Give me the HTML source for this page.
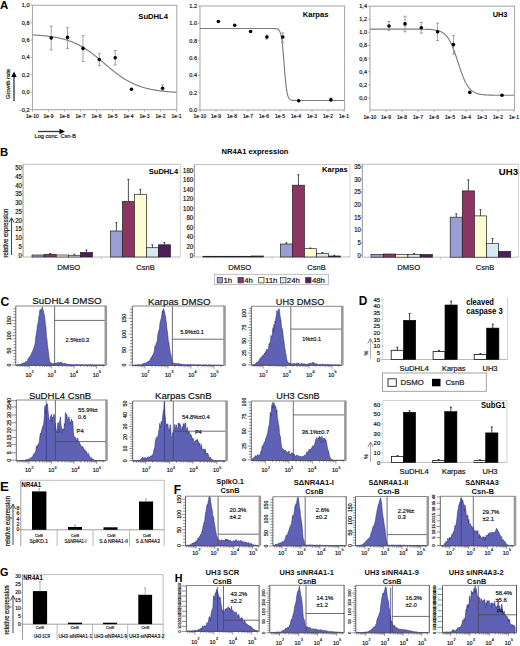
<!DOCTYPE html>
<html><head><meta charset="utf-8"><style>
html,body{margin:0;padding:0;background:#fff;}
svg{display:block;}
text{font-family:"Liberation Sans", sans-serif;}
</style></head><body>
<svg width="520" height="646" viewBox="0 0 520 646">
<rect width="520" height="646" fill="#fff"/>
<text x="0.00" y="9.31" font-size="11.45" font-weight="bold">A</text>
<rect x="32.50" y="5.30" width="144.30" height="104.40" fill="none" stroke="#ababab" stroke-width="1.1"/>
<line x1="30.50" y1="5.30" x2="32.50" y2="5.30" stroke="#ababab" stroke-width="0.9" />
<text x="29.50" y="7.26" font-size="5.6" text-anchor="end" fill="#111" stroke="#111" stroke-width="0.18">1,0</text>
<line x1="30.50" y1="22.70" x2="32.50" y2="22.70" stroke="#ababab" stroke-width="0.9" />
<text x="29.50" y="24.66" font-size="5.6" text-anchor="end" fill="#111" stroke="#111" stroke-width="0.18">0,8</text>
<line x1="30.50" y1="40.10" x2="32.50" y2="40.10" stroke="#ababab" stroke-width="0.9" />
<text x="29.50" y="42.06" font-size="5.6" text-anchor="end" fill="#111" stroke="#111" stroke-width="0.18">0,6</text>
<line x1="30.50" y1="57.50" x2="32.50" y2="57.50" stroke="#ababab" stroke-width="0.9" />
<text x="29.50" y="59.46" font-size="5.6" text-anchor="end" fill="#111" stroke="#111" stroke-width="0.18">0,4</text>
<line x1="30.50" y1="74.90" x2="32.50" y2="74.90" stroke="#ababab" stroke-width="0.9" />
<text x="29.50" y="76.86" font-size="5.6" text-anchor="end" fill="#111" stroke="#111" stroke-width="0.18">0,2</text>
<line x1="30.50" y1="92.30" x2="32.50" y2="92.30" stroke="#ababab" stroke-width="0.9" />
<text x="29.50" y="94.26" font-size="5.6" text-anchor="end" fill="#111" stroke="#111" stroke-width="0.18">0,0</text>
<line x1="30.50" y1="109.70" x2="32.50" y2="109.70" stroke="#ababab" stroke-width="0.9" />
<text x="29.50" y="111.66" font-size="5.6" text-anchor="end" fill="#111" stroke="#111" stroke-width="0.18">-0,2</text>
<line x1="32.50" y1="109.70" x2="32.50" y2="111.70" stroke="#ababab" stroke-width="0.9" />
<text x="32.50" y="118.05" font-size="5.0" text-anchor="middle" fill="#111" stroke="#111" stroke-width="0.18">1e-10</text>
<line x1="48.50" y1="109.70" x2="48.50" y2="111.70" stroke="#ababab" stroke-width="0.9" />
<text x="48.50" y="118.05" font-size="5.0" text-anchor="middle" fill="#111" stroke="#111" stroke-width="0.18">1e-9</text>
<line x1="64.50" y1="109.70" x2="64.50" y2="111.70" stroke="#ababab" stroke-width="0.9" />
<text x="64.50" y="118.05" font-size="5.0" text-anchor="middle" fill="#111" stroke="#111" stroke-width="0.18">1e-8</text>
<line x1="80.50" y1="109.70" x2="80.50" y2="111.70" stroke="#ababab" stroke-width="0.9" />
<text x="80.50" y="118.05" font-size="5.0" text-anchor="middle" fill="#111" stroke="#111" stroke-width="0.18">1e-7</text>
<line x1="96.50" y1="109.70" x2="96.50" y2="111.70" stroke="#ababab" stroke-width="0.9" />
<text x="96.50" y="118.05" font-size="5.0" text-anchor="middle" fill="#111" stroke="#111" stroke-width="0.18">1e-6</text>
<line x1="112.50" y1="109.70" x2="112.50" y2="111.70" stroke="#ababab" stroke-width="0.9" />
<text x="112.50" y="118.05" font-size="5.0" text-anchor="middle" fill="#111" stroke="#111" stroke-width="0.18">1e-5</text>
<line x1="128.50" y1="109.70" x2="128.50" y2="111.70" stroke="#ababab" stroke-width="0.9" />
<text x="128.50" y="118.05" font-size="5.0" text-anchor="middle" fill="#111" stroke="#111" stroke-width="0.18">1e-4</text>
<line x1="144.50" y1="109.70" x2="144.50" y2="111.70" stroke="#ababab" stroke-width="0.9" />
<text x="144.50" y="118.05" font-size="5.0" text-anchor="middle" fill="#111" stroke="#111" stroke-width="0.18">1e-3</text>
<line x1="160.50" y1="109.70" x2="160.50" y2="111.70" stroke="#ababab" stroke-width="0.9" />
<text x="160.50" y="118.05" font-size="5.0" text-anchor="middle" fill="#111" stroke="#111" stroke-width="0.18">1e-2</text>
<line x1="176.50" y1="109.70" x2="176.50" y2="111.70" stroke="#ababab" stroke-width="0.9" />
<text x="176.50" y="118.05" font-size="5.0" text-anchor="middle" fill="#111" stroke="#111" stroke-width="0.18">1e-1</text>
<text x="138.30" y="19.20" font-size="7.5" font-weight="bold" textLength="29.70" lengthAdjust="spacingAndGlyphs">SuDHL4</text>
<path d="M32.50,34.93 L33.00,34.96 L33.50,34.99 L34.00,35.01 L34.50,35.04 L35.00,35.07 L35.50,35.10 L36.00,35.14 L36.50,35.17 L37.00,35.20 L37.50,35.23 L38.00,35.27 L38.50,35.31 L39.00,35.34 L39.50,35.38 L40.00,35.42 L40.50,35.46 L41.00,35.50 L41.50,35.54 L42.00,35.59 L42.50,35.63 L43.00,35.68 L43.50,35.72 L44.00,35.77 L44.50,35.82 L45.00,35.87 L45.50,35.93 L46.00,35.98 L46.50,36.04 L47.00,36.09 L47.50,36.15 L48.00,36.21 L48.50,36.28 L49.00,36.34 L49.50,36.40 L50.00,36.47 L50.50,36.54 L51.00,36.61 L51.50,36.68 L52.00,36.76 L52.50,36.83 L53.00,36.91 L53.50,36.99 L54.00,37.07 L54.50,37.16 L55.00,37.25 L55.50,37.34 L56.00,37.43 L56.50,37.52 L57.00,37.62 L57.50,37.72 L58.00,37.82 L58.50,37.92 L59.00,38.03 L59.50,38.14 L60.00,38.25 L60.50,38.36 L61.00,38.48 L61.50,38.60 L62.00,38.72 L62.50,38.85 L63.00,38.98 L63.50,39.11 L64.00,39.25 L64.50,39.39 L65.00,39.53 L65.50,39.68 L66.00,39.83 L66.50,39.98 L67.00,40.13 L67.50,40.29 L68.00,40.46 L68.50,40.63 L69.00,40.80 L69.50,40.97 L70.00,41.15 L70.50,41.33 L71.00,41.52 L71.50,41.71 L72.00,41.90 L72.50,42.10 L73.00,42.31 L73.50,42.51 L74.00,42.73 L74.50,42.94 L75.00,43.16 L75.50,43.39 L76.00,43.62 L76.50,43.85 L77.00,44.09 L77.50,44.33 L78.00,44.58 L78.50,44.83 L79.00,45.09 L79.50,45.35 L80.00,45.62 L80.50,45.89 L81.00,46.16 L81.50,46.44 L82.00,46.73 L82.50,47.02 L83.00,47.31 L83.50,47.61 L84.00,47.91 L84.50,48.22 L85.00,48.54 L85.50,48.85 L86.00,49.18 L86.50,49.50 L87.00,49.83 L87.50,50.17 L88.00,50.51 L88.50,50.86 L89.00,51.20 L89.50,51.56 L90.00,51.92 L90.50,52.28 L91.00,52.64 L91.50,53.01 L92.00,53.38 L92.50,53.76 L93.00,54.14 L93.50,54.53 L94.00,54.91 L94.50,55.30 L95.00,55.70 L95.50,56.09 L96.00,56.49 L96.50,56.90 L97.00,57.30 L97.50,57.71 L98.00,58.12 L98.50,58.53 L99.00,58.95 L99.50,59.36 L100.00,59.78 L100.50,60.20 L101.00,60.62 L101.50,61.04 L102.00,61.47 L102.50,61.89 L103.00,62.31 L103.50,62.74 L104.00,63.16 L104.50,63.59 L105.00,64.02 L105.50,64.44 L106.00,64.87 L106.50,65.29 L107.00,65.71 L107.50,66.14 L108.00,66.56 L108.50,66.98 L109.00,67.40 L109.50,67.82 L110.00,68.23 L110.50,68.65 L111.00,69.06 L111.50,69.47 L112.00,69.88 L112.50,70.28 L113.00,70.69 L113.50,71.09 L114.00,71.48 L114.50,71.88 L115.00,72.27 L115.50,72.65 L116.00,73.04 L116.50,73.42 L117.00,73.80 L117.50,74.17 L118.00,74.54 L118.50,74.90 L119.00,75.26 L119.50,75.62 L120.00,75.98 L120.50,76.32 L121.00,76.67 L121.50,77.01 L122.00,77.35 L122.50,77.68 L123.00,78.00 L123.50,78.33 L124.00,78.64 L124.50,78.96 L125.00,79.27 L125.50,79.57 L126.00,79.87 L126.50,80.16 L127.00,80.45 L127.50,80.74 L128.00,81.02 L128.50,81.29 L129.00,81.56 L129.50,81.83 L130.00,82.09 L130.50,82.35 L131.00,82.60 L131.50,82.85 L132.00,83.09 L132.50,83.33 L133.00,83.56 L133.50,83.79 L134.00,84.02 L134.50,84.24 L135.00,84.45 L135.50,84.67 L136.00,84.87 L136.50,85.08 L137.00,85.28 L137.50,85.47 L138.00,85.66 L138.50,85.85 L139.00,86.03 L139.50,86.21 L140.00,86.38 L140.50,86.55 L141.00,86.72 L141.50,86.89 L142.00,87.05 L142.50,87.20 L143.00,87.35 L143.50,87.50 L144.00,87.65 L144.50,87.79 L145.00,87.93 L145.50,88.07 L146.00,88.20 L146.50,88.33 L147.00,88.46 L147.50,88.58 L148.00,88.70 L148.50,88.82 L149.00,88.93 L149.50,89.04 L150.00,89.15 L150.50,89.26 L151.00,89.36 L151.50,89.46 L152.00,89.56 L152.50,89.66 L153.00,89.75 L153.50,89.84 L154.00,89.93 L154.50,90.02 L155.00,90.11 L155.50,90.19 L156.00,90.27 L156.50,90.35 L157.00,90.42 L157.50,90.50 L158.00,90.57 L158.50,90.64 L159.00,90.71 L159.50,90.78 L160.00,90.84 L160.50,90.90 L161.00,90.97 L161.50,91.03 L162.00,91.09 L162.50,91.14 L163.00,91.20 L163.50,91.25 L164.00,91.31 L164.50,91.36 L165.00,91.41 L165.50,91.46 L166.00,91.50 L166.50,91.55 L167.00,91.59 L167.50,91.64 L168.00,91.68 L168.50,91.72 L169.00,91.76 L169.50,91.80 L170.00,91.84 L170.50,91.87 L171.00,91.91 L171.50,91.95 L172.00,91.98 L172.50,92.01 L173.00,92.04 L173.50,92.08 L174.00,92.11 L174.50,92.14 L175.00,92.17 L175.50,92.19 L176.00,92.22 L176.50,92.25" fill="none" stroke="#7d7d7d" stroke-width="1.15" />
<line x1="51.20" y1="26.00" x2="51.20" y2="50.00" stroke="#8a8a8a" stroke-width="0.8" />
<line x1="49.70" y1="26.00" x2="52.70" y2="26.00" stroke="#8a8a8a" stroke-width="0.8" />
<line x1="49.70" y1="50.00" x2="52.70" y2="50.00" stroke="#8a8a8a" stroke-width="0.8" />
<circle cx="51.20" cy="38.00" r="1.8" fill="#000"/>
<line x1="67.50" y1="27.70" x2="67.50" y2="48.40" stroke="#8a8a8a" stroke-width="0.8" />
<line x1="66.00" y1="27.70" x2="69.00" y2="27.70" stroke="#8a8a8a" stroke-width="0.8" />
<line x1="66.00" y1="48.40" x2="69.00" y2="48.40" stroke="#8a8a8a" stroke-width="0.8" />
<circle cx="67.50" cy="37.40" r="1.8" fill="#000"/>
<line x1="83.00" y1="35.60" x2="83.00" y2="61.60" stroke="#8a8a8a" stroke-width="0.8" />
<line x1="81.50" y1="35.60" x2="84.50" y2="35.60" stroke="#8a8a8a" stroke-width="0.8" />
<line x1="81.50" y1="61.60" x2="84.50" y2="61.60" stroke="#8a8a8a" stroke-width="0.8" />
<circle cx="83.00" cy="48.40" r="1.8" fill="#000"/>
<line x1="99.30" y1="53.60" x2="99.30" y2="65.70" stroke="#8a8a8a" stroke-width="0.8" />
<line x1="97.80" y1="53.60" x2="100.80" y2="53.60" stroke="#8a8a8a" stroke-width="0.8" />
<line x1="97.80" y1="65.70" x2="100.80" y2="65.70" stroke="#8a8a8a" stroke-width="0.8" />
<circle cx="99.30" cy="59.50" r="1.8" fill="#000"/>
<line x1="115.20" y1="50.50" x2="115.20" y2="65.00" stroke="#8a8a8a" stroke-width="0.8" />
<line x1="113.70" y1="50.50" x2="116.70" y2="50.50" stroke="#8a8a8a" stroke-width="0.8" />
<line x1="113.70" y1="65.00" x2="116.70" y2="65.00" stroke="#8a8a8a" stroke-width="0.8" />
<circle cx="115.20" cy="57.80" r="1.8" fill="#000"/>
<circle cx="131.50" cy="89.30" r="1.8" fill="#000"/>
<line x1="162.60" y1="84.80" x2="162.60" y2="90.60" stroke="#8a8a8a" stroke-width="0.8" />
<line x1="161.10" y1="84.80" x2="164.10" y2="84.80" stroke="#8a8a8a" stroke-width="0.8" />
<line x1="161.10" y1="90.60" x2="164.10" y2="90.60" stroke="#8a8a8a" stroke-width="0.8" />
<circle cx="162.60" cy="88.20" r="1.8" fill="#000"/>
<rect x="200.00" y="6.00" width="144.60" height="104.00" fill="none" stroke="#ababab" stroke-width="1.1"/>
<line x1="198.00" y1="6.00" x2="200.00" y2="6.00" stroke="#ababab" stroke-width="0.9" />
<text x="197.00" y="7.96" font-size="5.6" text-anchor="end" fill="#111" stroke="#111" stroke-width="0.18">1.2</text>
<line x1="198.00" y1="23.30" x2="200.00" y2="23.30" stroke="#ababab" stroke-width="0.9" />
<text x="197.00" y="25.26" font-size="5.6" text-anchor="end" fill="#111" stroke="#111" stroke-width="0.18">1.0</text>
<line x1="198.00" y1="40.70" x2="200.00" y2="40.70" stroke="#ababab" stroke-width="0.9" />
<text x="197.00" y="42.66" font-size="5.6" text-anchor="end" fill="#111" stroke="#111" stroke-width="0.18">0.8</text>
<line x1="198.00" y1="58.00" x2="200.00" y2="58.00" stroke="#ababab" stroke-width="0.9" />
<text x="197.00" y="59.96" font-size="5.6" text-anchor="end" fill="#111" stroke="#111" stroke-width="0.18">0.6</text>
<line x1="198.00" y1="75.30" x2="200.00" y2="75.30" stroke="#ababab" stroke-width="0.9" />
<text x="197.00" y="77.26" font-size="5.6" text-anchor="end" fill="#111" stroke="#111" stroke-width="0.18">0.4</text>
<line x1="198.00" y1="92.70" x2="200.00" y2="92.70" stroke="#ababab" stroke-width="0.9" />
<text x="197.00" y="94.66" font-size="5.6" text-anchor="end" fill="#111" stroke="#111" stroke-width="0.18">0.2</text>
<line x1="198.00" y1="110.00" x2="200.00" y2="110.00" stroke="#ababab" stroke-width="0.9" />
<text x="197.00" y="111.96" font-size="5.6" text-anchor="end" fill="#111" stroke="#111" stroke-width="0.18">0.0</text>
<line x1="200.00" y1="110.00" x2="200.00" y2="112.00" stroke="#ababab" stroke-width="0.9" />
<text x="200.00" y="117.75" font-size="5.0" text-anchor="middle" fill="#111" stroke="#111" stroke-width="0.18">1e-10</text>
<line x1="216.00" y1="110.00" x2="216.00" y2="112.00" stroke="#ababab" stroke-width="0.9" />
<text x="216.00" y="117.75" font-size="5.0" text-anchor="middle" fill="#111" stroke="#111" stroke-width="0.18">1e-9</text>
<line x1="232.00" y1="110.00" x2="232.00" y2="112.00" stroke="#ababab" stroke-width="0.9" />
<text x="232.00" y="117.75" font-size="5.0" text-anchor="middle" fill="#111" stroke="#111" stroke-width="0.18">1e-8</text>
<line x1="248.00" y1="110.00" x2="248.00" y2="112.00" stroke="#ababab" stroke-width="0.9" />
<text x="248.00" y="117.75" font-size="5.0" text-anchor="middle" fill="#111" stroke="#111" stroke-width="0.18">1e-7</text>
<line x1="264.00" y1="110.00" x2="264.00" y2="112.00" stroke="#ababab" stroke-width="0.9" />
<text x="264.00" y="117.75" font-size="5.0" text-anchor="middle" fill="#111" stroke="#111" stroke-width="0.18">1e-6</text>
<line x1="280.00" y1="110.00" x2="280.00" y2="112.00" stroke="#ababab" stroke-width="0.9" />
<text x="280.00" y="117.75" font-size="5.0" text-anchor="middle" fill="#111" stroke="#111" stroke-width="0.18">1e-5</text>
<line x1="296.00" y1="110.00" x2="296.00" y2="112.00" stroke="#ababab" stroke-width="0.9" />
<text x="296.00" y="117.75" font-size="5.0" text-anchor="middle" fill="#111" stroke="#111" stroke-width="0.18">1e-4</text>
<line x1="312.00" y1="110.00" x2="312.00" y2="112.00" stroke="#ababab" stroke-width="0.9" />
<text x="312.00" y="117.75" font-size="5.0" text-anchor="middle" fill="#111" stroke="#111" stroke-width="0.18">1e-3</text>
<line x1="328.00" y1="110.00" x2="328.00" y2="112.00" stroke="#ababab" stroke-width="0.9" />
<text x="328.00" y="117.75" font-size="5.0" text-anchor="middle" fill="#111" stroke="#111" stroke-width="0.18">1e-2</text>
<line x1="344.00" y1="110.00" x2="344.00" y2="112.00" stroke="#ababab" stroke-width="0.9" />
<text x="344.00" y="117.75" font-size="5.0" text-anchor="middle" fill="#111" stroke="#111" stroke-width="0.18">1e-1</text>
<text x="302.70" y="17.30" font-size="7.5" font-weight="bold" textLength="25.80" lengthAdjust="spacingAndGlyphs">Karpas</text>
<path d="M200.00,28.50 L200.50,28.50 L201.00,28.50 L201.50,28.50 L202.00,28.50 L202.50,28.50 L203.00,28.50 L203.50,28.50 L204.00,28.50 L204.50,28.50 L205.00,28.50 L205.50,28.50 L206.00,28.50 L206.50,28.50 L207.00,28.50 L207.50,28.50 L208.00,28.50 L208.50,28.50 L209.00,28.50 L209.50,28.50 L210.00,28.50 L210.50,28.50 L211.00,28.50 L211.50,28.50 L212.00,28.50 L212.50,28.50 L213.00,28.50 L213.50,28.50 L214.00,28.50 L214.50,28.50 L215.00,28.50 L215.50,28.50 L216.00,28.50 L216.50,28.50 L217.00,28.50 L217.50,28.50 L218.00,28.50 L218.50,28.50 L219.00,28.50 L219.50,28.50 L220.00,28.50 L220.50,28.50 L221.00,28.50 L221.50,28.50 L222.00,28.50 L222.50,28.50 L223.00,28.50 L223.50,28.50 L224.00,28.50 L224.50,28.50 L225.00,28.50 L225.50,28.50 L226.00,28.50 L226.50,28.50 L227.00,28.50 L227.50,28.50 L228.00,28.50 L228.50,28.50 L229.00,28.50 L229.50,28.50 L230.00,28.50 L230.50,28.50 L231.00,28.50 L231.50,28.50 L232.00,28.50 L232.50,28.50 L233.00,28.50 L233.50,28.50 L234.00,28.50 L234.50,28.50 L235.00,28.50 L235.50,28.50 L236.00,28.50 L236.50,28.50 L237.00,28.50 L237.50,28.50 L238.00,28.50 L238.50,28.50 L239.00,28.50 L239.50,28.50 L240.00,28.50 L240.50,28.50 L241.00,28.50 L241.50,28.50 L242.00,28.50 L242.50,28.50 L243.00,28.50 L243.50,28.50 L244.00,28.50 L244.50,28.50 L245.00,28.50 L245.50,28.50 L246.00,28.50 L246.50,28.50 L247.00,28.50 L247.50,28.50 L248.00,28.50 L248.50,28.50 L249.00,28.50 L249.50,28.50 L250.00,28.50 L250.50,28.50 L251.00,28.50 L251.50,28.50 L252.00,28.50 L252.50,28.50 L253.00,28.50 L253.50,28.50 L254.00,28.50 L254.50,28.50 L255.00,28.50 L255.50,28.50 L256.00,28.50 L256.50,28.50 L257.00,28.50 L257.50,28.50 L258.00,28.50 L258.50,28.50 L259.00,28.50 L259.50,28.50 L260.00,28.50 L260.50,28.50 L261.00,28.50 L261.50,28.50 L262.00,28.50 L262.50,28.50 L263.00,28.50 L263.50,28.50 L264.00,28.50 L264.50,28.50 L265.00,28.50 L265.50,28.50 L266.00,28.50 L266.50,28.50 L267.00,28.50 L267.50,28.50 L268.00,28.50 L268.50,28.50 L269.00,28.50 L269.50,28.50 L270.00,28.50 L270.50,28.51 L271.00,28.51 L271.50,28.51 L272.00,28.51 L272.50,28.52 L273.00,28.53 L273.50,28.54 L274.00,28.55 L274.50,28.57 L275.00,28.60 L275.50,28.64 L276.00,28.70 L276.50,28.79 L277.00,28.92 L277.50,29.09 L278.00,29.35 L278.50,29.71 L279.00,30.22 L279.50,30.93 L280.00,31.94 L280.50,33.32 L281.00,35.22 L281.50,37.75 L282.00,41.06 L282.50,45.23 L283.00,50.28 L283.50,56.10 L284.00,62.41 L284.50,68.86 L285.00,75.04 L285.50,80.60 L286.00,85.34 L286.50,89.19 L287.00,92.21 L287.50,94.50 L288.00,96.19 L288.50,97.43 L289.00,98.32 L289.50,98.95 L290.00,99.40 L290.50,99.72 L291.00,99.94 L291.50,100.10 L292.00,100.21 L292.50,100.29 L293.00,100.34 L293.50,100.38 L294.00,100.40 L294.50,100.42 L295.00,100.43 L295.50,100.44 L296.00,100.45 L296.50,100.45 L297.00,100.46 L297.50,100.46 L298.00,100.46 L298.50,100.46 L299.00,100.46 L299.50,100.46 L300.00,100.46 L300.50,100.46 L301.00,100.46 L301.50,100.46 L302.00,100.46 L302.50,100.46 L303.00,100.46 L303.50,100.46 L304.00,100.46 L304.50,100.46 L305.00,100.46 L305.50,100.46 L306.00,100.46 L306.50,100.46 L307.00,100.46 L307.50,100.46 L308.00,100.46 L308.50,100.46 L309.00,100.46 L309.50,100.46 L310.00,100.46 L310.50,100.46 L311.00,100.46 L311.50,100.46 L312.00,100.46 L312.50,100.46 L313.00,100.46 L313.50,100.46 L314.00,100.46 L314.50,100.46 L315.00,100.46 L315.50,100.46 L316.00,100.46 L316.50,100.46 L317.00,100.46 L317.50,100.46 L318.00,100.46 L318.50,100.46 L319.00,100.46 L319.50,100.46 L320.00,100.46 L320.50,100.46 L321.00,100.46 L321.50,100.46 L322.00,100.46 L322.50,100.46 L323.00,100.46 L323.50,100.46 L324.00,100.46 L324.50,100.46 L325.00,100.46 L325.50,100.46 L326.00,100.46 L326.50,100.46 L327.00,100.46 L327.50,100.46 L328.00,100.46 L328.50,100.46 L329.00,100.46 L329.50,100.46 L330.00,100.46 L330.50,100.46 L331.00,100.46 L331.50,100.46 L332.00,100.46 L332.50,100.46 L333.00,100.46 L333.50,100.46 L334.00,100.46 L334.50,100.46 L335.00,100.46 L335.50,100.46 L336.00,100.46 L336.50,100.46 L337.00,100.46 L337.50,100.46 L338.00,100.46 L338.50,100.46 L339.00,100.46 L339.50,100.46 L340.00,100.46 L340.50,100.46 L341.00,100.46 L341.50,100.46 L342.00,100.46 L342.50,100.46 L343.00,100.46 L343.50,100.46 L344.00,100.46" fill="none" stroke="#7d7d7d" stroke-width="1.15" />
<circle cx="218.40" cy="21.50" r="1.8" fill="#000"/>
<circle cx="234.70" cy="25.30" r="1.8" fill="#000"/>
<circle cx="250.60" cy="31.50" r="1.8" fill="#000"/>
<line x1="266.90" y1="35.00" x2="266.90" y2="39.00" stroke="#8a8a8a" stroke-width="0.8" />
<line x1="265.40" y1="35.00" x2="268.40" y2="35.00" stroke="#8a8a8a" stroke-width="0.8" />
<line x1="265.40" y1="39.00" x2="268.40" y2="39.00" stroke="#8a8a8a" stroke-width="0.8" />
<circle cx="266.90" cy="37.00" r="1.8" fill="#000"/>
<line x1="282.80" y1="32.90" x2="282.80" y2="42.20" stroke="#8a8a8a" stroke-width="0.8" />
<line x1="281.30" y1="32.90" x2="284.30" y2="32.90" stroke="#8a8a8a" stroke-width="0.8" />
<line x1="281.30" y1="42.20" x2="284.30" y2="42.20" stroke="#8a8a8a" stroke-width="0.8" />
<circle cx="282.80" cy="37.00" r="1.8" fill="#000"/>
<circle cx="298.70" cy="100.70" r="1.8" fill="#000"/>
<line x1="330.90" y1="98.00" x2="330.90" y2="101.50" stroke="#8a8a8a" stroke-width="0.8" />
<line x1="329.40" y1="98.00" x2="332.40" y2="98.00" stroke="#8a8a8a" stroke-width="0.8" />
<line x1="329.40" y1="101.50" x2="332.40" y2="101.50" stroke="#8a8a8a" stroke-width="0.8" />
<circle cx="330.90" cy="99.70" r="1.8" fill="#000"/>
<rect x="370.00" y="6.20" width="144.50" height="103.80" fill="none" stroke="#ababab" stroke-width="1.1"/>
<line x1="368.00" y1="6.20" x2="370.00" y2="6.20" stroke="#ababab" stroke-width="0.9" />
<text x="367.00" y="8.16" font-size="5.6" text-anchor="end" fill="#111" stroke="#111" stroke-width="0.18">1,4</text>
<line x1="368.00" y1="19.30" x2="370.00" y2="19.30" stroke="#ababab" stroke-width="0.9" />
<text x="367.00" y="21.26" font-size="5.6" text-anchor="end" fill="#111" stroke="#111" stroke-width="0.18">1,2</text>
<line x1="368.00" y1="32.40" x2="370.00" y2="32.40" stroke="#ababab" stroke-width="0.9" />
<text x="367.00" y="34.36" font-size="5.6" text-anchor="end" fill="#111" stroke="#111" stroke-width="0.18">1,0</text>
<line x1="368.00" y1="45.50" x2="370.00" y2="45.50" stroke="#ababab" stroke-width="0.9" />
<text x="367.00" y="47.46" font-size="5.6" text-anchor="end" fill="#111" stroke="#111" stroke-width="0.18">0,8</text>
<line x1="368.00" y1="58.60" x2="370.00" y2="58.60" stroke="#ababab" stroke-width="0.9" />
<text x="367.00" y="60.56" font-size="5.6" text-anchor="end" fill="#111" stroke="#111" stroke-width="0.18">0,6</text>
<line x1="368.00" y1="71.70" x2="370.00" y2="71.70" stroke="#ababab" stroke-width="0.9" />
<text x="367.00" y="73.66" font-size="5.6" text-anchor="end" fill="#111" stroke="#111" stroke-width="0.18">0,4</text>
<line x1="368.00" y1="84.80" x2="370.00" y2="84.80" stroke="#ababab" stroke-width="0.9" />
<text x="367.00" y="86.76" font-size="5.6" text-anchor="end" fill="#111" stroke="#111" stroke-width="0.18">0,2</text>
<line x1="368.00" y1="97.90" x2="370.00" y2="97.90" stroke="#ababab" stroke-width="0.9" />
<text x="367.00" y="99.86" font-size="5.6" text-anchor="end" fill="#111" stroke="#111" stroke-width="0.18">0,0</text>
<line x1="370.00" y1="110.00" x2="370.00" y2="112.00" stroke="#ababab" stroke-width="0.9" />
<text x="370.00" y="118.75" font-size="5.0" text-anchor="middle" fill="#111" stroke="#111" stroke-width="0.18">1e-10</text>
<line x1="386.00" y1="110.00" x2="386.00" y2="112.00" stroke="#ababab" stroke-width="0.9" />
<text x="386.00" y="118.75" font-size="5.0" text-anchor="middle" fill="#111" stroke="#111" stroke-width="0.18">1e-9</text>
<line x1="402.00" y1="110.00" x2="402.00" y2="112.00" stroke="#ababab" stroke-width="0.9" />
<text x="402.00" y="118.75" font-size="5.0" text-anchor="middle" fill="#111" stroke="#111" stroke-width="0.18">1e-8</text>
<line x1="418.00" y1="110.00" x2="418.00" y2="112.00" stroke="#ababab" stroke-width="0.9" />
<text x="418.00" y="118.75" font-size="5.0" text-anchor="middle" fill="#111" stroke="#111" stroke-width="0.18">1e-7</text>
<line x1="434.00" y1="110.00" x2="434.00" y2="112.00" stroke="#ababab" stroke-width="0.9" />
<text x="434.00" y="118.75" font-size="5.0" text-anchor="middle" fill="#111" stroke="#111" stroke-width="0.18">1e-6</text>
<line x1="450.00" y1="110.00" x2="450.00" y2="112.00" stroke="#ababab" stroke-width="0.9" />
<text x="450.00" y="118.75" font-size="5.0" text-anchor="middle" fill="#111" stroke="#111" stroke-width="0.18">1e-5</text>
<line x1="466.00" y1="110.00" x2="466.00" y2="112.00" stroke="#ababab" stroke-width="0.9" />
<text x="466.00" y="118.75" font-size="5.0" text-anchor="middle" fill="#111" stroke="#111" stroke-width="0.18">1e-4</text>
<line x1="482.00" y1="110.00" x2="482.00" y2="112.00" stroke="#ababab" stroke-width="0.9" />
<text x="482.00" y="118.75" font-size="5.0" text-anchor="middle" fill="#111" stroke="#111" stroke-width="0.18">1e-3</text>
<line x1="498.00" y1="110.00" x2="498.00" y2="112.00" stroke="#ababab" stroke-width="0.9" />
<text x="498.00" y="118.75" font-size="5.0" text-anchor="middle" fill="#111" stroke="#111" stroke-width="0.18">1e-2</text>
<line x1="514.00" y1="110.00" x2="514.00" y2="112.00" stroke="#ababab" stroke-width="0.9" />
<text x="514.00" y="118.75" font-size="5.0" text-anchor="middle" fill="#111" stroke="#111" stroke-width="0.18">1e-1</text>
<text x="492.70" y="16.90" font-size="7.4" font-weight="bold" textLength="14.80" lengthAdjust="spacingAndGlyphs">UH3</text>
<path d="M370.00,29.13 L370.50,29.13 L371.00,29.13 L371.50,29.13 L372.00,29.13 L372.50,29.13 L373.00,29.13 L373.50,29.13 L374.00,29.13 L374.50,29.13 L375.00,29.13 L375.50,29.13 L376.00,29.13 L376.50,29.13 L377.00,29.13 L377.50,29.13 L378.00,29.13 L378.50,29.13 L379.00,29.13 L379.50,29.13 L380.00,29.13 L380.50,29.13 L381.00,29.13 L381.50,29.13 L382.00,29.13 L382.50,29.13 L383.00,29.13 L383.50,29.13 L384.00,29.13 L384.50,29.13 L385.00,29.13 L385.50,29.13 L386.00,29.13 L386.50,29.13 L387.00,29.13 L387.50,29.13 L388.00,29.13 L388.50,29.13 L389.00,29.13 L389.50,29.13 L390.00,29.13 L390.50,29.13 L391.00,29.13 L391.50,29.13 L392.00,29.13 L392.50,29.13 L393.00,29.13 L393.50,29.13 L394.00,29.13 L394.50,29.13 L395.00,29.13 L395.50,29.13 L396.00,29.13 L396.50,29.13 L397.00,29.13 L397.50,29.13 L398.00,29.13 L398.50,29.13 L399.00,29.13 L399.50,29.13 L400.00,29.13 L400.50,29.13 L401.00,29.13 L401.50,29.13 L402.00,29.13 L402.50,29.13 L403.00,29.13 L403.50,29.13 L404.00,29.13 L404.50,29.13 L405.00,29.13 L405.50,29.13 L406.00,29.13 L406.50,29.13 L407.00,29.13 L407.50,29.13 L408.00,29.13 L408.50,29.13 L409.00,29.13 L409.50,29.13 L410.00,29.13 L410.50,29.13 L411.00,29.14 L411.50,29.14 L412.00,29.14 L412.50,29.14 L413.00,29.14 L413.50,29.14 L414.00,29.14 L414.50,29.14 L415.00,29.15 L415.50,29.15 L416.00,29.15 L416.50,29.15 L417.00,29.16 L417.50,29.16 L418.00,29.16 L418.50,29.17 L419.00,29.17 L419.50,29.17 L420.00,29.18 L420.50,29.18 L421.00,29.19 L421.50,29.20 L422.00,29.20 L422.50,29.21 L423.00,29.22 L423.50,29.23 L424.00,29.24 L424.50,29.25 L425.00,29.26 L425.50,29.28 L426.00,29.29 L426.50,29.31 L427.00,29.32 L427.50,29.34 L428.00,29.37 L428.50,29.39 L429.00,29.42 L429.50,29.44 L430.00,29.47 L430.50,29.51 L431.00,29.55 L431.50,29.59 L432.00,29.63 L432.50,29.68 L433.00,29.73 L433.50,29.79 L434.00,29.86 L434.50,29.93 L435.00,30.01 L435.50,30.09 L436.00,30.19 L436.50,30.29 L437.00,30.40 L437.50,30.52 L438.00,30.66 L438.50,30.80 L439.00,30.96 L439.50,31.14 L440.00,31.33 L440.50,31.54 L441.00,31.77 L441.50,32.01 L442.00,32.28 L442.50,32.58 L443.00,32.89 L443.50,33.24 L444.00,33.62 L444.50,34.03 L445.00,34.47 L445.50,34.95 L446.00,35.46 L446.50,36.02 L447.00,36.62 L447.50,37.26 L448.00,37.95 L448.50,38.69 L449.00,39.48 L449.50,40.33 L450.00,41.23 L450.50,42.18 L451.00,43.19 L451.50,44.25 L452.00,45.37 L452.50,46.54 L453.00,47.77 L453.50,49.05 L454.00,50.37 L454.50,51.74 L455.00,53.16 L455.50,54.61 L456.00,56.09 L456.50,57.59 L457.00,59.12 L457.50,60.66 L458.00,62.20 L458.50,63.75 L459.00,65.29 L459.50,66.81 L460.00,68.32 L460.50,69.80 L461.00,71.25 L461.50,72.66 L462.00,74.03 L462.50,75.36 L463.00,76.64 L463.50,77.86 L464.00,79.04 L464.50,80.15 L465.00,81.22 L465.50,82.23 L466.00,83.18 L466.50,84.08 L467.00,84.92 L467.50,85.71 L468.00,86.45 L468.50,87.14 L469.00,87.79 L469.50,88.39 L470.00,88.94 L470.50,89.46 L471.00,89.94 L471.50,90.38 L472.00,90.79 L472.50,91.16 L473.00,91.51 L473.50,91.83 L474.00,92.12 L474.50,92.39 L475.00,92.64 L475.50,92.87 L476.00,93.08 L476.50,93.27 L477.00,93.44 L477.50,93.60 L478.00,93.75 L478.50,93.88 L479.00,94.00 L479.50,94.12 L480.00,94.22 L480.50,94.31 L481.00,94.40 L481.50,94.47 L482.00,94.55 L482.50,94.61 L483.00,94.67 L483.50,94.72 L484.00,94.77 L484.50,94.82 L485.00,94.86 L485.50,94.90 L486.00,94.93 L486.50,94.96 L487.00,94.99 L487.50,95.02 L488.00,95.04 L488.50,95.06 L489.00,95.08 L489.50,95.10 L490.00,95.11 L490.50,95.13 L491.00,95.14 L491.50,95.15 L492.00,95.17 L492.50,95.18 L493.00,95.19 L493.50,95.19 L494.00,95.20 L494.50,95.21 L495.00,95.21 L495.50,95.22 L496.00,95.23 L496.50,95.23 L497.00,95.24 L497.50,95.24 L498.00,95.24 L498.50,95.25 L499.00,95.25 L499.50,95.25 L500.00,95.25 L500.50,95.26 L501.00,95.26 L501.50,95.26 L502.00,95.26 L502.50,95.26 L503.00,95.27 L503.50,95.27 L504.00,95.27 L504.50,95.27 L505.00,95.27 L505.50,95.27 L506.00,95.27 L506.50,95.27 L507.00,95.27 L507.50,95.27 L508.00,95.27 L508.50,95.27 L509.00,95.28 L509.50,95.28 L510.00,95.28 L510.50,95.28 L511.00,95.28 L511.50,95.28 L512.00,95.28 L512.50,95.28 L513.00,95.28 L513.50,95.28 L514.00,95.28" fill="none" stroke="#7d7d7d" stroke-width="1.15" />
<line x1="389.00" y1="21.50" x2="389.00" y2="30.40" stroke="#8a8a8a" stroke-width="0.8" />
<line x1="387.50" y1="21.50" x2="390.50" y2="21.50" stroke="#8a8a8a" stroke-width="0.8" />
<line x1="387.50" y1="30.40" x2="390.50" y2="30.40" stroke="#8a8a8a" stroke-width="0.8" />
<circle cx="389.00" cy="26.00" r="1.8" fill="#000"/>
<line x1="405.00" y1="16.30" x2="405.00" y2="31.80" stroke="#8a8a8a" stroke-width="0.8" />
<line x1="403.50" y1="16.30" x2="406.50" y2="16.30" stroke="#8a8a8a" stroke-width="0.8" />
<line x1="403.50" y1="31.80" x2="406.50" y2="31.80" stroke="#8a8a8a" stroke-width="0.8" />
<circle cx="405.00" cy="23.90" r="1.8" fill="#000"/>
<line x1="421.30" y1="22.50" x2="421.30" y2="33.20" stroke="#8a8a8a" stroke-width="0.8" />
<line x1="419.80" y1="22.50" x2="422.80" y2="22.50" stroke="#8a8a8a" stroke-width="0.8" />
<line x1="419.80" y1="33.20" x2="422.80" y2="33.20" stroke="#8a8a8a" stroke-width="0.8" />
<circle cx="421.30" cy="27.70" r="1.8" fill="#000"/>
<line x1="437.60" y1="23.20" x2="437.60" y2="40.50" stroke="#8a8a8a" stroke-width="0.8" />
<line x1="436.10" y1="23.20" x2="439.10" y2="23.20" stroke="#8a8a8a" stroke-width="0.8" />
<line x1="436.10" y1="40.50" x2="439.10" y2="40.50" stroke="#8a8a8a" stroke-width="0.8" />
<circle cx="437.60" cy="31.80" r="1.8" fill="#000"/>
<line x1="453.50" y1="35.60" x2="453.50" y2="54.00" stroke="#8a8a8a" stroke-width="0.8" />
<line x1="452.00" y1="35.60" x2="455.00" y2="35.60" stroke="#8a8a8a" stroke-width="0.8" />
<line x1="452.00" y1="54.00" x2="455.00" y2="54.00" stroke="#8a8a8a" stroke-width="0.8" />
<circle cx="453.50" cy="44.60" r="1.8" fill="#000"/>
<circle cx="469.80" cy="92.40" r="1.8" fill="#000"/>
<circle cx="502.00" cy="95.20" r="1.8" fill="#000"/>
<text x="8.00" y="86.00" font-size="5.7" text-anchor="middle" fill="#111" stroke="#111" stroke-width="0.18" textLength="30.00" lengthAdjust="spacingAndGlyphs" transform="rotate(-90 8.00 84.00)">Growth rate</text>
<line x1="14.00" y1="101.00" x2="14.00" y2="76.00" stroke="#333" stroke-width="1.3" />
<path d="M11.3,77 L14,71.5 L16.7,77 Z" fill="#000" stroke="none" stroke-width="1" />
<line x1="38.00" y1="131.50" x2="60.00" y2="131.50" stroke="#333" stroke-width="1.3" />
<path d="M59.5,128.8 L65,131.5 L59.5,134.2 Z" fill="#000" stroke="none" stroke-width="1" />
<text x="34.60" y="138.26" font-size="5.6" fill="#111" stroke="#111" stroke-width="0.18" textLength="41.40" lengthAdjust="spacingAndGlyphs">Log conc. Csn-B</text>
<text x="0.00" y="155.71" font-size="11.31" font-weight="bold">B</text>
<text x="221.50" y="153.50" font-size="7.4" font-weight="bold" textLength="67.00" lengthAdjust="spacingAndGlyphs">NR4A1 expression</text>
<line x1="180.30" y1="164.30" x2="180.30" y2="257.00" stroke="#c8c8c8" stroke-width="0.8" />
<line x1="23.00" y1="164.30" x2="180.30" y2="164.30" stroke="#b8b8b8" stroke-width="0.9" />
<line x1="23.00" y1="164.30" x2="23.00" y2="257.00" stroke="#888" stroke-width="0.9" />
<line x1="23.00" y1="257.00" x2="180.30" y2="257.00" stroke="#aaa" stroke-width="0.8" />
<line x1="21.50" y1="255.40" x2="23.00" y2="255.40" stroke="#888" stroke-width="0.7" />
<text x="21.80" y="257.78" font-size="6.8" text-anchor="end" fill="#111" stroke="#111" stroke-width="0.18" textLength="3.30" lengthAdjust="spacingAndGlyphs">0</text>
<line x1="21.50" y1="246.63" x2="23.00" y2="246.63" stroke="#888" stroke-width="0.7" />
<text x="21.80" y="249.01" font-size="6.8" text-anchor="end" fill="#111" stroke="#111" stroke-width="0.18" textLength="3.30" lengthAdjust="spacingAndGlyphs">5</text>
<line x1="21.50" y1="237.86" x2="23.00" y2="237.86" stroke="#888" stroke-width="0.7" />
<text x="21.80" y="240.24" font-size="6.8" text-anchor="end" fill="#111" stroke="#111" stroke-width="0.18" textLength="6.60" lengthAdjust="spacingAndGlyphs">10</text>
<line x1="21.50" y1="229.09" x2="23.00" y2="229.09" stroke="#888" stroke-width="0.7" />
<text x="21.80" y="231.47" font-size="6.8" text-anchor="end" fill="#111" stroke="#111" stroke-width="0.18" textLength="6.60" lengthAdjust="spacingAndGlyphs">15</text>
<line x1="21.50" y1="220.32" x2="23.00" y2="220.32" stroke="#888" stroke-width="0.7" />
<text x="21.80" y="222.70" font-size="6.8" text-anchor="end" fill="#111" stroke="#111" stroke-width="0.18" textLength="6.60" lengthAdjust="spacingAndGlyphs">20</text>
<line x1="21.50" y1="211.55" x2="23.00" y2="211.55" stroke="#888" stroke-width="0.7" />
<text x="21.80" y="213.93" font-size="6.8" text-anchor="end" fill="#111" stroke="#111" stroke-width="0.18" textLength="6.60" lengthAdjust="spacingAndGlyphs">25</text>
<line x1="21.50" y1="202.78" x2="23.00" y2="202.78" stroke="#888" stroke-width="0.7" />
<text x="21.80" y="205.16" font-size="6.8" text-anchor="end" fill="#111" stroke="#111" stroke-width="0.18" textLength="6.60" lengthAdjust="spacingAndGlyphs">30</text>
<line x1="21.50" y1="194.01" x2="23.00" y2="194.01" stroke="#888" stroke-width="0.7" />
<text x="21.80" y="196.39" font-size="6.8" text-anchor="end" fill="#111" stroke="#111" stroke-width="0.18" textLength="6.60" lengthAdjust="spacingAndGlyphs">35</text>
<line x1="21.50" y1="185.24" x2="23.00" y2="185.24" stroke="#888" stroke-width="0.7" />
<text x="21.80" y="187.62" font-size="6.8" text-anchor="end" fill="#111" stroke="#111" stroke-width="0.18" textLength="6.60" lengthAdjust="spacingAndGlyphs">40</text>
<line x1="21.50" y1="176.47" x2="23.00" y2="176.47" stroke="#888" stroke-width="0.7" />
<text x="21.80" y="178.85" font-size="6.8" text-anchor="end" fill="#111" stroke="#111" stroke-width="0.18" textLength="6.60" lengthAdjust="spacingAndGlyphs">45</text>
<line x1="21.50" y1="167.70" x2="23.00" y2="167.70" stroke="#888" stroke-width="0.7" />
<text x="21.80" y="170.08" font-size="6.8" text-anchor="end" fill="#111" stroke="#111" stroke-width="0.18" textLength="6.60" lengthAdjust="spacingAndGlyphs">50</text>
<line x1="101.65" y1="257.00" x2="101.65" y2="259.00" stroke="#aaa" stroke-width="0.7" />
<rect x="32.00" y="255.00" width="12.10" height="2.00" fill="#9a9ed2" stroke="#222" stroke-width="0.7"/>
<rect x="44.10" y="254.30" width="12.10" height="2.70" fill="#8c3462" stroke="#222" stroke-width="0.7"/>
<line x1="50.15" y1="253.50" x2="50.15" y2="254.30" stroke="#222" stroke-width="0.8" />
<line x1="49.15" y1="253.50" x2="51.15" y2="253.50" stroke="#222" stroke-width="0.8" />
<rect x="56.20" y="255.00" width="12.10" height="2.00" fill="#fdfbcf" stroke="#222" stroke-width="0.7"/>
<rect x="68.30" y="255.30" width="12.10" height="1.70" fill="#d6e9f2" stroke="#222" stroke-width="0.7"/>
<line x1="74.35" y1="254.30" x2="74.35" y2="255.30" stroke="#222" stroke-width="0.8" />
<line x1="73.35" y1="254.30" x2="75.35" y2="254.30" stroke="#222" stroke-width="0.8" />
<rect x="80.40" y="252.50" width="12.10" height="4.50" fill="#4f1d5c" stroke="#222" stroke-width="0.7"/>
<line x1="86.45" y1="250.00" x2="86.45" y2="252.50" stroke="#222" stroke-width="0.8" />
<line x1="85.45" y1="250.00" x2="87.45" y2="250.00" stroke="#222" stroke-width="0.8" />
<rect x="110.40" y="231.00" width="12.00" height="26.00" fill="#9a9ed2" stroke="#222" stroke-width="0.7"/>
<line x1="116.40" y1="222.60" x2="116.40" y2="231.00" stroke="#222" stroke-width="0.8" />
<line x1="115.40" y1="222.60" x2="117.40" y2="222.60" stroke="#222" stroke-width="0.8" />
<rect x="122.40" y="201.50" width="12.00" height="55.50" fill="#8c3462" stroke="#222" stroke-width="0.7"/>
<line x1="128.40" y1="179.40" x2="128.40" y2="201.50" stroke="#222" stroke-width="0.8" />
<line x1="127.40" y1="179.40" x2="129.40" y2="179.40" stroke="#222" stroke-width="0.8" />
<rect x="134.40" y="194.30" width="12.00" height="62.70" fill="#fdfbcf" stroke="#222" stroke-width="0.7"/>
<line x1="140.40" y1="189.40" x2="140.40" y2="194.30" stroke="#222" stroke-width="0.8" />
<line x1="139.40" y1="189.40" x2="141.40" y2="189.40" stroke="#222" stroke-width="0.8" />
<rect x="146.40" y="247.70" width="12.00" height="9.30" fill="#d6e9f2" stroke="#222" stroke-width="0.7"/>
<line x1="152.40" y1="244.80" x2="152.40" y2="247.70" stroke="#222" stroke-width="0.8" />
<line x1="151.40" y1="244.80" x2="153.40" y2="244.80" stroke="#222" stroke-width="0.8" />
<rect x="158.40" y="244.80" width="12.00" height="12.20" fill="#4f1d5c" stroke="#222" stroke-width="0.7"/>
<line x1="164.40" y1="242.50" x2="164.40" y2="244.80" stroke="#222" stroke-width="0.8" />
<line x1="163.40" y1="242.50" x2="165.40" y2="242.50" stroke="#222" stroke-width="0.8" />
<text x="148.80" y="173.50" font-size="7.5" font-weight="bold" textLength="29.30" lengthAdjust="spacingAndGlyphs">SuDHL4</text>
<line x1="350.00" y1="164.60" x2="350.00" y2="257.00" stroke="#c8c8c8" stroke-width="0.8" />
<line x1="194.30" y1="164.60" x2="350.00" y2="164.60" stroke="#b8b8b8" stroke-width="0.9" />
<line x1="194.30" y1="164.60" x2="194.30" y2="257.00" stroke="#888" stroke-width="0.9" />
<line x1="194.30" y1="257.00" x2="350.00" y2="257.00" stroke="#aaa" stroke-width="0.8" />
<line x1="192.80" y1="255.80" x2="194.30" y2="255.80" stroke="#888" stroke-width="0.7" />
<text x="193.00" y="258.18" font-size="6.8" text-anchor="end" fill="#111" stroke="#111" stroke-width="0.18" textLength="3.30" lengthAdjust="spacingAndGlyphs">0</text>
<line x1="192.80" y1="246.32" x2="194.30" y2="246.32" stroke="#888" stroke-width="0.7" />
<text x="193.00" y="248.70" font-size="6.8" text-anchor="end" fill="#111" stroke="#111" stroke-width="0.18" textLength="6.60" lengthAdjust="spacingAndGlyphs">20</text>
<line x1="192.80" y1="236.84" x2="194.30" y2="236.84" stroke="#888" stroke-width="0.7" />
<text x="193.00" y="239.22" font-size="6.8" text-anchor="end" fill="#111" stroke="#111" stroke-width="0.18" textLength="6.60" lengthAdjust="spacingAndGlyphs">40</text>
<line x1="192.80" y1="227.36" x2="194.30" y2="227.36" stroke="#888" stroke-width="0.7" />
<text x="193.00" y="229.74" font-size="6.8" text-anchor="end" fill="#111" stroke="#111" stroke-width="0.18" textLength="6.60" lengthAdjust="spacingAndGlyphs">60</text>
<line x1="192.80" y1="217.88" x2="194.30" y2="217.88" stroke="#888" stroke-width="0.7" />
<text x="193.00" y="220.26" font-size="6.8" text-anchor="end" fill="#111" stroke="#111" stroke-width="0.18" textLength="6.60" lengthAdjust="spacingAndGlyphs">80</text>
<line x1="192.80" y1="208.40" x2="194.30" y2="208.40" stroke="#888" stroke-width="0.7" />
<text x="193.00" y="210.78" font-size="6.8" text-anchor="end" fill="#111" stroke="#111" stroke-width="0.18" textLength="9.90" lengthAdjust="spacingAndGlyphs">100</text>
<line x1="192.80" y1="198.92" x2="194.30" y2="198.92" stroke="#888" stroke-width="0.7" />
<text x="193.00" y="201.30" font-size="6.8" text-anchor="end" fill="#111" stroke="#111" stroke-width="0.18" textLength="9.90" lengthAdjust="spacingAndGlyphs">120</text>
<line x1="192.80" y1="189.44" x2="194.30" y2="189.44" stroke="#888" stroke-width="0.7" />
<text x="193.00" y="191.82" font-size="6.8" text-anchor="end" fill="#111" stroke="#111" stroke-width="0.18" textLength="9.90" lengthAdjust="spacingAndGlyphs">140</text>
<line x1="192.80" y1="179.96" x2="194.30" y2="179.96" stroke="#888" stroke-width="0.7" />
<text x="193.00" y="182.34" font-size="6.8" text-anchor="end" fill="#111" stroke="#111" stroke-width="0.18" textLength="9.90" lengthAdjust="spacingAndGlyphs">160</text>
<line x1="192.80" y1="170.48" x2="194.30" y2="170.48" stroke="#888" stroke-width="0.7" />
<text x="193.00" y="172.86" font-size="6.8" text-anchor="end" fill="#111" stroke="#111" stroke-width="0.18" textLength="9.90" lengthAdjust="spacingAndGlyphs">180</text>
<line x1="272.15" y1="257.00" x2="272.15" y2="259.00" stroke="#aaa" stroke-width="0.7" />
<rect x="202.90" y="256.30" width="12.10" height="0.70" fill="#9a9ed2" stroke="#222" stroke-width="0.7"/>
<rect x="215.00" y="256.30" width="12.10" height="0.70" fill="#8c3462" stroke="#222" stroke-width="0.7"/>
<rect x="227.10" y="256.30" width="12.10" height="0.70" fill="#fdfbcf" stroke="#222" stroke-width="0.7"/>
<rect x="239.20" y="256.30" width="12.10" height="0.70" fill="#d6e9f2" stroke="#222" stroke-width="0.7"/>
<rect x="251.30" y="256.00" width="12.10" height="1.00" fill="#4f1d5c" stroke="#222" stroke-width="0.7"/>
<rect x="280.40" y="244.00" width="12.00" height="13.00" fill="#9a9ed2" stroke="#222" stroke-width="0.7"/>
<line x1="286.40" y1="242.80" x2="286.40" y2="244.00" stroke="#222" stroke-width="0.8" />
<line x1="285.40" y1="242.80" x2="287.40" y2="242.80" stroke="#222" stroke-width="0.8" />
<rect x="292.40" y="185.20" width="12.00" height="71.80" fill="#8c3462" stroke="#222" stroke-width="0.7"/>
<line x1="298.40" y1="174.70" x2="298.40" y2="185.20" stroke="#222" stroke-width="0.8" />
<line x1="297.40" y1="174.70" x2="299.40" y2="174.70" stroke="#222" stroke-width="0.8" />
<rect x="304.40" y="248.70" width="12.00" height="8.30" fill="#fdfbcf" stroke="#222" stroke-width="0.7"/>
<line x1="310.40" y1="248.00" x2="310.40" y2="248.70" stroke="#222" stroke-width="0.8" />
<line x1="309.40" y1="248.00" x2="311.40" y2="248.00" stroke="#222" stroke-width="0.8" />
<rect x="316.40" y="253.30" width="12.00" height="3.70" fill="#d6e9f2" stroke="#222" stroke-width="0.7"/>
<line x1="322.40" y1="252.50" x2="322.40" y2="253.30" stroke="#222" stroke-width="0.8" />
<line x1="321.40" y1="252.50" x2="323.40" y2="252.50" stroke="#222" stroke-width="0.8" />
<rect x="328.40" y="256.00" width="12.00" height="1.00" fill="#4f1d5c" stroke="#222" stroke-width="0.7"/>
<line x1="334.40" y1="255.20" x2="334.40" y2="256.00" stroke="#222" stroke-width="0.8" />
<line x1="333.40" y1="255.20" x2="335.40" y2="255.20" stroke="#222" stroke-width="0.8" />
<text x="322.10" y="172.40" font-size="7.5" font-weight="bold" textLength="25.60" lengthAdjust="spacingAndGlyphs">Karpas</text>
<line x1="518.60" y1="164.20" x2="518.60" y2="257.20" stroke="#c8c8c8" stroke-width="0.8" />
<line x1="362.30" y1="164.20" x2="518.60" y2="164.20" stroke="#b8b8b8" stroke-width="0.9" />
<line x1="362.30" y1="164.20" x2="362.30" y2="257.20" stroke="#888" stroke-width="0.9" />
<line x1="362.30" y1="257.20" x2="518.60" y2="257.20" stroke="#aaa" stroke-width="0.8" />
<line x1="360.80" y1="255.50" x2="362.30" y2="255.50" stroke="#888" stroke-width="0.7" />
<text x="360.80" y="257.88" font-size="6.8" text-anchor="end" fill="#111" stroke="#111" stroke-width="0.18" textLength="3.30" lengthAdjust="spacingAndGlyphs">0</text>
<line x1="360.80" y1="242.80" x2="362.30" y2="242.80" stroke="#888" stroke-width="0.7" />
<text x="360.80" y="245.18" font-size="6.8" text-anchor="end" fill="#111" stroke="#111" stroke-width="0.18" textLength="3.30" lengthAdjust="spacingAndGlyphs">5</text>
<line x1="360.80" y1="230.10" x2="362.30" y2="230.10" stroke="#888" stroke-width="0.7" />
<text x="360.80" y="232.48" font-size="6.8" text-anchor="end" fill="#111" stroke="#111" stroke-width="0.18" textLength="6.60" lengthAdjust="spacingAndGlyphs">10</text>
<line x1="360.80" y1="217.40" x2="362.30" y2="217.40" stroke="#888" stroke-width="0.7" />
<text x="360.80" y="219.78" font-size="6.8" text-anchor="end" fill="#111" stroke="#111" stroke-width="0.18" textLength="6.60" lengthAdjust="spacingAndGlyphs">15</text>
<line x1="360.80" y1="204.70" x2="362.30" y2="204.70" stroke="#888" stroke-width="0.7" />
<text x="360.80" y="207.08" font-size="6.8" text-anchor="end" fill="#111" stroke="#111" stroke-width="0.18" textLength="6.60" lengthAdjust="spacingAndGlyphs">20</text>
<line x1="360.80" y1="192.00" x2="362.30" y2="192.00" stroke="#888" stroke-width="0.7" />
<text x="360.80" y="194.38" font-size="6.8" text-anchor="end" fill="#111" stroke="#111" stroke-width="0.18" textLength="6.60" lengthAdjust="spacingAndGlyphs">25</text>
<line x1="360.80" y1="179.30" x2="362.30" y2="179.30" stroke="#888" stroke-width="0.7" />
<text x="360.80" y="181.68" font-size="6.8" text-anchor="end" fill="#111" stroke="#111" stroke-width="0.18" textLength="6.60" lengthAdjust="spacingAndGlyphs">30</text>
<line x1="360.80" y1="166.60" x2="362.30" y2="166.60" stroke="#888" stroke-width="0.7" />
<text x="360.80" y="168.98" font-size="6.8" text-anchor="end" fill="#111" stroke="#111" stroke-width="0.18" textLength="6.60" lengthAdjust="spacingAndGlyphs">35</text>
<line x1="440.45" y1="257.20" x2="440.45" y2="259.20" stroke="#aaa" stroke-width="0.7" />
<rect x="371.00" y="254.50" width="12.30" height="2.70" fill="#9a9ed2" stroke="#222" stroke-width="0.7"/>
<rect x="383.30" y="254.00" width="12.30" height="3.20" fill="#8c3462" stroke="#222" stroke-width="0.7"/>
<rect x="395.60" y="254.50" width="12.30" height="2.70" fill="#fdfbcf" stroke="#222" stroke-width="0.7"/>
<rect x="407.90" y="254.50" width="12.30" height="2.70" fill="#d6e9f2" stroke="#222" stroke-width="0.7"/>
<line x1="414.05" y1="253.50" x2="414.05" y2="254.50" stroke="#222" stroke-width="0.8" />
<line x1="413.05" y1="253.50" x2="415.05" y2="253.50" stroke="#222" stroke-width="0.8" />
<rect x="420.20" y="254.50" width="12.30" height="2.70" fill="#4f1d5c" stroke="#222" stroke-width="0.7"/>
<rect x="450.20" y="217.20" width="12.10" height="40.00" fill="#9a9ed2" stroke="#222" stroke-width="0.7"/>
<line x1="456.25" y1="213.80" x2="456.25" y2="217.20" stroke="#222" stroke-width="0.8" />
<line x1="455.25" y1="213.80" x2="457.25" y2="213.80" stroke="#222" stroke-width="0.8" />
<rect x="462.30" y="190.90" width="12.10" height="66.30" fill="#8c3462" stroke="#222" stroke-width="0.7"/>
<line x1="468.35" y1="179.80" x2="468.35" y2="190.90" stroke="#222" stroke-width="0.8" />
<line x1="467.35" y1="179.80" x2="469.35" y2="179.80" stroke="#222" stroke-width="0.8" />
<rect x="474.40" y="215.90" width="12.10" height="41.30" fill="#fdfbcf" stroke="#222" stroke-width="0.7"/>
<line x1="480.45" y1="209.60" x2="480.45" y2="215.90" stroke="#222" stroke-width="0.8" />
<line x1="479.45" y1="209.60" x2="481.45" y2="209.60" stroke="#222" stroke-width="0.8" />
<rect x="486.50" y="243.30" width="12.10" height="13.90" fill="#d6e9f2" stroke="#222" stroke-width="0.7"/>
<line x1="492.55" y1="238.50" x2="492.55" y2="243.30" stroke="#222" stroke-width="0.8" />
<line x1="491.55" y1="238.50" x2="493.55" y2="238.50" stroke="#222" stroke-width="0.8" />
<rect x="498.60" y="251.30" width="12.10" height="5.90" fill="#4f1d5c" stroke="#222" stroke-width="0.7"/>
<text x="498.80" y="174.80" font-size="9.6" font-weight="bold" textLength="19.20" lengthAdjust="spacingAndGlyphs">UH3</text>
<text x="68.80" y="269.73" font-size="7.8" text-anchor="middle" fill="#111" stroke="#111" stroke-width="0.18" textLength="23.00" lengthAdjust="spacingAndGlyphs">DMSO</text>
<text x="239.80" y="269.73" font-size="7.8" text-anchor="middle" fill="#111" stroke="#111" stroke-width="0.18" textLength="23.00" lengthAdjust="spacingAndGlyphs">DMSO</text>
<text x="408.70" y="269.73" font-size="7.8" text-anchor="middle" fill="#111" stroke="#111" stroke-width="0.18" textLength="23.00" lengthAdjust="spacingAndGlyphs">DMSO</text>
<text x="145.50" y="269.73" font-size="7.8" text-anchor="middle" fill="#111" stroke="#111" stroke-width="0.18" textLength="18.50" lengthAdjust="spacingAndGlyphs">CsnB</text>
<text x="316.50" y="269.73" font-size="7.8" text-anchor="middle" fill="#111" stroke="#111" stroke-width="0.18" textLength="18.50" lengthAdjust="spacingAndGlyphs">CsnB</text>
<text x="485.00" y="269.73" font-size="7.8" text-anchor="middle" fill="#111" stroke="#111" stroke-width="0.18" textLength="18.50" lengthAdjust="spacingAndGlyphs">CsnB</text>
<text x="6.00" y="235.51" font-size="6.6" text-anchor="middle" fill="#111" stroke="#111" stroke-width="0.18" textLength="48.70" lengthAdjust="spacingAndGlyphs" transform="rotate(-90 6.00 233.20)">relative expression</text>
<line x1="11.50" y1="255.00" x2="11.50" y2="218.50" stroke="#333" stroke-width="0.9" />
<path d="M9,222.5 L11.5,217.7 L14,222.5" fill="none" stroke="#333" stroke-width="0.9" />
<rect x="214.50" y="274.30" width="114.10" height="10.10" fill="#fff" stroke="#b0b0b0" stroke-width="0.8"/>
<rect x="217.20" y="277.60" width="5.30" height="5.30" fill="#9a9ed2" stroke="#333" stroke-width="0.7"/>
<text x="223.40" y="283.33" font-size="7.8" fill="#111" stroke="#111" stroke-width="0.18">1h</text>
<rect x="238.00" y="277.60" width="5.30" height="5.30" fill="#8c3462" stroke="#333" stroke-width="0.7"/>
<text x="244.20" y="283.33" font-size="7.8" fill="#111" stroke="#111" stroke-width="0.18">4h</text>
<rect x="258.70" y="277.60" width="5.30" height="5.30" fill="#fdfbcf" stroke="#333" stroke-width="0.7"/>
<text x="264.90" y="283.33" font-size="7.8" fill="#111" stroke="#111" stroke-width="0.18">11h</text>
<rect x="280.60" y="277.60" width="5.30" height="5.30" fill="#d6e9f2" stroke="#333" stroke-width="0.7"/>
<text x="286.80" y="283.33" font-size="7.8" fill="#111" stroke="#111" stroke-width="0.18">24h</text>
<rect x="305.70" y="277.60" width="5.30" height="5.30" fill="#4f1d5c" stroke="#333" stroke-width="0.7"/>
<text x="311.90" y="283.33" font-size="7.8" fill="#111" stroke="#111" stroke-width="0.18">48h</text>
<text x="0.60" y="306.00" font-size="12.15" font-weight="bold">C</text>
<rect x="15.80" y="306.00" width="90.00" height="59.30" fill="#fff"/>
<path d="M16.40,365.30 L16.40,365.00 L16.90,365.00 L17.40,364.66 L17.90,364.76 L18.40,364.74 L18.90,364.69 L19.40,364.63 L19.90,364.59 L20.40,364.55 L20.90,364.80 L21.40,363.65 L21.90,363.75 L22.40,363.58 L22.90,363.39 L23.40,362.87 L23.90,362.82 L24.40,362.97 L24.90,362.41 L25.40,362.02 L25.90,361.85 L26.40,361.90 L26.90,361.29 L27.40,360.69 L27.90,359.22 L28.40,358.35 L28.90,358.48 L29.40,356.85 L29.90,356.77 L30.40,355.70 L30.90,355.15 L31.40,353.53 L31.90,352.22 L32.40,352.25 L32.90,350.33 L33.40,349.84 L33.90,347.88 L34.40,345.66 L34.90,344.28 L35.40,342.05 L35.90,336.25 L36.40,333.58 L36.90,330.33 L37.40,325.49 L37.90,323.43 L38.40,321.55 L38.90,316.44 L39.40,314.56 L39.90,309.69 L40.40,309.80 L40.90,309.68 L41.40,308.97 L41.90,309.17 L42.40,306.87 L42.90,310.96 L43.40,310.52 L43.90,313.44 L44.40,315.37 L44.90,319.15 L45.40,324.90 L45.90,327.05 L46.40,336.18 L46.90,338.64 L47.40,344.50 L47.90,348.17 L48.40,352.18 L48.90,356.94 L49.40,360.47 L49.90,362.55 L50.40,362.28 L50.90,362.98 L51.40,363.10 L51.90,363.55 L52.40,363.60 L52.90,363.45 L53.40,363.55 L53.90,363.57 L54.40,363.23 L54.90,363.79 L55.40,363.04 L55.90,363.35 L56.40,362.90 L56.90,363.18 L57.40,362.90 L57.90,362.45 L58.40,363.05 L58.90,362.30 L59.40,363.78 L59.90,362.44 L60.40,362.28 L60.90,362.49 L61.40,362.61 L61.90,362.52 L62.40,363.15 L62.90,363.58 L63.40,363.62 L63.90,363.63 L64.40,363.21 L64.90,364.14 L65.40,363.34 L65.90,364.43 L66.40,364.04 L66.90,364.41 L67.40,363.98 L67.90,364.62 L68.40,364.46 L68.90,364.41 L69.40,364.48 L69.90,364.34 L70.40,364.54 L70.90,364.36 L71.40,364.69 L71.90,364.42 L72.40,364.76 L72.90,364.85 L73.40,364.89 L73.90,364.56 L74.40,364.59 L74.90,364.64 L75.40,364.81 L75.90,364.86 L76.40,364.52 L76.90,364.69 L77.40,365.00 L77.90,364.60 L78.40,364.84 L78.90,364.79 L79.40,364.76 L79.90,364.85 L80.40,364.82 L80.90,364.77 L81.40,365.00 L81.90,364.78 L82.40,364.78 L82.90,364.85 L83.40,364.95 L83.90,364.84 L84.40,364.83 L84.90,364.90 L85.40,364.92 L85.90,364.85 L86.40,365.00 L86.90,364.85 L87.40,364.87 L87.90,365.00 L88.40,364.97 L88.90,364.94 L89.40,364.79 L89.90,364.75 L90.40,364.86 L90.90,365.00 L91.40,364.99 L91.90,364.85 L92.40,364.77 L92.90,364.92 L93.40,365.00 L93.90,364.99 L94.40,364.88 L94.90,365.00 L95.40,365.00 L95.90,365.00 L96.40,365.00 L96.90,365.00 L97.40,364.93 L97.90,365.00 L98.40,364.90 L98.90,365.00 L99.40,365.00 L99.90,364.99 L100.40,365.00 L100.90,364.86 L101.40,365.00 L101.90,365.00 L102.40,365.00 L102.90,364.92 L103.40,364.86 L103.90,364.95 L104.40,364.92 L104.40,365.30 Z" fill="#5f62b4" stroke="#2f3288" stroke-width="0.6" stroke-linejoin="round"/>
<line x1="54.60" y1="306.00" x2="54.60" y2="365.30" stroke="#4a4a4a" stroke-width="0.8" />
<line x1="54.60" y1="320.40" x2="105.80" y2="320.40" stroke="#4a4a4a" stroke-width="0.8" />
<line x1="15.80" y1="306.00" x2="105.80" y2="306.00" stroke="#7a7a7a" stroke-width="0.9" />
<line x1="15.80" y1="306.00" x2="15.80" y2="365.30" stroke="#555" stroke-width="0.9" />
<line x1="15.80" y1="365.30" x2="105.80" y2="365.30" stroke="#555" stroke-width="0.9" />
<line x1="105.80" y1="305.60" x2="105.80" y2="365.30" stroke="#9a9a9a" stroke-width="2.6" />
<line x1="12.20" y1="365.10" x2="15.80" y2="365.10" stroke="#444" stroke-width="0.6" />
<line x1="13.40" y1="362.18" x2="15.80" y2="362.18" stroke="#444" stroke-width="0.6" />
<line x1="13.40" y1="359.26" x2="15.80" y2="359.26" stroke="#444" stroke-width="0.6" />
<line x1="13.40" y1="356.34" x2="15.80" y2="356.34" stroke="#444" stroke-width="0.6" />
<line x1="13.40" y1="353.42" x2="15.80" y2="353.42" stroke="#444" stroke-width="0.6" />
<line x1="12.20" y1="350.50" x2="15.80" y2="350.50" stroke="#444" stroke-width="0.6" />
<line x1="13.40" y1="347.54" x2="15.80" y2="347.54" stroke="#444" stroke-width="0.6" />
<line x1="13.40" y1="344.58" x2="15.80" y2="344.58" stroke="#444" stroke-width="0.6" />
<line x1="13.40" y1="341.62" x2="15.80" y2="341.62" stroke="#444" stroke-width="0.6" />
<line x1="13.40" y1="338.66" x2="15.80" y2="338.66" stroke="#444" stroke-width="0.6" />
<line x1="12.20" y1="335.70" x2="15.80" y2="335.70" stroke="#444" stroke-width="0.6" />
<line x1="13.40" y1="332.64" x2="15.80" y2="332.64" stroke="#444" stroke-width="0.6" />
<line x1="13.40" y1="329.58" x2="15.80" y2="329.58" stroke="#444" stroke-width="0.6" />
<line x1="13.40" y1="326.52" x2="15.80" y2="326.52" stroke="#444" stroke-width="0.6" />
<line x1="13.40" y1="323.46" x2="15.80" y2="323.46" stroke="#444" stroke-width="0.6" />
<line x1="12.20" y1="320.40" x2="15.80" y2="320.40" stroke="#444" stroke-width="0.6" />
<line x1="13.40" y1="317.48" x2="15.80" y2="317.48" stroke="#444" stroke-width="0.6" />
<line x1="13.40" y1="314.56" x2="15.80" y2="314.56" stroke="#444" stroke-width="0.6" />
<line x1="13.40" y1="311.64" x2="15.80" y2="311.64" stroke="#444" stroke-width="0.6" />
<line x1="13.40" y1="308.72" x2="15.80" y2="308.72" stroke="#444" stroke-width="0.6" />
<text x="8.70" y="322.29" font-size="5.4" text-anchor="middle" fill="#111" stroke="#111" stroke-width="0.18" transform="rotate(-90 8.70 320.40)">150</text>
<text x="8.70" y="337.59" font-size="5.4" text-anchor="middle" fill="#111" stroke="#111" stroke-width="0.18" transform="rotate(-90 8.70 335.70)">100</text>
<text x="8.70" y="352.39" font-size="5.4" text-anchor="middle" fill="#111" stroke="#111" stroke-width="0.18" transform="rotate(-90 8.70 350.50)">50</text>
<text x="8.70" y="366.99" font-size="5.4" text-anchor="middle" fill="#111" stroke="#111" stroke-width="0.18" transform="rotate(-90 8.70 365.10)">0</text>
<line x1="17.47" y1="365.30" x2="17.47" y2="367.10" stroke="#444" stroke-width="0.5" />
<line x1="20.27" y1="365.30" x2="20.27" y2="367.10" stroke="#444" stroke-width="0.5" />
<line x1="22.45" y1="365.30" x2="22.45" y2="367.10" stroke="#444" stroke-width="0.5" />
<line x1="24.22" y1="365.30" x2="24.22" y2="367.10" stroke="#444" stroke-width="0.5" />
<line x1="25.73" y1="365.30" x2="25.73" y2="367.10" stroke="#444" stroke-width="0.5" />
<line x1="27.03" y1="365.30" x2="27.03" y2="367.10" stroke="#444" stroke-width="0.5" />
<line x1="28.17" y1="365.30" x2="28.17" y2="367.10" stroke="#444" stroke-width="0.5" />
<line x1="29.20" y1="365.30" x2="29.20" y2="368.50" stroke="#444" stroke-width="0.5" />
<line x1="35.95" y1="365.30" x2="35.95" y2="367.10" stroke="#444" stroke-width="0.5" />
<line x1="39.90" y1="365.30" x2="39.90" y2="367.10" stroke="#444" stroke-width="0.5" />
<line x1="42.71" y1="365.30" x2="42.71" y2="367.10" stroke="#444" stroke-width="0.5" />
<line x1="44.88" y1="365.30" x2="44.88" y2="367.10" stroke="#444" stroke-width="0.5" />
<line x1="46.66" y1="365.30" x2="46.66" y2="367.10" stroke="#444" stroke-width="0.5" />
<line x1="48.16" y1="365.30" x2="48.16" y2="367.10" stroke="#444" stroke-width="0.5" />
<line x1="49.46" y1="365.30" x2="49.46" y2="367.10" stroke="#444" stroke-width="0.5" />
<line x1="50.61" y1="365.30" x2="50.61" y2="367.10" stroke="#444" stroke-width="0.5" />
<line x1="51.63" y1="365.30" x2="51.63" y2="368.50" stroke="#444" stroke-width="0.5" />
<line x1="58.39" y1="365.30" x2="58.39" y2="367.10" stroke="#444" stroke-width="0.5" />
<line x1="62.34" y1="365.30" x2="62.34" y2="367.10" stroke="#444" stroke-width="0.5" />
<line x1="65.14" y1="365.30" x2="65.14" y2="367.10" stroke="#444" stroke-width="0.5" />
<line x1="67.31" y1="365.30" x2="67.31" y2="367.10" stroke="#444" stroke-width="0.5" />
<line x1="69.09" y1="365.30" x2="69.09" y2="367.10" stroke="#444" stroke-width="0.5" />
<line x1="70.59" y1="365.30" x2="70.59" y2="367.10" stroke="#444" stroke-width="0.5" />
<line x1="71.89" y1="365.30" x2="71.89" y2="367.10" stroke="#444" stroke-width="0.5" />
<line x1="73.04" y1="365.30" x2="73.04" y2="367.10" stroke="#444" stroke-width="0.5" />
<line x1="74.07" y1="365.30" x2="74.07" y2="368.50" stroke="#444" stroke-width="0.5" />
<line x1="80.82" y1="365.30" x2="80.82" y2="367.10" stroke="#444" stroke-width="0.5" />
<line x1="84.77" y1="365.30" x2="84.77" y2="367.10" stroke="#444" stroke-width="0.5" />
<line x1="87.57" y1="365.30" x2="87.57" y2="367.10" stroke="#444" stroke-width="0.5" />
<line x1="89.75" y1="365.30" x2="89.75" y2="367.10" stroke="#444" stroke-width="0.5" />
<line x1="91.52" y1="365.30" x2="91.52" y2="367.10" stroke="#444" stroke-width="0.5" />
<line x1="93.03" y1="365.30" x2="93.03" y2="367.10" stroke="#444" stroke-width="0.5" />
<line x1="94.33" y1="365.30" x2="94.33" y2="367.10" stroke="#444" stroke-width="0.5" />
<line x1="95.47" y1="365.30" x2="95.47" y2="367.10" stroke="#444" stroke-width="0.5" />
<line x1="96.50" y1="365.30" x2="96.50" y2="368.50" stroke="#444" stroke-width="0.5" />
<line x1="103.25" y1="365.30" x2="103.25" y2="367.10" stroke="#444" stroke-width="0.5" />
<text x="28.40" y="376.89" font-size="5.4" text-anchor="middle" fill="#111" stroke="#111" stroke-width="0.18">10</text>
<text x="31.80" y="373.26" font-size="3.6" fill="#111" stroke="#111" stroke-width="0.18">2</text>
<text x="50.50" y="376.89" font-size="5.4" text-anchor="middle" fill="#111" stroke="#111" stroke-width="0.18">10</text>
<text x="53.90" y="373.26" font-size="3.6" fill="#111" stroke="#111" stroke-width="0.18">3</text>
<text x="72.70" y="376.89" font-size="5.4" text-anchor="middle" fill="#111" stroke="#111" stroke-width="0.18">10</text>
<text x="76.10" y="373.26" font-size="3.6" fill="#111" stroke="#111" stroke-width="0.18">4</text>
<text x="95.70" y="376.89" font-size="5.4" text-anchor="middle" fill="#111" stroke="#111" stroke-width="0.18">10</text>
<text x="99.10" y="373.26" font-size="3.6" fill="#111" stroke="#111" stroke-width="0.18">5</text>
<text x="32.30" y="304.32" font-size="9.5" fill="#111" stroke="#111" stroke-width="0.18" textLength="69.30" lengthAdjust="spacingAndGlyphs">SuDHL4 DMSO</text>
<text x="77.40" y="342.26" font-size="5.6" text-anchor="middle" fill="#111" stroke="#111" stroke-width="0.18">2.5%±0.3</text>
<rect x="132.30" y="306.00" width="92.20" height="59.50" fill="#fff"/>
<path d="M132.90,365.50 L132.90,365.20 L133.40,365.11 L133.90,365.13 L134.40,364.93 L134.90,364.94 L135.40,364.91 L135.90,364.79 L136.40,365.06 L136.90,364.69 L137.40,364.77 L137.90,364.61 L138.40,364.74 L138.90,364.44 L139.40,364.74 L139.90,364.75 L140.40,364.71 L140.90,364.61 L141.40,364.72 L141.90,364.48 L142.40,363.78 L142.90,364.47 L143.40,363.58 L143.90,363.43 L144.40,363.04 L144.90,363.52 L145.40,362.94 L145.90,363.50 L146.40,362.38 L146.90,362.99 L147.40,361.87 L147.90,361.46 L148.40,361.87 L148.90,360.88 L149.40,361.66 L149.90,360.13 L150.40,358.96 L150.90,358.16 L151.40,357.20 L151.90,358.31 L152.40,355.05 L152.90,354.98 L153.40,354.83 L153.90,352.40 L154.40,350.84 L154.90,346.33 L155.40,345.49 L155.90,344.89 L156.40,342.67 L156.90,342.62 L157.40,339.55 L157.90,334.37 L158.40,332.01 L158.90,330.25 L159.40,331.10 L159.90,323.61 L160.40,321.56 L160.90,319.61 L161.40,317.85 L161.90,314.58 L162.40,310.58 L162.90,313.08 L163.40,308.61 L163.90,309.98 L164.40,311.33 L164.90,314.34 L165.40,315.83 L165.90,319.70 L166.40,323.16 L166.90,329.04 L167.40,331.79 L167.90,336.10 L168.40,342.34 L168.90,342.02 L169.40,346.56 L169.90,350.04 L170.40,353.78 L170.90,354.25 L171.40,357.93 L171.90,360.36 L172.40,361.65 L172.90,362.70 L173.40,363.38 L173.90,363.07 L174.40,363.33 L174.90,363.06 L175.40,363.70 L175.90,363.87 L176.40,363.45 L176.90,363.57 L177.40,363.69 L177.90,363.84 L178.40,363.92 L178.90,363.31 L179.40,363.84 L179.90,364.60 L180.40,363.99 L180.90,363.92 L181.40,364.80 L181.90,363.99 L182.40,364.40 L182.90,364.48 L183.40,364.45 L183.90,364.72 L184.40,364.62 L184.90,364.33 L185.40,364.64 L185.90,364.99 L186.40,364.58 L186.90,365.12 L187.40,364.45 L187.90,364.49 L188.40,364.32 L188.90,364.59 L189.40,364.41 L189.90,364.88 L190.40,364.47 L190.90,364.54 L191.40,364.71 L191.90,364.34 L192.40,364.72 L192.90,364.64 L193.40,364.54 L193.90,364.78 L194.40,364.78 L194.90,364.90 L195.40,364.64 L195.90,364.70 L196.40,364.94 L196.90,364.60 L197.40,364.69 L197.90,364.71 L198.40,364.64 L198.90,364.72 L199.40,365.10 L199.90,364.31 L200.40,365.07 L200.90,365.13 L201.40,364.93 L201.90,364.88 L202.40,364.99 L202.90,364.73 L203.40,364.48 L203.90,364.98 L204.40,364.83 L204.90,364.89 L205.40,364.59 L205.90,364.71 L206.40,365.03 L206.90,365.08 L207.40,364.94 L207.90,365.13 L208.40,364.74 L208.90,364.72 L209.40,364.79 L209.90,365.08 L210.40,364.78 L210.90,364.93 L211.40,364.97 L211.90,364.92 L212.40,364.95 L212.90,364.96 L213.40,365.08 L213.90,364.83 L214.40,365.10 L214.90,364.90 L215.40,365.11 L215.90,365.20 L216.40,365.11 L216.90,365.12 L217.40,364.92 L217.90,365.19 L218.40,364.92 L218.90,365.06 L219.40,365.20 L219.90,365.20 L220.40,365.15 L220.90,364.97 L221.40,365.20 L221.90,365.06 L222.40,365.20 L222.90,365.15 L222.90,365.50 Z" fill="#5f62b4" stroke="#2f3288" stroke-width="0.6" stroke-linejoin="round"/>
<line x1="172.40" y1="306.00" x2="172.40" y2="365.50" stroke="#4a4a4a" stroke-width="0.8" />
<line x1="172.40" y1="339.20" x2="224.50" y2="339.20" stroke="#4a4a4a" stroke-width="0.8" />
<line x1="132.30" y1="306.00" x2="224.50" y2="306.00" stroke="#7a7a7a" stroke-width="0.9" />
<line x1="132.30" y1="306.00" x2="132.30" y2="365.50" stroke="#555" stroke-width="0.9" />
<line x1="132.30" y1="365.50" x2="224.50" y2="365.50" stroke="#555" stroke-width="0.9" />
<line x1="224.50" y1="305.60" x2="224.50" y2="365.50" stroke="#9a9a9a" stroke-width="2.6" />
<line x1="128.70" y1="365.10" x2="132.30" y2="365.10" stroke="#444" stroke-width="0.6" />
<line x1="129.90" y1="362.08" x2="132.30" y2="362.08" stroke="#444" stroke-width="0.6" />
<line x1="129.90" y1="359.06" x2="132.30" y2="359.06" stroke="#444" stroke-width="0.6" />
<line x1="129.90" y1="356.04" x2="132.30" y2="356.04" stroke="#444" stroke-width="0.6" />
<line x1="129.90" y1="353.02" x2="132.30" y2="353.02" stroke="#444" stroke-width="0.6" />
<line x1="128.70" y1="350.00" x2="132.30" y2="350.00" stroke="#444" stroke-width="0.6" />
<line x1="129.90" y1="346.84" x2="132.30" y2="346.84" stroke="#444" stroke-width="0.6" />
<line x1="129.90" y1="343.68" x2="132.30" y2="343.68" stroke="#444" stroke-width="0.6" />
<line x1="129.90" y1="340.52" x2="132.30" y2="340.52" stroke="#444" stroke-width="0.6" />
<line x1="129.90" y1="337.36" x2="132.30" y2="337.36" stroke="#444" stroke-width="0.6" />
<line x1="128.70" y1="334.20" x2="132.30" y2="334.20" stroke="#444" stroke-width="0.6" />
<line x1="129.90" y1="331.02" x2="132.30" y2="331.02" stroke="#444" stroke-width="0.6" />
<line x1="129.90" y1="327.84" x2="132.30" y2="327.84" stroke="#444" stroke-width="0.6" />
<line x1="129.90" y1="324.66" x2="132.30" y2="324.66" stroke="#444" stroke-width="0.6" />
<line x1="129.90" y1="321.48" x2="132.30" y2="321.48" stroke="#444" stroke-width="0.6" />
<line x1="128.70" y1="318.30" x2="132.30" y2="318.30" stroke="#444" stroke-width="0.6" />
<line x1="129.90" y1="315.28" x2="132.30" y2="315.28" stroke="#444" stroke-width="0.6" />
<line x1="129.90" y1="312.26" x2="132.30" y2="312.26" stroke="#444" stroke-width="0.6" />
<line x1="129.90" y1="309.24" x2="132.30" y2="309.24" stroke="#444" stroke-width="0.6" />
<text x="124.60" y="320.19" font-size="5.4" text-anchor="middle" fill="#111" stroke="#111" stroke-width="0.18" transform="rotate(-90 124.60 318.30)">150</text>
<text x="124.60" y="336.09" font-size="5.4" text-anchor="middle" fill="#111" stroke="#111" stroke-width="0.18" transform="rotate(-90 124.60 334.20)">100</text>
<text x="124.60" y="351.89" font-size="5.4" text-anchor="middle" fill="#111" stroke="#111" stroke-width="0.18" transform="rotate(-90 124.60 350.00)">50</text>
<text x="124.60" y="366.99" font-size="5.4" text-anchor="middle" fill="#111" stroke="#111" stroke-width="0.18" transform="rotate(-90 124.60 365.10)">0</text>
<line x1="132.97" y1="365.50" x2="132.97" y2="367.30" stroke="#444" stroke-width="0.5" />
<line x1="135.85" y1="365.50" x2="135.85" y2="367.30" stroke="#444" stroke-width="0.5" />
<line x1="138.08" y1="365.50" x2="138.08" y2="367.30" stroke="#444" stroke-width="0.5" />
<line x1="139.90" y1="365.50" x2="139.90" y2="367.30" stroke="#444" stroke-width="0.5" />
<line x1="141.44" y1="365.50" x2="141.44" y2="367.30" stroke="#444" stroke-width="0.5" />
<line x1="142.77" y1="365.50" x2="142.77" y2="367.30" stroke="#444" stroke-width="0.5" />
<line x1="143.95" y1="365.50" x2="143.95" y2="367.30" stroke="#444" stroke-width="0.5" />
<line x1="145.00" y1="365.50" x2="145.00" y2="368.70" stroke="#444" stroke-width="0.5" />
<line x1="151.92" y1="365.50" x2="151.92" y2="367.30" stroke="#444" stroke-width="0.5" />
<line x1="155.97" y1="365.50" x2="155.97" y2="367.30" stroke="#444" stroke-width="0.5" />
<line x1="158.85" y1="365.50" x2="158.85" y2="367.30" stroke="#444" stroke-width="0.5" />
<line x1="161.08" y1="365.50" x2="161.08" y2="367.30" stroke="#444" stroke-width="0.5" />
<line x1="162.90" y1="365.50" x2="162.90" y2="367.30" stroke="#444" stroke-width="0.5" />
<line x1="164.44" y1="365.50" x2="164.44" y2="367.30" stroke="#444" stroke-width="0.5" />
<line x1="165.77" y1="365.50" x2="165.77" y2="367.30" stroke="#444" stroke-width="0.5" />
<line x1="166.95" y1="365.50" x2="166.95" y2="367.30" stroke="#444" stroke-width="0.5" />
<line x1="168.00" y1="365.50" x2="168.00" y2="368.70" stroke="#444" stroke-width="0.5" />
<line x1="174.92" y1="365.50" x2="174.92" y2="367.30" stroke="#444" stroke-width="0.5" />
<line x1="178.97" y1="365.50" x2="178.97" y2="367.30" stroke="#444" stroke-width="0.5" />
<line x1="181.85" y1="365.50" x2="181.85" y2="367.30" stroke="#444" stroke-width="0.5" />
<line x1="184.08" y1="365.50" x2="184.08" y2="367.30" stroke="#444" stroke-width="0.5" />
<line x1="185.90" y1="365.50" x2="185.90" y2="367.30" stroke="#444" stroke-width="0.5" />
<line x1="187.44" y1="365.50" x2="187.44" y2="367.30" stroke="#444" stroke-width="0.5" />
<line x1="188.77" y1="365.50" x2="188.77" y2="367.30" stroke="#444" stroke-width="0.5" />
<line x1="189.95" y1="365.50" x2="189.95" y2="367.30" stroke="#444" stroke-width="0.5" />
<line x1="191.00" y1="365.50" x2="191.00" y2="368.70" stroke="#444" stroke-width="0.5" />
<line x1="197.92" y1="365.50" x2="197.92" y2="367.30" stroke="#444" stroke-width="0.5" />
<line x1="201.97" y1="365.50" x2="201.97" y2="367.30" stroke="#444" stroke-width="0.5" />
<line x1="204.85" y1="365.50" x2="204.85" y2="367.30" stroke="#444" stroke-width="0.5" />
<line x1="207.08" y1="365.50" x2="207.08" y2="367.30" stroke="#444" stroke-width="0.5" />
<line x1="208.90" y1="365.50" x2="208.90" y2="367.30" stroke="#444" stroke-width="0.5" />
<line x1="210.44" y1="365.50" x2="210.44" y2="367.30" stroke="#444" stroke-width="0.5" />
<line x1="211.77" y1="365.50" x2="211.77" y2="367.30" stroke="#444" stroke-width="0.5" />
<line x1="212.95" y1="365.50" x2="212.95" y2="367.30" stroke="#444" stroke-width="0.5" />
<line x1="214.00" y1="365.50" x2="214.00" y2="368.70" stroke="#444" stroke-width="0.5" />
<line x1="220.92" y1="365.50" x2="220.92" y2="367.30" stroke="#444" stroke-width="0.5" />
<text x="144.20" y="376.89" font-size="5.4" text-anchor="middle" fill="#111" stroke="#111" stroke-width="0.18">10</text>
<text x="147.60" y="373.26" font-size="3.6" fill="#111" stroke="#111" stroke-width="0.18">2</text>
<text x="168.10" y="376.89" font-size="5.4" text-anchor="middle" fill="#111" stroke="#111" stroke-width="0.18">10</text>
<text x="171.50" y="373.26" font-size="3.6" fill="#111" stroke="#111" stroke-width="0.18">3</text>
<text x="191.20" y="376.89" font-size="5.4" text-anchor="middle" fill="#111" stroke="#111" stroke-width="0.18">10</text>
<text x="194.60" y="373.26" font-size="3.6" fill="#111" stroke="#111" stroke-width="0.18">4</text>
<text x="213.20" y="376.89" font-size="5.4" text-anchor="middle" fill="#111" stroke="#111" stroke-width="0.18">10</text>
<text x="216.60" y="373.26" font-size="3.6" fill="#111" stroke="#111" stroke-width="0.18">5</text>
<text x="148.00" y="304.82" font-size="9.5" fill="#111" stroke="#111" stroke-width="0.18" textLength="62.50" lengthAdjust="spacingAndGlyphs">Karpas DMSO</text>
<text x="192.00" y="333.96" font-size="5.6" text-anchor="middle" fill="#111" stroke="#111" stroke-width="0.18">5.9%±0.1</text>
<rect x="251.40" y="306.30" width="90.90" height="59.00" fill="#fff"/>
<path d="M252.00,365.30 L252.00,365.00 L252.50,365.00 L253.00,365.00 L253.50,364.59 L254.00,364.58 L254.50,365.00 L255.00,363.92 L255.50,364.04 L256.00,363.80 L256.50,362.56 L257.00,363.03 L257.50,362.05 L258.00,362.27 L258.50,361.03 L259.00,361.14 L259.50,359.18 L260.00,359.35 L260.50,357.72 L261.00,358.32 L261.50,357.81 L262.00,355.94 L262.50,356.62 L263.00,354.81 L263.50,355.27 L264.00,355.38 L264.50,352.94 L265.00,354.24 L265.50,351.63 L266.00,352.77 L266.50,349.13 L267.00,349.50 L267.50,350.21 L268.00,349.00 L268.50,348.79 L269.00,343.63 L269.50,343.78 L270.00,342.14 L270.50,341.68 L271.00,335.44 L271.50,337.22 L272.00,336.61 L272.50,332.37 L273.00,327.65 L273.50,332.22 L274.00,324.34 L274.50,328.72 L275.00,320.90 L275.50,322.23 L276.00,316.80 L276.50,314.58 L277.00,310.18 L277.50,313.11 L278.00,312.40 L278.50,310.23 L279.00,308.62 L279.50,311.08 L280.00,315.54 L280.50,318.93 L281.00,320.44 L281.50,327.94 L282.00,328.14 L282.50,329.49 L283.00,334.49 L283.50,338.71 L284.00,341.44 L284.50,346.07 L285.00,348.84 L285.50,352.51 L286.00,354.65 L286.50,358.21 L287.00,360.25 L287.50,361.78 L288.00,362.32 L288.50,363.01 L289.00,363.04 L289.50,362.96 L290.00,363.72 L290.50,363.40 L291.00,363.59 L291.50,363.75 L292.00,363.89 L292.50,364.01 L293.00,363.86 L293.50,363.44 L294.00,363.79 L294.50,363.43 L295.00,363.36 L295.50,363.82 L296.00,364.46 L296.50,363.63 L297.00,362.80 L297.50,363.92 L298.00,363.53 L298.50,362.86 L299.00,363.44 L299.50,364.36 L300.00,364.16 L300.50,364.18 L301.00,364.27 L301.50,363.34 L302.00,364.31 L302.50,363.90 L303.00,363.75 L303.50,363.73 L304.00,363.94 L304.50,364.06 L305.00,363.83 L305.50,364.42 L306.00,363.94 L306.50,364.22 L307.00,364.67 L307.50,364.32 L308.00,364.04 L308.50,363.74 L309.00,363.31 L309.50,363.44 L310.00,363.46 L310.50,363.18 L311.00,364.03 L311.50,363.89 L312.00,362.62 L312.50,363.02 L313.00,362.24 L313.50,362.51 L314.00,363.26 L314.50,363.44 L315.00,363.52 L315.50,363.66 L316.00,363.86 L316.50,363.73 L317.00,363.97 L317.50,364.49 L318.00,364.18 L318.50,364.68 L319.00,364.41 L319.50,364.44 L320.00,364.93 L320.50,364.16 L321.00,364.59 L321.50,364.38 L322.00,364.70 L322.50,364.27 L323.00,364.40 L323.50,364.28 L324.00,364.59 L324.50,364.61 L325.00,365.00 L325.50,364.68 L326.00,365.00 L326.50,364.74 L327.00,364.51 L327.50,364.36 L328.00,364.74 L328.50,364.68 L329.00,364.73 L329.50,364.67 L330.00,364.94 L330.50,364.86 L331.00,364.81 L331.50,364.94 L332.00,364.84 L332.50,364.67 L333.00,364.98 L333.50,365.00 L334.00,364.64 L334.50,365.00 L335.00,364.92 L335.50,364.68 L336.00,364.72 L336.50,364.98 L337.00,365.00 L337.50,364.87 L338.00,365.00 L338.50,365.00 L339.00,364.94 L339.50,365.00 L340.00,364.93 L340.50,365.00 L341.00,364.90 L341.00,365.30 Z" fill="#5f62b4" stroke="#2f3288" stroke-width="0.6" stroke-linejoin="round"/>
<line x1="290.80" y1="306.30" x2="290.80" y2="365.30" stroke="#4a4a4a" stroke-width="0.8" />
<line x1="290.80" y1="329.10" x2="342.30" y2="329.10" stroke="#4a4a4a" stroke-width="0.8" />
<line x1="251.40" y1="306.30" x2="342.30" y2="306.30" stroke="#7a7a7a" stroke-width="0.9" />
<line x1="251.40" y1="306.30" x2="251.40" y2="365.30" stroke="#555" stroke-width="0.9" />
<line x1="251.40" y1="365.30" x2="342.30" y2="365.30" stroke="#555" stroke-width="0.9" />
<line x1="342.30" y1="305.90" x2="342.30" y2="365.30" stroke="#9a9a9a" stroke-width="2.6" />
<line x1="247.80" y1="364.80" x2="251.40" y2="364.80" stroke="#444" stroke-width="0.6" />
<line x1="249.00" y1="362.44" x2="251.40" y2="362.44" stroke="#444" stroke-width="0.6" />
<line x1="249.00" y1="360.08" x2="251.40" y2="360.08" stroke="#444" stroke-width="0.6" />
<line x1="249.00" y1="357.72" x2="251.40" y2="357.72" stroke="#444" stroke-width="0.6" />
<line x1="249.00" y1="355.36" x2="251.40" y2="355.36" stroke="#444" stroke-width="0.6" />
<line x1="247.80" y1="353.00" x2="251.40" y2="353.00" stroke="#444" stroke-width="0.6" />
<line x1="249.00" y1="350.56" x2="251.40" y2="350.56" stroke="#444" stroke-width="0.6" />
<line x1="249.00" y1="348.12" x2="251.40" y2="348.12" stroke="#444" stroke-width="0.6" />
<line x1="249.00" y1="345.68" x2="251.40" y2="345.68" stroke="#444" stroke-width="0.6" />
<line x1="249.00" y1="343.24" x2="251.40" y2="343.24" stroke="#444" stroke-width="0.6" />
<line x1="247.80" y1="340.80" x2="251.40" y2="340.80" stroke="#444" stroke-width="0.6" />
<line x1="249.00" y1="338.14" x2="251.40" y2="338.14" stroke="#444" stroke-width="0.6" />
<line x1="249.00" y1="335.48" x2="251.40" y2="335.48" stroke="#444" stroke-width="0.6" />
<line x1="249.00" y1="332.82" x2="251.40" y2="332.82" stroke="#444" stroke-width="0.6" />
<line x1="249.00" y1="330.16" x2="251.40" y2="330.16" stroke="#444" stroke-width="0.6" />
<line x1="247.80" y1="327.50" x2="251.40" y2="327.50" stroke="#444" stroke-width="0.6" />
<line x1="249.00" y1="324.64" x2="251.40" y2="324.64" stroke="#444" stroke-width="0.6" />
<line x1="249.00" y1="321.78" x2="251.40" y2="321.78" stroke="#444" stroke-width="0.6" />
<line x1="249.00" y1="318.92" x2="251.40" y2="318.92" stroke="#444" stroke-width="0.6" />
<line x1="249.00" y1="316.06" x2="251.40" y2="316.06" stroke="#444" stroke-width="0.6" />
<line x1="247.80" y1="313.20" x2="251.40" y2="313.20" stroke="#444" stroke-width="0.6" />
<line x1="249.00" y1="310.84" x2="251.40" y2="310.84" stroke="#444" stroke-width="0.6" />
<line x1="249.00" y1="308.48" x2="251.40" y2="308.48" stroke="#444" stroke-width="0.6" />
<text x="244.20" y="315.09" font-size="5.4" text-anchor="middle" fill="#111" stroke="#111" stroke-width="0.18" transform="rotate(-90 244.20 313.20)">100</text>
<text x="244.20" y="329.39" font-size="5.4" text-anchor="middle" fill="#111" stroke="#111" stroke-width="0.18" transform="rotate(-90 244.20 327.50)">75</text>
<text x="244.20" y="342.69" font-size="5.4" text-anchor="middle" fill="#111" stroke="#111" stroke-width="0.18" transform="rotate(-90 244.20 340.80)">50</text>
<text x="244.20" y="354.89" font-size="5.4" text-anchor="middle" fill="#111" stroke="#111" stroke-width="0.18" transform="rotate(-90 244.20 353.00)">25</text>
<text x="244.20" y="366.69" font-size="5.4" text-anchor="middle" fill="#111" stroke="#111" stroke-width="0.18" transform="rotate(-90 244.20 364.80)">0</text>
<line x1="253.96" y1="365.30" x2="253.96" y2="367.10" stroke="#444" stroke-width="0.5" />
<line x1="256.19" y1="365.30" x2="256.19" y2="367.10" stroke="#444" stroke-width="0.5" />
<line x1="258.00" y1="365.30" x2="258.00" y2="367.10" stroke="#444" stroke-width="0.5" />
<line x1="259.54" y1="365.30" x2="259.54" y2="367.10" stroke="#444" stroke-width="0.5" />
<line x1="260.87" y1="365.30" x2="260.87" y2="367.10" stroke="#444" stroke-width="0.5" />
<line x1="262.05" y1="365.30" x2="262.05" y2="367.10" stroke="#444" stroke-width="0.5" />
<line x1="263.10" y1="365.30" x2="263.10" y2="368.50" stroke="#444" stroke-width="0.5" />
<line x1="270.01" y1="365.30" x2="270.01" y2="367.10" stroke="#444" stroke-width="0.5" />
<line x1="274.06" y1="365.30" x2="274.06" y2="367.10" stroke="#444" stroke-width="0.5" />
<line x1="276.93" y1="365.30" x2="276.93" y2="367.10" stroke="#444" stroke-width="0.5" />
<line x1="279.15" y1="365.30" x2="279.15" y2="367.10" stroke="#444" stroke-width="0.5" />
<line x1="280.97" y1="365.30" x2="280.97" y2="367.10" stroke="#444" stroke-width="0.5" />
<line x1="282.51" y1="365.30" x2="282.51" y2="367.10" stroke="#444" stroke-width="0.5" />
<line x1="283.84" y1="365.30" x2="283.84" y2="367.10" stroke="#444" stroke-width="0.5" />
<line x1="285.02" y1="365.30" x2="285.02" y2="367.10" stroke="#444" stroke-width="0.5" />
<line x1="286.07" y1="365.30" x2="286.07" y2="368.50" stroke="#444" stroke-width="0.5" />
<line x1="292.98" y1="365.30" x2="292.98" y2="367.10" stroke="#444" stroke-width="0.5" />
<line x1="297.02" y1="365.30" x2="297.02" y2="367.10" stroke="#444" stroke-width="0.5" />
<line x1="299.89" y1="365.30" x2="299.89" y2="367.10" stroke="#444" stroke-width="0.5" />
<line x1="302.12" y1="365.30" x2="302.12" y2="367.10" stroke="#444" stroke-width="0.5" />
<line x1="303.94" y1="365.30" x2="303.94" y2="367.10" stroke="#444" stroke-width="0.5" />
<line x1="305.48" y1="365.30" x2="305.48" y2="367.10" stroke="#444" stroke-width="0.5" />
<line x1="306.81" y1="365.30" x2="306.81" y2="367.10" stroke="#444" stroke-width="0.5" />
<line x1="307.98" y1="365.30" x2="307.98" y2="367.10" stroke="#444" stroke-width="0.5" />
<line x1="309.03" y1="365.30" x2="309.03" y2="368.50" stroke="#444" stroke-width="0.5" />
<line x1="315.95" y1="365.30" x2="315.95" y2="367.10" stroke="#444" stroke-width="0.5" />
<line x1="319.99" y1="365.30" x2="319.99" y2="367.10" stroke="#444" stroke-width="0.5" />
<line x1="322.86" y1="365.30" x2="322.86" y2="367.10" stroke="#444" stroke-width="0.5" />
<line x1="325.09" y1="365.30" x2="325.09" y2="367.10" stroke="#444" stroke-width="0.5" />
<line x1="326.90" y1="365.30" x2="326.90" y2="367.10" stroke="#444" stroke-width="0.5" />
<line x1="328.44" y1="365.30" x2="328.44" y2="367.10" stroke="#444" stroke-width="0.5" />
<line x1="329.77" y1="365.30" x2="329.77" y2="367.10" stroke="#444" stroke-width="0.5" />
<line x1="330.95" y1="365.30" x2="330.95" y2="367.10" stroke="#444" stroke-width="0.5" />
<line x1="332.00" y1="365.30" x2="332.00" y2="368.50" stroke="#444" stroke-width="0.5" />
<line x1="338.91" y1="365.30" x2="338.91" y2="367.10" stroke="#444" stroke-width="0.5" />
<text x="262.30" y="376.89" font-size="5.4" text-anchor="middle" fill="#111" stroke="#111" stroke-width="0.18">10</text>
<text x="265.70" y="373.26" font-size="3.6" fill="#111" stroke="#111" stroke-width="0.18">2</text>
<text x="285.40" y="376.89" font-size="5.4" text-anchor="middle" fill="#111" stroke="#111" stroke-width="0.18">10</text>
<text x="288.80" y="373.26" font-size="3.6" fill="#111" stroke="#111" stroke-width="0.18">3</text>
<text x="309.20" y="376.89" font-size="5.4" text-anchor="middle" fill="#111" stroke="#111" stroke-width="0.18">10</text>
<text x="312.60" y="373.26" font-size="3.6" fill="#111" stroke="#111" stroke-width="0.18">4</text>
<text x="331.20" y="376.89" font-size="5.4" text-anchor="middle" fill="#111" stroke="#111" stroke-width="0.18">10</text>
<text x="334.60" y="373.26" font-size="3.6" fill="#111" stroke="#111" stroke-width="0.18">5</text>
<text x="275.80" y="304.82" font-size="9.5" fill="#111" stroke="#111" stroke-width="0.18" textLength="48.50" lengthAdjust="spacingAndGlyphs">UH3 DMSO</text>
<text x="311.60" y="341.16" font-size="5.6" text-anchor="middle" fill="#111" stroke="#111" stroke-width="0.18">1%±0.1</text>
<rect x="16.30" y="400.00" width="90.20" height="60.80" fill="#fff"/>
<path d="M16.90,460.80 L16.90,460.50 L17.40,460.50 L17.90,460.50 L18.40,460.50 L18.90,460.50 L19.40,460.50 L19.90,460.50 L20.40,460.50 L20.90,460.50 L21.40,460.50 L21.90,460.50 L22.40,460.50 L22.90,460.50 L23.40,460.42 L23.90,460.29 L24.40,460.50 L24.90,460.50 L25.40,460.07 L25.90,459.71 L26.40,459.78 L26.90,459.47 L27.40,459.91 L27.90,459.19 L28.40,459.93 L28.90,458.78 L29.40,459.28 L29.90,458.79 L30.40,458.24 L30.90,457.78 L31.40,457.56 L31.90,456.94 L32.40,457.28 L32.90,455.96 L33.40,454.60 L33.90,453.46 L34.40,453.52 L34.90,453.63 L35.40,451.78 L35.90,450.82 L36.40,445.97 L36.90,447.93 L37.40,445.22 L37.90,446.14 L38.40,443.63 L38.90,443.43 L39.40,440.65 L39.90,436.68 L40.40,433.17 L40.90,434.58 L41.40,431.03 L41.90,429.53 L42.40,427.61 L42.90,425.81 L43.40,424.99 L43.90,422.23 L44.40,416.03 L44.90,405.61 L45.40,413.70 L45.90,406.37 L46.40,404.37 L46.90,405.90 L47.40,403.82 L47.90,409.17 L48.40,414.51 L48.90,419.19 L49.40,421.13 L49.90,421.10 L50.40,416.56 L50.90,416.29 L51.40,414.21 L51.90,422.21 L52.40,417.17 L52.90,418.27 L53.40,415.68 L53.90,414.21 L54.40,415.90 L54.90,430.55 L55.40,423.20 L55.90,429.98 L56.40,430.30 L56.90,432.96 L57.40,426.78 L57.90,422.51 L58.40,423.02 L58.90,432.77 L59.40,421.36 L59.90,421.05 L60.40,416.89 L60.90,425.02 L61.40,427.01 L61.90,433.42 L62.40,428.67 L62.90,430.40 L63.40,429.05 L63.90,430.09 L64.40,423.52 L64.90,425.65 L65.40,412.49 L65.90,414.14 L66.40,414.07 L66.90,414.74 L67.40,419.29 L67.90,419.16 L68.40,419.28 L68.90,416.75 L69.40,419.44 L69.90,424.18 L70.40,422.10 L70.90,421.82 L71.40,419.12 L71.90,422.53 L72.40,420.94 L72.90,422.69 L73.40,431.78 L73.90,436.49 L74.40,436.70 L74.90,438.45 L75.40,437.35 L75.90,438.49 L76.40,442.55 L76.90,439.75 L77.40,439.09 L77.90,437.90 L78.40,442.40 L78.90,443.26 L79.40,442.13 L79.90,445.23 L80.40,444.14 L80.90,446.40 L81.40,446.52 L81.90,447.65 L82.40,446.36 L82.90,447.13 L83.40,447.54 L83.90,448.99 L84.40,450.27 L84.90,449.78 L85.40,450.71 L85.90,452.52 L86.40,451.38 L86.90,453.01 L87.40,453.90 L87.90,455.01 L88.40,453.33 L88.90,455.55 L89.40,455.69 L89.90,456.71 L90.40,458.86 L90.90,458.52 L91.40,457.61 L91.90,458.23 L92.40,459.56 L92.90,458.92 L93.40,459.73 L93.90,459.82 L94.40,460.36 L94.90,460.50 L95.40,460.50 L95.90,460.50 L96.40,460.50 L96.90,460.50 L97.40,460.50 L97.90,460.50 L98.40,460.50 L98.90,460.50 L99.40,460.50 L99.90,460.50 L100.40,460.50 L100.90,460.50 L101.40,460.50 L101.90,460.50 L102.40,460.50 L102.90,460.50 L103.40,460.50 L103.90,460.50 L104.40,460.50 L104.90,460.50 L104.90,460.80 Z" fill="#5f62b4" stroke="#2f3288" stroke-width="0.6" stroke-linejoin="round"/>
<line x1="46.30" y1="400.80" x2="46.30" y2="460.80" stroke="#2f3288" stroke-width="0.7" />
<line x1="55.40" y1="400.00" x2="55.40" y2="460.80" stroke="#4a4a4a" stroke-width="0.8" />
<line x1="55.40" y1="441.60" x2="106.50" y2="441.60" stroke="#4a4a4a" stroke-width="0.8" />
<line x1="16.30" y1="400.00" x2="106.50" y2="400.00" stroke="#7a7a7a" stroke-width="0.9" />
<line x1="16.30" y1="400.00" x2="16.30" y2="460.80" stroke="#555" stroke-width="0.9" />
<line x1="16.30" y1="460.80" x2="106.50" y2="460.80" stroke="#555" stroke-width="0.9" />
<line x1="106.50" y1="399.60" x2="106.50" y2="460.80" stroke="#9a9a9a" stroke-width="2.6" />
<line x1="10.80" y1="460.20" x2="16.30" y2="460.20" stroke="#444" stroke-width="0.6" />
<line x1="10.80" y1="452.80" x2="16.30" y2="452.80" stroke="#444" stroke-width="0.6" />
<line x1="10.80" y1="444.40" x2="16.30" y2="444.40" stroke="#444" stroke-width="0.6" />
<line x1="10.80" y1="437.60" x2="16.30" y2="437.60" stroke="#444" stroke-width="0.6" />
<line x1="10.80" y1="430.20" x2="16.30" y2="430.20" stroke="#444" stroke-width="0.6" />
<line x1="10.80" y1="422.80" x2="16.30" y2="422.80" stroke="#444" stroke-width="0.6" />
<line x1="10.80" y1="415.00" x2="16.30" y2="415.00" stroke="#444" stroke-width="0.6" />
<line x1="10.80" y1="407.00" x2="16.30" y2="407.00" stroke="#444" stroke-width="0.6" />
<line x1="10.80" y1="400.70" x2="16.30" y2="400.70" stroke="#444" stroke-width="0.6" />
<text x="8.90" y="402.59" font-size="5.4" text-anchor="middle" fill="#111" stroke="#111" stroke-width="0.18" transform="rotate(-90 8.90 400.70)">40</text>
<text x="8.90" y="408.89" font-size="5.4" text-anchor="middle" fill="#111" stroke="#111" stroke-width="0.18" transform="rotate(-90 8.90 407.00)">35</text>
<text x="8.90" y="416.89" font-size="5.4" text-anchor="middle" fill="#111" stroke="#111" stroke-width="0.18" transform="rotate(-90 8.90 415.00)">30</text>
<text x="8.90" y="424.69" font-size="5.4" text-anchor="middle" fill="#111" stroke="#111" stroke-width="0.18" transform="rotate(-90 8.90 422.80)">25</text>
<text x="8.90" y="432.09" font-size="5.4" text-anchor="middle" fill="#111" stroke="#111" stroke-width="0.18" transform="rotate(-90 8.90 430.20)">20</text>
<text x="8.90" y="439.49" font-size="5.4" text-anchor="middle" fill="#111" stroke="#111" stroke-width="0.18" transform="rotate(-90 8.90 437.60)">15</text>
<text x="8.90" y="446.29" font-size="5.4" text-anchor="middle" fill="#111" stroke="#111" stroke-width="0.18" transform="rotate(-90 8.90 444.40)">10</text>
<text x="8.90" y="454.69" font-size="5.4" text-anchor="middle" fill="#111" stroke="#111" stroke-width="0.18" transform="rotate(-90 8.90 452.80)">5</text>
<text x="8.90" y="462.09" font-size="5.4" text-anchor="middle" fill="#111" stroke="#111" stroke-width="0.18" transform="rotate(-90 8.90 460.20)">0</text>
<line x1="17.12" y1="460.80" x2="17.12" y2="462.60" stroke="#444" stroke-width="0.5" />
<line x1="19.93" y1="460.80" x2="19.93" y2="462.60" stroke="#444" stroke-width="0.5" />
<line x1="22.12" y1="460.80" x2="22.12" y2="462.60" stroke="#444" stroke-width="0.5" />
<line x1="23.90" y1="460.80" x2="23.90" y2="462.60" stroke="#444" stroke-width="0.5" />
<line x1="25.41" y1="460.80" x2="25.41" y2="462.60" stroke="#444" stroke-width="0.5" />
<line x1="26.72" y1="460.80" x2="26.72" y2="462.60" stroke="#444" stroke-width="0.5" />
<line x1="27.87" y1="460.80" x2="27.87" y2="462.60" stroke="#444" stroke-width="0.5" />
<line x1="28.90" y1="460.80" x2="28.90" y2="464.00" stroke="#444" stroke-width="0.5" />
<line x1="35.68" y1="460.80" x2="35.68" y2="462.60" stroke="#444" stroke-width="0.5" />
<line x1="39.65" y1="460.80" x2="39.65" y2="462.60" stroke="#444" stroke-width="0.5" />
<line x1="42.47" y1="460.80" x2="42.47" y2="462.60" stroke="#444" stroke-width="0.5" />
<line x1="44.65" y1="460.80" x2="44.65" y2="462.60" stroke="#444" stroke-width="0.5" />
<line x1="46.43" y1="460.80" x2="46.43" y2="462.60" stroke="#444" stroke-width="0.5" />
<line x1="47.94" y1="460.80" x2="47.94" y2="462.60" stroke="#444" stroke-width="0.5" />
<line x1="49.25" y1="460.80" x2="49.25" y2="462.60" stroke="#444" stroke-width="0.5" />
<line x1="50.40" y1="460.80" x2="50.40" y2="462.60" stroke="#444" stroke-width="0.5" />
<line x1="51.43" y1="460.80" x2="51.43" y2="464.00" stroke="#444" stroke-width="0.5" />
<line x1="58.22" y1="460.80" x2="58.22" y2="462.60" stroke="#444" stroke-width="0.5" />
<line x1="62.18" y1="460.80" x2="62.18" y2="462.60" stroke="#444" stroke-width="0.5" />
<line x1="65.00" y1="460.80" x2="65.00" y2="462.60" stroke="#444" stroke-width="0.5" />
<line x1="67.18" y1="460.80" x2="67.18" y2="462.60" stroke="#444" stroke-width="0.5" />
<line x1="68.97" y1="460.80" x2="68.97" y2="462.60" stroke="#444" stroke-width="0.5" />
<line x1="70.48" y1="460.80" x2="70.48" y2="462.60" stroke="#444" stroke-width="0.5" />
<line x1="71.78" y1="460.80" x2="71.78" y2="462.60" stroke="#444" stroke-width="0.5" />
<line x1="72.94" y1="460.80" x2="72.94" y2="462.60" stroke="#444" stroke-width="0.5" />
<line x1="73.97" y1="460.80" x2="73.97" y2="464.00" stroke="#444" stroke-width="0.5" />
<line x1="80.75" y1="460.80" x2="80.75" y2="462.60" stroke="#444" stroke-width="0.5" />
<line x1="84.72" y1="460.80" x2="84.72" y2="462.60" stroke="#444" stroke-width="0.5" />
<line x1="87.53" y1="460.80" x2="87.53" y2="462.60" stroke="#444" stroke-width="0.5" />
<line x1="89.72" y1="460.80" x2="89.72" y2="462.60" stroke="#444" stroke-width="0.5" />
<line x1="91.50" y1="460.80" x2="91.50" y2="462.60" stroke="#444" stroke-width="0.5" />
<line x1="93.01" y1="460.80" x2="93.01" y2="462.60" stroke="#444" stroke-width="0.5" />
<line x1="94.32" y1="460.80" x2="94.32" y2="462.60" stroke="#444" stroke-width="0.5" />
<line x1="95.47" y1="460.80" x2="95.47" y2="462.60" stroke="#444" stroke-width="0.5" />
<line x1="96.50" y1="460.80" x2="96.50" y2="464.00" stroke="#444" stroke-width="0.5" />
<line x1="103.28" y1="460.80" x2="103.28" y2="462.60" stroke="#444" stroke-width="0.5" />
<text x="28.10" y="472.39" font-size="5.4" text-anchor="middle" fill="#111" stroke="#111" stroke-width="0.18">10</text>
<text x="31.50" y="468.76" font-size="3.6" fill="#111" stroke="#111" stroke-width="0.18">2</text>
<text x="51.20" y="472.39" font-size="5.4" text-anchor="middle" fill="#111" stroke="#111" stroke-width="0.18">10</text>
<text x="54.60" y="468.76" font-size="3.6" fill="#111" stroke="#111" stroke-width="0.18">3</text>
<text x="74.20" y="472.39" font-size="5.4" text-anchor="middle" fill="#111" stroke="#111" stroke-width="0.18">10</text>
<text x="77.60" y="468.76" font-size="3.6" fill="#111" stroke="#111" stroke-width="0.18">4</text>
<text x="95.70" y="472.39" font-size="5.4" text-anchor="middle" fill="#111" stroke="#111" stroke-width="0.18">10</text>
<text x="99.10" y="468.76" font-size="3.6" fill="#111" stroke="#111" stroke-width="0.18">5</text>
<text x="28.90" y="398.72" font-size="9.5" fill="#111" stroke="#111" stroke-width="0.18" textLength="62.30" lengthAdjust="spacingAndGlyphs">SuDHL4 CsnB</text>
<text x="78.10" y="412.13" font-size="5.8" fill="#111" stroke="#111" stroke-width="0.18">55.9%±</text>
<text x="78.10" y="418.83" font-size="5.8" fill="#111" stroke="#111" stroke-width="0.18">0.6</text>
<text x="76.60" y="433.23" font-size="5.8" fill="#111" stroke="#111" stroke-width="0.18">P4</text>
<rect x="132.70" y="401.00" width="93.90" height="60.00" fill="#fff"/>
<path d="M133.30,461.00 L133.30,460.70 L133.80,460.70 L134.30,460.70 L134.80,460.50 L135.30,460.58 L135.80,460.44 L136.30,460.70 L136.80,460.70 L137.30,460.55 L137.80,460.70 L138.30,460.56 L138.80,460.21 L139.30,460.70 L139.80,459.92 L140.30,460.46 L140.80,459.26 L141.30,458.36 L141.80,458.60 L142.30,458.02 L142.80,456.93 L143.30,457.91 L143.80,458.73 L144.30,457.90 L144.80,457.82 L145.30,457.32 L145.80,458.73 L146.30,458.08 L146.80,458.74 L147.30,457.31 L147.80,457.01 L148.30,457.24 L148.80,456.87 L149.30,457.23 L149.80,457.84 L150.30,455.90 L150.80,456.39 L151.30,456.25 L151.80,455.47 L152.30,456.95 L152.80,454.10 L153.30,453.68 L153.80,450.61 L154.30,448.27 L154.80,447.50 L155.30,441.27 L155.80,439.65 L156.30,437.27 L156.80,437.44 L157.30,437.18 L157.80,436.73 L158.30,434.46 L158.80,430.99 L159.30,428.72 L159.80,423.24 L160.30,427.89 L160.80,425.34 L161.30,421.33 L161.80,423.07 L162.30,420.95 L162.80,415.13 L163.30,411.29 L163.80,409.55 L164.30,401.40 L164.80,413.38 L165.30,417.09 L165.80,424.51 L166.30,426.13 L166.80,423.77 L167.30,424.56 L167.80,423.73 L168.30,428.44 L168.80,429.86 L169.30,431.63 L169.80,427.01 L170.30,424.63 L170.80,429.27 L171.30,436.65 L171.80,437.08 L172.30,437.01 L172.80,432.58 L173.30,433.41 L173.80,430.19 L174.30,428.47 L174.80,424.40 L175.30,427.73 L175.80,428.17 L176.30,424.71 L176.80,427.62 L177.30,428.47 L177.80,429.39 L178.30,422.83 L178.80,425.86 L179.30,423.60 L179.80,423.34 L180.30,424.75 L180.80,426.55 L181.30,431.25 L181.80,429.57 L182.30,426.63 L182.80,429.68 L183.30,423.49 L183.80,427.07 L184.30,424.55 L184.80,423.84 L185.30,422.56 L185.80,425.09 L186.30,432.25 L186.80,429.88 L187.30,427.29 L187.80,430.38 L188.30,434.12 L188.80,431.32 L189.30,432.47 L189.80,433.57 L190.30,434.05 L190.80,435.64 L191.30,435.05 L191.80,437.07 L192.30,439.69 L192.80,438.05 L193.30,438.72 L193.80,444.74 L194.30,443.23 L194.80,441.00 L195.30,440.61 L195.80,441.71 L196.30,439.77 L196.80,440.57 L197.30,439.22 L197.80,439.86 L198.30,441.91 L198.80,442.43 L199.30,445.78 L199.80,443.06 L200.30,446.89 L200.80,448.64 L201.30,444.26 L201.80,447.52 L202.30,449.77 L202.80,450.37 L203.30,448.90 L203.80,450.66 L204.30,449.16 L204.80,453.08 L205.30,449.28 L205.80,452.69 L206.30,454.14 L206.80,453.06 L207.30,453.31 L207.80,453.31 L208.30,454.74 L208.80,456.55 L209.30,457.61 L209.80,458.12 L210.30,456.90 L210.80,458.23 L211.30,459.02 L211.80,459.56 L212.30,459.31 L212.80,459.88 L213.30,460.26 L213.80,460.50 L214.30,460.70 L214.80,460.70 L215.30,460.70 L215.80,460.70 L216.30,460.70 L216.80,460.70 L217.30,460.70 L217.80,460.70 L218.30,460.70 L218.80,460.70 L219.30,460.70 L219.80,460.70 L220.30,460.70 L220.80,460.70 L221.30,460.70 L221.80,460.70 L222.30,460.70 L222.80,460.70 L223.30,460.70 L223.80,460.70 L224.30,460.70 L224.80,460.70 L225.30,460.70 L225.30,461.00 Z" fill="#5f62b4" stroke="#2f3288" stroke-width="0.6" stroke-linejoin="round"/>
<line x1="164.60" y1="401.50" x2="164.60" y2="461.00" stroke="#2f3288" stroke-width="0.7" />
<line x1="173.30" y1="401.00" x2="173.30" y2="461.00" stroke="#4a4a4a" stroke-width="0.8" />
<line x1="173.30" y1="431.20" x2="226.60" y2="431.20" stroke="#4a4a4a" stroke-width="0.8" />
<line x1="132.70" y1="401.00" x2="226.60" y2="401.00" stroke="#7a7a7a" stroke-width="0.9" />
<line x1="132.70" y1="401.00" x2="132.70" y2="461.00" stroke="#555" stroke-width="0.9" />
<line x1="132.70" y1="461.00" x2="226.60" y2="461.00" stroke="#555" stroke-width="0.9" />
<line x1="226.60" y1="400.60" x2="226.60" y2="461.00" stroke="#9a9a9a" stroke-width="2.6" />
<line x1="129.10" y1="460.70" x2="132.70" y2="460.70" stroke="#444" stroke-width="0.6" />
<line x1="130.30" y1="458.28" x2="132.70" y2="458.28" stroke="#444" stroke-width="0.6" />
<line x1="130.30" y1="455.86" x2="132.70" y2="455.86" stroke="#444" stroke-width="0.6" />
<line x1="130.30" y1="453.44" x2="132.70" y2="453.44" stroke="#444" stroke-width="0.6" />
<line x1="130.30" y1="451.02" x2="132.70" y2="451.02" stroke="#444" stroke-width="0.6" />
<line x1="129.10" y1="448.60" x2="132.70" y2="448.60" stroke="#444" stroke-width="0.6" />
<line x1="130.30" y1="446.28" x2="132.70" y2="446.28" stroke="#444" stroke-width="0.6" />
<line x1="130.30" y1="443.96" x2="132.70" y2="443.96" stroke="#444" stroke-width="0.6" />
<line x1="130.30" y1="441.64" x2="132.70" y2="441.64" stroke="#444" stroke-width="0.6" />
<line x1="130.30" y1="439.32" x2="132.70" y2="439.32" stroke="#444" stroke-width="0.6" />
<line x1="129.10" y1="437.00" x2="132.70" y2="437.00" stroke="#444" stroke-width="0.6" />
<line x1="130.30" y1="434.90" x2="132.70" y2="434.90" stroke="#444" stroke-width="0.6" />
<line x1="130.30" y1="432.80" x2="132.70" y2="432.80" stroke="#444" stroke-width="0.6" />
<line x1="130.30" y1="430.70" x2="132.70" y2="430.70" stroke="#444" stroke-width="0.6" />
<line x1="130.30" y1="428.60" x2="132.70" y2="428.60" stroke="#444" stroke-width="0.6" />
<line x1="129.10" y1="426.50" x2="132.70" y2="426.50" stroke="#444" stroke-width="0.6" />
<line x1="130.30" y1="424.20" x2="132.70" y2="424.20" stroke="#444" stroke-width="0.6" />
<line x1="130.30" y1="421.90" x2="132.70" y2="421.90" stroke="#444" stroke-width="0.6" />
<line x1="130.30" y1="419.60" x2="132.70" y2="419.60" stroke="#444" stroke-width="0.6" />
<line x1="130.30" y1="417.30" x2="132.70" y2="417.30" stroke="#444" stroke-width="0.6" />
<line x1="129.10" y1="415.00" x2="132.70" y2="415.00" stroke="#444" stroke-width="0.6" />
<line x1="130.30" y1="412.68" x2="132.70" y2="412.68" stroke="#444" stroke-width="0.6" />
<line x1="130.30" y1="410.36" x2="132.70" y2="410.36" stroke="#444" stroke-width="0.6" />
<line x1="130.30" y1="408.04" x2="132.70" y2="408.04" stroke="#444" stroke-width="0.6" />
<line x1="130.30" y1="405.72" x2="132.70" y2="405.72" stroke="#444" stroke-width="0.6" />
<line x1="129.10" y1="403.40" x2="132.70" y2="403.40" stroke="#444" stroke-width="0.6" />
<text x="125.40" y="405.29" font-size="5.4" text-anchor="middle" fill="#111" stroke="#111" stroke-width="0.18" transform="rotate(-90 125.40 403.40)">50</text>
<text x="125.40" y="416.89" font-size="5.4" text-anchor="middle" fill="#111" stroke="#111" stroke-width="0.18" transform="rotate(-90 125.40 415.00)">40</text>
<text x="125.40" y="428.39" font-size="5.4" text-anchor="middle" fill="#111" stroke="#111" stroke-width="0.18" transform="rotate(-90 125.40 426.50)">30</text>
<text x="125.40" y="438.89" font-size="5.4" text-anchor="middle" fill="#111" stroke="#111" stroke-width="0.18" transform="rotate(-90 125.40 437.00)">20</text>
<text x="125.40" y="450.49" font-size="5.4" text-anchor="middle" fill="#111" stroke="#111" stroke-width="0.18" transform="rotate(-90 125.40 448.60)">10</text>
<text x="125.40" y="462.59" font-size="5.4" text-anchor="middle" fill="#111" stroke="#111" stroke-width="0.18" transform="rotate(-90 125.40 460.70)">0</text>
<line x1="133.44" y1="461.00" x2="133.44" y2="462.80" stroke="#444" stroke-width="0.5" />
<line x1="136.40" y1="461.00" x2="136.40" y2="462.80" stroke="#444" stroke-width="0.5" />
<line x1="138.69" y1="461.00" x2="138.69" y2="462.80" stroke="#444" stroke-width="0.5" />
<line x1="140.56" y1="461.00" x2="140.56" y2="462.80" stroke="#444" stroke-width="0.5" />
<line x1="142.14" y1="461.00" x2="142.14" y2="462.80" stroke="#444" stroke-width="0.5" />
<line x1="143.51" y1="461.00" x2="143.51" y2="462.80" stroke="#444" stroke-width="0.5" />
<line x1="144.72" y1="461.00" x2="144.72" y2="462.80" stroke="#444" stroke-width="0.5" />
<line x1="145.80" y1="461.00" x2="145.80" y2="464.20" stroke="#444" stroke-width="0.5" />
<line x1="152.91" y1="461.00" x2="152.91" y2="462.80" stroke="#444" stroke-width="0.5" />
<line x1="157.08" y1="461.00" x2="157.08" y2="462.80" stroke="#444" stroke-width="0.5" />
<line x1="160.03" y1="461.00" x2="160.03" y2="462.80" stroke="#444" stroke-width="0.5" />
<line x1="162.32" y1="461.00" x2="162.32" y2="462.80" stroke="#444" stroke-width="0.5" />
<line x1="164.19" y1="461.00" x2="164.19" y2="462.80" stroke="#444" stroke-width="0.5" />
<line x1="165.77" y1="461.00" x2="165.77" y2="462.80" stroke="#444" stroke-width="0.5" />
<line x1="167.14" y1="461.00" x2="167.14" y2="462.80" stroke="#444" stroke-width="0.5" />
<line x1="168.35" y1="461.00" x2="168.35" y2="462.80" stroke="#444" stroke-width="0.5" />
<line x1="169.43" y1="461.00" x2="169.43" y2="464.20" stroke="#444" stroke-width="0.5" />
<line x1="176.55" y1="461.00" x2="176.55" y2="462.80" stroke="#444" stroke-width="0.5" />
<line x1="180.71" y1="461.00" x2="180.71" y2="462.80" stroke="#444" stroke-width="0.5" />
<line x1="183.66" y1="461.00" x2="183.66" y2="462.80" stroke="#444" stroke-width="0.5" />
<line x1="185.95" y1="461.00" x2="185.95" y2="462.80" stroke="#444" stroke-width="0.5" />
<line x1="187.82" y1="461.00" x2="187.82" y2="462.80" stroke="#444" stroke-width="0.5" />
<line x1="189.41" y1="461.00" x2="189.41" y2="462.80" stroke="#444" stroke-width="0.5" />
<line x1="190.78" y1="461.00" x2="190.78" y2="462.80" stroke="#444" stroke-width="0.5" />
<line x1="191.99" y1="461.00" x2="191.99" y2="462.80" stroke="#444" stroke-width="0.5" />
<line x1="193.07" y1="461.00" x2="193.07" y2="464.20" stroke="#444" stroke-width="0.5" />
<line x1="200.18" y1="461.00" x2="200.18" y2="462.80" stroke="#444" stroke-width="0.5" />
<line x1="204.34" y1="461.00" x2="204.34" y2="462.80" stroke="#444" stroke-width="0.5" />
<line x1="207.30" y1="461.00" x2="207.30" y2="462.80" stroke="#444" stroke-width="0.5" />
<line x1="209.59" y1="461.00" x2="209.59" y2="462.80" stroke="#444" stroke-width="0.5" />
<line x1="211.46" y1="461.00" x2="211.46" y2="462.80" stroke="#444" stroke-width="0.5" />
<line x1="213.04" y1="461.00" x2="213.04" y2="462.80" stroke="#444" stroke-width="0.5" />
<line x1="214.41" y1="461.00" x2="214.41" y2="462.80" stroke="#444" stroke-width="0.5" />
<line x1="215.62" y1="461.00" x2="215.62" y2="462.80" stroke="#444" stroke-width="0.5" />
<line x1="216.70" y1="461.00" x2="216.70" y2="464.20" stroke="#444" stroke-width="0.5" />
<line x1="223.81" y1="461.00" x2="223.81" y2="462.80" stroke="#444" stroke-width="0.5" />
<text x="145.00" y="472.39" font-size="5.4" text-anchor="middle" fill="#111" stroke="#111" stroke-width="0.18">10</text>
<text x="148.40" y="468.76" font-size="3.6" fill="#111" stroke="#111" stroke-width="0.18">2</text>
<text x="169.70" y="472.39" font-size="5.4" text-anchor="middle" fill="#111" stroke="#111" stroke-width="0.18">10</text>
<text x="173.10" y="468.76" font-size="3.6" fill="#111" stroke="#111" stroke-width="0.18">3</text>
<text x="192.30" y="472.39" font-size="5.4" text-anchor="middle" fill="#111" stroke="#111" stroke-width="0.18">10</text>
<text x="195.70" y="468.76" font-size="3.6" fill="#111" stroke="#111" stroke-width="0.18">4</text>
<text x="215.90" y="472.39" font-size="5.4" text-anchor="middle" fill="#111" stroke="#111" stroke-width="0.18">10</text>
<text x="219.30" y="468.76" font-size="3.6" fill="#111" stroke="#111" stroke-width="0.18">5</text>
<text x="155.00" y="398.72" font-size="9.5" fill="#111" stroke="#111" stroke-width="0.18" textLength="56.60" lengthAdjust="spacingAndGlyphs">Karpas CsnB</text>
<text x="195.90" y="419.13" font-size="5.8" text-anchor="middle" fill="#111" stroke="#111" stroke-width="0.18">54.8%±0.4</text>
<text x="198.30" y="434.09" font-size="5.4" text-anchor="middle" fill="#111" stroke="#111" stroke-width="0.18">P4</text>
<rect x="251.30" y="401.00" width="94.10" height="59.50" fill="#fff"/>
<path d="M251.90,460.50 L251.90,459.85 L252.40,458.53 L252.90,459.04 L253.40,458.17 L253.90,457.20 L254.40,457.81 L254.90,456.59 L255.40,455.61 L255.90,456.11 L256.40,456.41 L256.90,455.85 L257.40,454.47 L257.90,456.06 L258.40,455.52 L258.90,455.03 L259.40,454.72 L259.90,455.19 L260.40,453.46 L260.90,451.21 L261.40,452.09 L261.90,447.77 L262.40,445.71 L262.90,446.62 L263.40,445.04 L263.90,443.36 L264.40,442.09 L264.90,442.16 L265.40,440.71 L265.90,437.79 L266.40,437.50 L266.90,435.37 L267.40,433.91 L267.90,432.20 L268.40,427.48 L268.90,426.03 L269.40,424.88 L269.90,417.76 L270.40,412.19 L270.90,416.29 L271.40,409.93 L271.90,404.73 L272.40,407.66 L272.90,402.40 L273.40,408.46 L273.90,402.57 L274.40,405.33 L274.90,405.28 L275.40,405.67 L275.90,406.82 L276.40,412.65 L276.90,409.84 L277.40,419.12 L277.90,419.66 L278.40,424.20 L278.90,425.89 L279.40,432.55 L279.90,435.55 L280.40,436.65 L280.90,441.87 L281.40,445.72 L281.90,448.49 L282.40,448.33 L282.90,449.46 L283.40,449.33 L283.90,452.23 L284.40,450.12 L284.90,450.49 L285.40,450.78 L285.90,450.57 L286.40,451.72 L286.90,452.57 L287.40,452.95 L287.90,451.99 L288.40,452.09 L288.90,450.89 L289.40,453.04 L289.90,455.02 L290.40,454.11 L290.90,454.63 L291.40,452.72 L291.90,453.81 L292.40,453.45 L292.90,452.84 L293.40,454.57 L293.90,454.30 L294.40,454.37 L294.90,455.87 L295.40,456.50 L295.90,455.85 L296.40,455.30 L296.90,455.74 L297.40,454.96 L297.90,455.47 L298.40,455.86 L298.90,456.66 L299.40,456.62 L299.90,456.45 L300.40,456.46 L300.90,456.28 L301.40,457.01 L301.90,456.53 L302.40,456.70 L302.90,456.10 L303.40,456.48 L303.90,456.40 L304.40,455.14 L304.90,455.10 L305.40,455.51 L305.90,454.60 L306.40,454.67 L306.90,451.69 L307.40,454.59 L307.90,452.19 L308.40,450.72 L308.90,450.32 L309.40,449.12 L309.90,451.83 L310.40,449.85 L310.90,448.69 L311.40,448.89 L311.90,447.61 L312.40,446.30 L312.90,445.87 L313.40,446.38 L313.90,445.26 L314.40,445.32 L314.90,443.25 L315.40,441.58 L315.90,439.50 L316.40,437.65 L316.90,438.34 L317.40,439.22 L317.90,438.88 L318.40,437.57 L318.90,438.78 L319.40,436.12 L319.90,439.08 L320.40,437.09 L320.90,443.11 L321.40,439.84 L321.90,435.93 L322.40,438.99 L322.90,442.24 L323.40,438.10 L323.90,439.06 L324.40,439.37 L324.90,437.92 L325.40,441.23 L325.90,440.04 L326.40,441.97 L326.90,444.52 L327.40,447.96 L327.90,450.93 L328.40,450.44 L328.90,452.87 L329.40,456.01 L329.90,457.29 L330.40,457.63 L330.90,459.25 L331.40,459.34 L331.90,459.72 L332.40,459.60 L332.90,459.71 L333.40,460.20 L333.90,460.20 L334.40,460.20 L334.90,460.20 L335.40,460.20 L335.90,460.20 L336.40,460.20 L336.90,460.20 L337.40,460.20 L337.90,460.20 L338.40,460.20 L338.90,460.20 L339.40,460.20 L339.90,460.20 L340.40,460.20 L340.90,460.20 L341.40,460.20 L341.90,460.20 L342.40,460.20 L342.90,460.20 L343.40,460.19 L343.90,460.20 L343.90,460.50 Z" fill="#5f62b4" stroke="#2f3288" stroke-width="0.6" stroke-linejoin="round"/>
<line x1="293.30" y1="401.00" x2="293.30" y2="460.50" stroke="#4a4a4a" stroke-width="0.8" />
<line x1="293.30" y1="414.90" x2="345.40" y2="414.90" stroke="#4a4a4a" stroke-width="0.8" />
<line x1="251.30" y1="401.00" x2="345.40" y2="401.00" stroke="#7a7a7a" stroke-width="0.9" />
<line x1="251.30" y1="401.00" x2="251.30" y2="460.50" stroke="#555" stroke-width="0.9" />
<line x1="251.30" y1="460.50" x2="345.40" y2="460.50" stroke="#555" stroke-width="0.9" />
<line x1="345.40" y1="400.60" x2="345.40" y2="460.50" stroke="#9a9a9a" stroke-width="2.6" />
<line x1="247.70" y1="459.80" x2="251.30" y2="459.80" stroke="#444" stroke-width="0.6" />
<line x1="248.90" y1="457.04" x2="251.30" y2="457.04" stroke="#444" stroke-width="0.6" />
<line x1="248.90" y1="454.28" x2="251.30" y2="454.28" stroke="#444" stroke-width="0.6" />
<line x1="248.90" y1="451.52" x2="251.30" y2="451.52" stroke="#444" stroke-width="0.6" />
<line x1="248.90" y1="448.76" x2="251.30" y2="448.76" stroke="#444" stroke-width="0.6" />
<line x1="247.70" y1="446.00" x2="251.30" y2="446.00" stroke="#444" stroke-width="0.6" />
<line x1="248.90" y1="443.04" x2="251.30" y2="443.04" stroke="#444" stroke-width="0.6" />
<line x1="248.90" y1="440.08" x2="251.30" y2="440.08" stroke="#444" stroke-width="0.6" />
<line x1="248.90" y1="437.12" x2="251.30" y2="437.12" stroke="#444" stroke-width="0.6" />
<line x1="248.90" y1="434.16" x2="251.30" y2="434.16" stroke="#444" stroke-width="0.6" />
<line x1="247.70" y1="431.20" x2="251.30" y2="431.20" stroke="#444" stroke-width="0.6" />
<line x1="248.90" y1="428.24" x2="251.30" y2="428.24" stroke="#444" stroke-width="0.6" />
<line x1="248.90" y1="425.28" x2="251.30" y2="425.28" stroke="#444" stroke-width="0.6" />
<line x1="248.90" y1="422.32" x2="251.30" y2="422.32" stroke="#444" stroke-width="0.6" />
<line x1="248.90" y1="419.36" x2="251.30" y2="419.36" stroke="#444" stroke-width="0.6" />
<line x1="247.70" y1="416.40" x2="251.30" y2="416.40" stroke="#444" stroke-width="0.6" />
<line x1="248.90" y1="413.54" x2="251.30" y2="413.54" stroke="#444" stroke-width="0.6" />
<line x1="248.90" y1="410.68" x2="251.30" y2="410.68" stroke="#444" stroke-width="0.6" />
<line x1="248.90" y1="407.82" x2="251.30" y2="407.82" stroke="#444" stroke-width="0.6" />
<line x1="248.90" y1="404.96" x2="251.30" y2="404.96" stroke="#444" stroke-width="0.6" />
<line x1="247.70" y1="402.10" x2="251.30" y2="402.10" stroke="#444" stroke-width="0.6" />
<text x="243.70" y="403.99" font-size="5.4" text-anchor="middle" fill="#111" stroke="#111" stroke-width="0.18" transform="rotate(-90 243.70 402.10)">100</text>
<text x="243.70" y="418.29" font-size="5.4" text-anchor="middle" fill="#111" stroke="#111" stroke-width="0.18" transform="rotate(-90 243.70 416.40)">75</text>
<text x="243.70" y="433.09" font-size="5.4" text-anchor="middle" fill="#111" stroke="#111" stroke-width="0.18" transform="rotate(-90 243.70 431.20)">50</text>
<text x="243.70" y="447.89" font-size="5.4" text-anchor="middle" fill="#111" stroke="#111" stroke-width="0.18" transform="rotate(-90 243.70 446.00)">25</text>
<text x="243.70" y="461.69" font-size="5.4" text-anchor="middle" fill="#111" stroke="#111" stroke-width="0.18" transform="rotate(-90 243.70 459.80)">0</text>
<line x1="253.11" y1="460.50" x2="253.11" y2="462.30" stroke="#444" stroke-width="0.5" />
<line x1="256.05" y1="460.50" x2="256.05" y2="462.30" stroke="#444" stroke-width="0.5" />
<line x1="258.33" y1="460.50" x2="258.33" y2="462.30" stroke="#444" stroke-width="0.5" />
<line x1="260.19" y1="460.50" x2="260.19" y2="462.30" stroke="#444" stroke-width="0.5" />
<line x1="261.76" y1="460.50" x2="261.76" y2="462.30" stroke="#444" stroke-width="0.5" />
<line x1="263.12" y1="460.50" x2="263.12" y2="462.30" stroke="#444" stroke-width="0.5" />
<line x1="264.32" y1="460.50" x2="264.32" y2="462.30" stroke="#444" stroke-width="0.5" />
<line x1="265.40" y1="460.50" x2="265.40" y2="463.70" stroke="#444" stroke-width="0.5" />
<line x1="272.47" y1="460.50" x2="272.47" y2="462.30" stroke="#444" stroke-width="0.5" />
<line x1="276.61" y1="460.50" x2="276.61" y2="462.30" stroke="#444" stroke-width="0.5" />
<line x1="279.55" y1="460.50" x2="279.55" y2="462.30" stroke="#444" stroke-width="0.5" />
<line x1="281.83" y1="460.50" x2="281.83" y2="462.30" stroke="#444" stroke-width="0.5" />
<line x1="283.69" y1="460.50" x2="283.69" y2="462.30" stroke="#444" stroke-width="0.5" />
<line x1="285.26" y1="460.50" x2="285.26" y2="462.30" stroke="#444" stroke-width="0.5" />
<line x1="286.62" y1="460.50" x2="286.62" y2="462.30" stroke="#444" stroke-width="0.5" />
<line x1="287.82" y1="460.50" x2="287.82" y2="462.30" stroke="#444" stroke-width="0.5" />
<line x1="288.90" y1="460.50" x2="288.90" y2="463.70" stroke="#444" stroke-width="0.5" />
<line x1="295.97" y1="460.50" x2="295.97" y2="462.30" stroke="#444" stroke-width="0.5" />
<line x1="300.11" y1="460.50" x2="300.11" y2="462.30" stroke="#444" stroke-width="0.5" />
<line x1="303.05" y1="460.50" x2="303.05" y2="462.30" stroke="#444" stroke-width="0.5" />
<line x1="305.33" y1="460.50" x2="305.33" y2="462.30" stroke="#444" stroke-width="0.5" />
<line x1="307.19" y1="460.50" x2="307.19" y2="462.30" stroke="#444" stroke-width="0.5" />
<line x1="308.76" y1="460.50" x2="308.76" y2="462.30" stroke="#444" stroke-width="0.5" />
<line x1="310.12" y1="460.50" x2="310.12" y2="462.30" stroke="#444" stroke-width="0.5" />
<line x1="311.32" y1="460.50" x2="311.32" y2="462.30" stroke="#444" stroke-width="0.5" />
<line x1="312.40" y1="460.50" x2="312.40" y2="463.70" stroke="#444" stroke-width="0.5" />
<line x1="319.47" y1="460.50" x2="319.47" y2="462.30" stroke="#444" stroke-width="0.5" />
<line x1="323.61" y1="460.50" x2="323.61" y2="462.30" stroke="#444" stroke-width="0.5" />
<line x1="326.55" y1="460.50" x2="326.55" y2="462.30" stroke="#444" stroke-width="0.5" />
<line x1="328.83" y1="460.50" x2="328.83" y2="462.30" stroke="#444" stroke-width="0.5" />
<line x1="330.69" y1="460.50" x2="330.69" y2="462.30" stroke="#444" stroke-width="0.5" />
<line x1="332.26" y1="460.50" x2="332.26" y2="462.30" stroke="#444" stroke-width="0.5" />
<line x1="333.62" y1="460.50" x2="333.62" y2="462.30" stroke="#444" stroke-width="0.5" />
<line x1="334.82" y1="460.50" x2="334.82" y2="462.30" stroke="#444" stroke-width="0.5" />
<line x1="335.90" y1="460.50" x2="335.90" y2="463.70" stroke="#444" stroke-width="0.5" />
<line x1="342.97" y1="460.50" x2="342.97" y2="462.30" stroke="#444" stroke-width="0.5" />
<text x="264.60" y="472.39" font-size="5.4" text-anchor="middle" fill="#111" stroke="#111" stroke-width="0.18">10</text>
<text x="268.00" y="468.76" font-size="3.6" fill="#111" stroke="#111" stroke-width="0.18">2</text>
<text x="287.70" y="472.39" font-size="5.4" text-anchor="middle" fill="#111" stroke="#111" stroke-width="0.18">10</text>
<text x="291.10" y="468.76" font-size="3.6" fill="#111" stroke="#111" stroke-width="0.18">3</text>
<text x="310.80" y="472.39" font-size="5.4" text-anchor="middle" fill="#111" stroke="#111" stroke-width="0.18">10</text>
<text x="314.20" y="468.76" font-size="3.6" fill="#111" stroke="#111" stroke-width="0.18">4</text>
<text x="335.10" y="472.39" font-size="5.4" text-anchor="middle" fill="#111" stroke="#111" stroke-width="0.18">10</text>
<text x="338.50" y="468.76" font-size="3.6" fill="#111" stroke="#111" stroke-width="0.18">5</text>
<text x="276.30" y="398.72" font-size="9.5" fill="#111" stroke="#111" stroke-width="0.18" textLength="43.40" lengthAdjust="spacingAndGlyphs">UH3 CsnB</text>
<text x="315.50" y="433.93" font-size="5.8" text-anchor="middle" fill="#111" stroke="#111" stroke-width="0.18">36.1%±0.7</text>
<text x="358.80" y="305.30" font-size="11.87" font-weight="bold">D</text>
<line x1="382.70" y1="297.50" x2="382.70" y2="359.50" stroke="#d0d0d0" stroke-width="0.8" />
<line x1="382.70" y1="359.50" x2="507.50" y2="359.50" stroke="#aaa" stroke-width="0.8" />
<line x1="507.50" y1="297.50" x2="507.50" y2="359.50" stroke="#c8c8c8" stroke-width="0.8" />
<line x1="381.20" y1="359.50" x2="382.70" y2="359.50" stroke="#999" stroke-width="0.6" />
<text x="380.20" y="361.60" font-size="6.0" text-anchor="end" fill="#111" stroke="#111" stroke-width="0.18">0</text>
<line x1="381.20" y1="352.83" x2="382.70" y2="352.83" stroke="#999" stroke-width="0.6" />
<text x="380.20" y="354.94" font-size="6.0" text-anchor="end" fill="#111" stroke="#111" stroke-width="0.18">5</text>
<line x1="381.20" y1="346.17" x2="382.70" y2="346.17" stroke="#999" stroke-width="0.6" />
<text x="380.20" y="348.27" font-size="6.0" text-anchor="end" fill="#111" stroke="#111" stroke-width="0.18">10</text>
<line x1="381.20" y1="339.50" x2="382.70" y2="339.50" stroke="#999" stroke-width="0.6" />
<text x="380.20" y="341.61" font-size="6.0" text-anchor="end" fill="#111" stroke="#111" stroke-width="0.18">15</text>
<line x1="381.20" y1="332.84" x2="382.70" y2="332.84" stroke="#999" stroke-width="0.6" />
<text x="380.20" y="334.94" font-size="6.0" text-anchor="end" fill="#111" stroke="#111" stroke-width="0.18">20</text>
<line x1="381.20" y1="326.18" x2="382.70" y2="326.18" stroke="#999" stroke-width="0.6" />
<text x="380.20" y="328.28" font-size="6.0" text-anchor="end" fill="#111" stroke="#111" stroke-width="0.18">25</text>
<line x1="381.20" y1="319.51" x2="382.70" y2="319.51" stroke="#999" stroke-width="0.6" />
<text x="380.20" y="321.61" font-size="6.0" text-anchor="end" fill="#111" stroke="#111" stroke-width="0.18">30</text>
<line x1="381.20" y1="312.85" x2="382.70" y2="312.85" stroke="#999" stroke-width="0.6" />
<text x="380.20" y="314.95" font-size="6.0" text-anchor="end" fill="#111" stroke="#111" stroke-width="0.18">35</text>
<line x1="381.20" y1="306.18" x2="382.70" y2="306.18" stroke="#999" stroke-width="0.6" />
<text x="380.20" y="308.28" font-size="6.0" text-anchor="end" fill="#111" stroke="#111" stroke-width="0.18">40</text>
<line x1="381.20" y1="299.51" x2="382.70" y2="299.51" stroke="#999" stroke-width="0.6" />
<text x="380.20" y="301.62" font-size="6.0" text-anchor="end" fill="#111" stroke="#111" stroke-width="0.18">45</text>
<rect x="391.20" y="350.30" width="12.30" height="9.20" fill="#fff" stroke="#111" stroke-width="0.8"/>
<rect x="403.50" y="320.30" width="12.20" height="39.20" fill="#000" stroke="#000" stroke-width="0.6"/>
<line x1="397.35" y1="347.20" x2="397.35" y2="350.30" stroke="#111" stroke-width="0.8" />
<line x1="396.35" y1="347.20" x2="398.35" y2="347.20" stroke="#111" stroke-width="0.8" />
<line x1="409.60" y1="313.40" x2="409.60" y2="320.30" stroke="#111" stroke-width="0.8" />
<line x1="408.60" y1="313.40" x2="410.60" y2="313.40" stroke="#111" stroke-width="0.8" />
<rect x="433.10" y="351.50" width="11.90" height="8.00" fill="#fff" stroke="#111" stroke-width="0.8"/>
<rect x="445.00" y="305.00" width="12.20" height="54.50" fill="#000" stroke="#000" stroke-width="0.6"/>
<line x1="439.05" y1="350.40" x2="439.05" y2="351.50" stroke="#111" stroke-width="0.8" />
<line x1="438.05" y1="350.40" x2="440.05" y2="350.40" stroke="#111" stroke-width="0.8" />
<line x1="451.10" y1="301.20" x2="451.10" y2="305.00" stroke="#111" stroke-width="0.8" />
<line x1="450.10" y1="301.20" x2="452.10" y2="301.20" stroke="#111" stroke-width="0.8" />
<rect x="474.20" y="354.40" width="12.50" height="5.10" fill="#fff" stroke="#111" stroke-width="0.8"/>
<rect x="486.70" y="328.10" width="12.20" height="31.40" fill="#000" stroke="#000" stroke-width="0.6"/>
<line x1="480.45" y1="353.60" x2="480.45" y2="354.40" stroke="#111" stroke-width="0.8" />
<line x1="479.45" y1="353.60" x2="481.45" y2="353.60" stroke="#111" stroke-width="0.8" />
<line x1="492.80" y1="324.20" x2="492.80" y2="328.10" stroke="#111" stroke-width="0.8" />
<line x1="491.80" y1="324.20" x2="493.80" y2="324.20" stroke="#111" stroke-width="0.8" />
<text x="466.20" y="304.87" font-size="8.2" font-weight="bold" textLength="27.80" lengthAdjust="spacingAndGlyphs">cleaved</text>
<text x="466.20" y="314.07" font-size="8.2" font-weight="bold" textLength="36.50" lengthAdjust="spacingAndGlyphs">caspase 3</text>
<text x="399.50" y="370.86" font-size="7.6" fill="#111" stroke="#111" stroke-width="0.18" textLength="29.30" lengthAdjust="spacingAndGlyphs">SuDHL4</text>
<text x="442.00" y="370.86" font-size="7.6" fill="#111" stroke="#111" stroke-width="0.18" textLength="23.50" lengthAdjust="spacingAndGlyphs">Karpas</text>
<text x="482.50" y="370.86" font-size="7.6" fill="#111" stroke="#111" stroke-width="0.18" textLength="15.00" lengthAdjust="spacingAndGlyphs">UH3</text>
<text x="366.00" y="354.96" font-size="5.6" text-anchor="middle" fill="#333" stroke="#333" stroke-width="0.18" transform="rotate(-90 366.00 353.00)">%</text>
<line x1="370.40" y1="359.00" x2="370.40" y2="339.50" stroke="#999" stroke-width="0.8" />
<path d="M367.8,343.5 L370.4,338.5 L373,343.5" fill="none" stroke="#666" stroke-width="0.8" />
<rect x="382.50" y="373.00" width="103.80" height="18.30" fill="#fff" stroke="#999" stroke-width="0.9"/>
<rect x="388.00" y="378.80" width="8.30" height="7.50" fill="#fff" stroke="#222" stroke-width="0.9"/>
<text x="400.50" y="385.16" font-size="7.6" fill="#111" stroke="#111" stroke-width="0.18" textLength="23.30" lengthAdjust="spacingAndGlyphs">DSMO</text>
<rect x="432.00" y="378.80" width="8.50" height="7.50" fill="#000"/>
<text x="445.50" y="385.16" font-size="7.6" fill="#111" stroke="#111" stroke-width="0.18" textLength="19.00" lengthAdjust="spacingAndGlyphs">CsnB</text>
<line x1="382.80" y1="400.50" x2="382.80" y2="462.40" stroke="#d0d0d0" stroke-width="0.8" />
<line x1="382.80" y1="462.40" x2="507.00" y2="462.40" stroke="#aaa" stroke-width="0.8" />
<line x1="507.00" y1="400.50" x2="507.00" y2="462.40" stroke="#c8c8c8" stroke-width="0.8" />
<line x1="382.80" y1="400.50" x2="507.00" y2="400.50" stroke="#c8c8c8" stroke-width="0.8" />
<line x1="381.30" y1="462.60" x2="382.80" y2="462.60" stroke="#999" stroke-width="0.6" />
<text x="380.30" y="464.70" font-size="6.0" text-anchor="end" fill="#111" stroke="#111" stroke-width="0.18">0</text>
<line x1="381.30" y1="452.93" x2="382.80" y2="452.93" stroke="#999" stroke-width="0.6" />
<text x="380.30" y="455.03" font-size="6.0" text-anchor="end" fill="#111" stroke="#111" stroke-width="0.18">10</text>
<line x1="381.30" y1="443.26" x2="382.80" y2="443.26" stroke="#999" stroke-width="0.6" />
<text x="380.30" y="445.36" font-size="6.0" text-anchor="end" fill="#111" stroke="#111" stroke-width="0.18">20</text>
<line x1="381.30" y1="433.59" x2="382.80" y2="433.59" stroke="#999" stroke-width="0.6" />
<text x="380.30" y="435.69" font-size="6.0" text-anchor="end" fill="#111" stroke="#111" stroke-width="0.18">30</text>
<line x1="381.30" y1="423.92" x2="382.80" y2="423.92" stroke="#999" stroke-width="0.6" />
<text x="380.30" y="426.02" font-size="6.0" text-anchor="end" fill="#111" stroke="#111" stroke-width="0.18">40</text>
<line x1="381.30" y1="414.25" x2="382.80" y2="414.25" stroke="#999" stroke-width="0.6" />
<text x="380.30" y="416.35" font-size="6.0" text-anchor="end" fill="#111" stroke="#111" stroke-width="0.18">50</text>
<line x1="381.30" y1="404.58" x2="382.80" y2="404.58" stroke="#999" stroke-width="0.6" />
<text x="380.30" y="406.68" font-size="6.0" text-anchor="end" fill="#111" stroke="#111" stroke-width="0.18">60</text>
<rect x="391.50" y="456.50" width="11.90" height="5.90" fill="#fff" stroke="#111" stroke-width="0.8"/>
<rect x="403.40" y="412.30" width="12.20" height="50.10" fill="#000" stroke="#000" stroke-width="0.6"/>
<line x1="397.45" y1="455.60" x2="397.45" y2="456.50" stroke="#111" stroke-width="0.8" />
<line x1="396.45" y1="455.60" x2="398.45" y2="455.60" stroke="#111" stroke-width="0.8" />
<line x1="409.50" y1="410.80" x2="409.50" y2="412.30" stroke="#111" stroke-width="0.8" />
<line x1="408.50" y1="410.80" x2="410.50" y2="410.80" stroke="#111" stroke-width="0.8" />
<rect x="432.60" y="460.60" width="12.10" height="1.80" fill="#fff" stroke="#111" stroke-width="0.8"/>
<rect x="444.70" y="411.60" width="12.20" height="50.80" fill="#000" stroke="#000" stroke-width="0.6"/>
<line x1="438.65" y1="459.50" x2="438.65" y2="460.60" stroke="#111" stroke-width="0.8" />
<line x1="437.65" y1="459.50" x2="439.65" y2="459.50" stroke="#111" stroke-width="0.8" />
<line x1="450.80" y1="407.00" x2="450.80" y2="411.60" stroke="#111" stroke-width="0.8" />
<line x1="449.80" y1="407.00" x2="451.80" y2="407.00" stroke="#111" stroke-width="0.8" />
<rect x="474.10" y="460.60" width="11.60" height="1.80" fill="#fff" stroke="#111" stroke-width="0.8"/>
<rect x="485.70" y="432.90" width="12.20" height="29.50" fill="#000" stroke="#000" stroke-width="0.6"/>
<line x1="479.90" y1="459.80" x2="479.90" y2="460.60" stroke="#111" stroke-width="0.8" />
<line x1="478.90" y1="459.80" x2="480.90" y2="459.80" stroke="#111" stroke-width="0.8" />
<line x1="491.80" y1="426.90" x2="491.80" y2="432.90" stroke="#111" stroke-width="0.8" />
<line x1="490.80" y1="426.90" x2="492.80" y2="426.90" stroke="#111" stroke-width="0.8" />
<text x="481.00" y="408.37" font-size="8.2" font-weight="bold" textLength="24.60" lengthAdjust="spacingAndGlyphs">SubG1</text>
<text x="399.50" y="473.66" font-size="7.6" fill="#111" stroke="#111" stroke-width="0.18" textLength="29.30" lengthAdjust="spacingAndGlyphs">SuDHL4</text>
<text x="442.00" y="473.66" font-size="7.6" fill="#111" stroke="#111" stroke-width="0.18" textLength="23.50" lengthAdjust="spacingAndGlyphs">Karpas</text>
<text x="482.50" y="473.66" font-size="7.6" fill="#111" stroke="#111" stroke-width="0.18" textLength="15.00" lengthAdjust="spacingAndGlyphs">UH3</text>
<text x="366.50" y="458.46" font-size="5.6" text-anchor="middle" fill="#333" stroke="#333" stroke-width="0.18" transform="rotate(-90 366.50 456.50)">%</text>
<line x1="370.50" y1="462.30" x2="370.50" y2="443.00" stroke="#999" stroke-width="0.8" />
<path d="M367.9,447 L370.5,442 L373.1,447" fill="none" stroke="#666" stroke-width="0.8" />
<text x="0.00" y="491.29" font-size="13.27" font-weight="bold">E</text>
<line x1="20.80" y1="480.30" x2="164.20" y2="480.30" stroke="#aaa" stroke-width="0.8" />
<line x1="20.80" y1="480.30" x2="20.80" y2="546.00" stroke="#888" stroke-width="0.8" />
<line x1="164.20" y1="480.30" x2="164.20" y2="546.00" stroke="#aaa" stroke-width="0.8" />
<line x1="20.80" y1="529.80" x2="164.20" y2="529.80" stroke="#888" stroke-width="0.8" />
<line x1="57.10" y1="529.80" x2="57.10" y2="546.00" stroke="#aaa" stroke-width="0.8" />
<line x1="93.10" y1="529.80" x2="93.10" y2="546.00" stroke="#aaa" stroke-width="0.8" />
<line x1="129.60" y1="529.80" x2="129.60" y2="546.00" stroke="#aaa" stroke-width="0.8" />
<line x1="19.30" y1="507.90" x2="20.80" y2="507.90" stroke="#888" stroke-width="0.6" />
<text x="19.20" y="509.65" font-size="5.0" text-anchor="end" fill="#111" stroke="#111" stroke-width="0.18">8</text>
<line x1="19.30" y1="513.40" x2="20.80" y2="513.40" stroke="#888" stroke-width="0.6" />
<text x="19.20" y="515.15" font-size="5.0" text-anchor="end" fill="#111" stroke="#111" stroke-width="0.18">6</text>
<line x1="19.30" y1="519.10" x2="20.80" y2="519.10" stroke="#888" stroke-width="0.6" />
<text x="19.20" y="520.85" font-size="5.0" text-anchor="end" fill="#111" stroke="#111" stroke-width="0.18">4</text>
<line x1="19.30" y1="524.30" x2="20.80" y2="524.30" stroke="#888" stroke-width="0.6" />
<text x="19.20" y="526.05" font-size="5.0" text-anchor="end" fill="#111" stroke="#111" stroke-width="0.18">2</text>
<line x1="19.30" y1="529.50" x2="20.80" y2="529.50" stroke="#888" stroke-width="0.6" />
<text x="19.20" y="531.25" font-size="5.0" text-anchor="end" fill="#111" stroke="#111" stroke-width="0.18">0</text>
<rect x="32.00" y="491.40" width="14.40" height="38.40" fill="#000"/>
<line x1="39.20" y1="488.80" x2="39.20" y2="491.40" stroke="#888" stroke-width="0.7" />
<line x1="38.20" y1="488.80" x2="40.20" y2="488.80" stroke="#888" stroke-width="0.7" />
<rect x="68.00" y="527.00" width="14.00" height="2.80" fill="#000"/>
<line x1="75.00" y1="525.20" x2="75.00" y2="527.00" stroke="#888" stroke-width="0.7" />
<line x1="74.00" y1="525.20" x2="76.00" y2="525.20" stroke="#888" stroke-width="0.7" />
<rect x="103.50" y="527.30" width="14.00" height="2.50" fill="#000"/>
<rect x="139.00" y="501.50" width="14.10" height="28.30" fill="#000"/>
<line x1="146.05" y1="499.00" x2="146.05" y2="501.50" stroke="#888" stroke-width="0.7" />
<line x1="145.05" y1="499.00" x2="147.05" y2="499.00" stroke="#888" stroke-width="0.7" />
<text x="38.95" y="536.93" font-size="3.8" text-anchor="middle" fill="#111" stroke="#111" stroke-width="0.18">Ctrl8</text>
<text x="75.10" y="536.93" font-size="3.8" text-anchor="middle" fill="#111" stroke="#111" stroke-width="0.18">Ctrl8</text>
<text x="111.35" y="536.93" font-size="3.8" text-anchor="middle" fill="#111" stroke="#111" stroke-width="0.18">Ctrl8</text>
<text x="146.90" y="536.93" font-size="3.8" text-anchor="middle" fill="#111" stroke="#111" stroke-width="0.18">Ctrl8</text>
<text x="29.50" y="543.19" font-size="5.4" fill="#111" stroke="#111" stroke-width="0.18" textLength="18.50" lengthAdjust="spacingAndGlyphs">SplKD.1</text>
<text x="64.50" y="543.19" font-size="5.4" fill="#111" stroke="#111" stroke-width="0.18" textLength="22.00" lengthAdjust="spacingAndGlyphs">SΔNR4A1-I</text>
<text x="99.20" y="543.19" font-size="5.4" fill="#111" stroke="#111" stroke-width="0.18" textLength="28.80" lengthAdjust="spacingAndGlyphs">S Δ NR4A1-II</text>
<text x="135.80" y="543.19" font-size="5.4" fill="#111" stroke="#111" stroke-width="0.18" textLength="24.00" lengthAdjust="spacingAndGlyphs">S Δ NR4A3</text>
<text x="21.60" y="486.74" font-size="6.4" font-weight="bold" textLength="19.60" lengthAdjust="spacingAndGlyphs">NR4A1</text>
<text x="7.80" y="523.45" font-size="7.0" text-anchor="middle" fill="#111" stroke="#111" stroke-width="0.18" textLength="50.00" lengthAdjust="spacingAndGlyphs" transform="rotate(-90 7.80 521.00)">relative expression</text>
<line x1="13.00" y1="545.00" x2="13.00" y2="505.00" stroke="#333" stroke-width="0.9" />
<path d="M10.5,509 L13,504 L15.5,509" fill="none" stroke="#333" stroke-width="0.9" />
<text x="0.00" y="575.51" font-size="10.89" font-weight="bold">G</text>
<line x1="22.50" y1="574.60" x2="163.10" y2="574.60" stroke="#aaa" stroke-width="0.8" />
<line x1="22.50" y1="574.60" x2="22.50" y2="640.00" stroke="#888" stroke-width="0.8" />
<line x1="163.10" y1="574.60" x2="163.10" y2="640.00" stroke="#aaa" stroke-width="0.8" />
<line x1="22.50" y1="624.20" x2="163.10" y2="624.20" stroke="#888" stroke-width="0.8" />
<line x1="57.10" y1="624.20" x2="57.10" y2="640.00" stroke="#aaa" stroke-width="0.8" />
<line x1="92.50" y1="624.20" x2="92.50" y2="640.00" stroke="#aaa" stroke-width="0.8" />
<line x1="127.70" y1="624.20" x2="127.70" y2="640.00" stroke="#aaa" stroke-width="0.8" />
<line x1="21.00" y1="575.90" x2="22.50" y2="575.90" stroke="#888" stroke-width="0.6" />
<text x="20.80" y="577.65" font-size="5.0" text-anchor="end" fill="#111" stroke="#111" stroke-width="0.18">30</text>
<line x1="21.00" y1="584.20" x2="22.50" y2="584.20" stroke="#888" stroke-width="0.6" />
<text x="20.80" y="585.95" font-size="5.0" text-anchor="end" fill="#111" stroke="#111" stroke-width="0.18">25</text>
<line x1="21.00" y1="592.40" x2="22.50" y2="592.40" stroke="#888" stroke-width="0.6" />
<text x="20.80" y="594.15" font-size="5.0" text-anchor="end" fill="#111" stroke="#111" stroke-width="0.18">20</text>
<line x1="21.00" y1="600.10" x2="22.50" y2="600.10" stroke="#888" stroke-width="0.6" />
<text x="20.80" y="601.85" font-size="5.0" text-anchor="end" fill="#111" stroke="#111" stroke-width="0.18">15</text>
<line x1="21.00" y1="608.40" x2="22.50" y2="608.40" stroke="#888" stroke-width="0.6" />
<text x="20.80" y="610.15" font-size="5.0" text-anchor="end" fill="#111" stroke="#111" stroke-width="0.18">10</text>
<line x1="21.00" y1="616.20" x2="22.50" y2="616.20" stroke="#888" stroke-width="0.6" />
<text x="20.80" y="617.95" font-size="5.0" text-anchor="end" fill="#111" stroke="#111" stroke-width="0.18">5</text>
<line x1="21.00" y1="624.00" x2="22.50" y2="624.00" stroke="#888" stroke-width="0.6" />
<text x="20.80" y="625.75" font-size="5.0" text-anchor="end" fill="#111" stroke="#111" stroke-width="0.18">0</text>
<rect x="32.90" y="591.10" width="14.20" height="33.10" fill="#000"/>
<line x1="40.00" y1="581.60" x2="40.00" y2="591.10" stroke="#888" stroke-width="0.7" />
<line x1="39.00" y1="581.60" x2="41.00" y2="581.60" stroke="#888" stroke-width="0.7" />
<rect x="68.00" y="622.70" width="14.00" height="1.50" fill="#000"/>
<rect x="103.00" y="622.70" width="14.00" height="1.50" fill="#000"/>
<rect x="138.30" y="594.80" width="13.80" height="29.40" fill="#000"/>
<line x1="145.20" y1="588.00" x2="145.20" y2="594.80" stroke="#888" stroke-width="0.7" />
<line x1="144.20" y1="588.00" x2="146.20" y2="588.00" stroke="#888" stroke-width="0.7" />
<text x="39.80" y="629.13" font-size="3.8" text-anchor="middle" fill="#111" stroke="#111" stroke-width="0.18">Ctrl8</text>
<text x="74.80" y="629.13" font-size="3.8" text-anchor="middle" fill="#111" stroke="#111" stroke-width="0.18">Ctrl8</text>
<text x="110.10" y="629.13" font-size="3.8" text-anchor="middle" fill="#111" stroke="#111" stroke-width="0.18">Ctrl8</text>
<text x="145.40" y="629.13" font-size="3.8" text-anchor="middle" fill="#111" stroke="#111" stroke-width="0.18">Ctrl8</text>
<text x="33.70" y="638.19" font-size="5.4" fill="#111" stroke="#111" stroke-width="0.18" textLength="16.50" lengthAdjust="spacingAndGlyphs">UH3-SCR</text>
<text x="58.50" y="638.19" font-size="5.4" fill="#111" stroke="#111" stroke-width="0.18" textLength="33.50" lengthAdjust="spacingAndGlyphs">UH3-siNR4A1-1</text>
<text x="94.00" y="638.19" font-size="5.4" fill="#111" stroke="#111" stroke-width="0.18" textLength="33.10" lengthAdjust="spacingAndGlyphs">UH3-siNR4A1-9</text>
<text x="129.00" y="638.19" font-size="5.4" fill="#111" stroke="#111" stroke-width="0.18" textLength="35.60" lengthAdjust="spacingAndGlyphs">UH3-siNR4A3-2</text>
<text x="23.30" y="580.44" font-size="6.4" font-weight="bold" textLength="19.60" lengthAdjust="spacingAndGlyphs">NR4A1</text>
<text x="6.90" y="612.45" font-size="7.0" text-anchor="middle" fill="#111" stroke="#111" stroke-width="0.18" textLength="49.00" lengthAdjust="spacingAndGlyphs" transform="rotate(-90 6.90 610.00)">relative expression</text>
<line x1="13.00" y1="633.00" x2="13.00" y2="596.50" stroke="#333" stroke-width="0.9" />
<path d="M10.5,600.5 L13,595.5 L15.5,600.5" fill="none" stroke="#333" stroke-width="0.9" />
<text x="173.80" y="494.10" font-size="12.01" font-weight="bold">F</text>
<rect x="185.50" y="496.20" width="74.40" height="49.60" fill="#fff"/>
<path d="M186.10,545.80 L186.10,545.33 L186.60,545.50 L187.10,545.18 L187.60,545.30 L188.10,545.15 L188.60,545.30 L189.10,545.07 L189.60,544.97 L190.10,544.79 L190.60,544.79 L191.10,544.60 L191.60,544.53 L192.10,543.12 L192.60,543.79 L193.10,542.77 L193.60,543.03 L194.10,544.11 L194.60,542.34 L195.10,542.02 L195.60,543.09 L196.10,540.54 L196.60,541.47 L197.10,540.43 L197.60,540.09 L198.10,537.67 L198.60,539.80 L199.10,538.16 L199.60,536.32 L200.10,536.08 L200.60,534.47 L201.10,535.09 L201.60,533.32 L202.10,530.98 L202.60,529.25 L203.10,526.04 L203.60,524.26 L204.10,521.98 L204.60,522.46 L205.10,516.52 L205.60,512.86 L206.10,511.05 L206.60,507.56 L207.10,504.59 L207.60,505.60 L208.10,502.02 L208.60,499.71 L209.10,496.60 L209.60,496.60 L210.10,496.60 L210.60,501.05 L211.10,504.35 L211.60,507.87 L212.10,509.64 L212.60,514.16 L213.10,516.81 L213.60,516.90 L214.10,522.13 L214.60,524.58 L215.10,527.60 L215.60,530.92 L216.10,533.28 L216.60,536.78 L217.10,536.70 L217.60,538.03 L218.10,539.90 L218.60,539.49 L219.10,540.35 L219.60,540.21 L220.10,540.54 L220.60,540.68 L221.10,539.89 L221.60,539.73 L222.10,540.60 L222.60,540.50 L223.10,540.58 L223.60,540.41 L224.10,540.35 L224.60,540.66 L225.10,540.24 L225.60,539.08 L226.10,540.63 L226.60,539.01 L227.10,541.19 L227.60,539.52 L228.10,540.71 L228.60,539.76 L229.10,540.72 L229.60,540.31 L230.10,541.53 L230.60,540.50 L231.10,540.78 L231.60,542.12 L232.10,542.17 L232.60,541.53 L233.10,541.08 L233.60,540.54 L234.10,540.96 L234.60,540.89 L235.10,540.77 L235.60,540.89 L236.10,539.39 L236.60,541.00 L237.10,540.85 L237.60,541.32 L238.10,541.27 L238.60,540.62 L239.10,541.49 L239.60,541.63 L240.10,540.90 L240.60,540.01 L241.10,540.94 L241.60,541.55 L242.10,541.10 L242.60,541.20 L243.10,542.30 L243.60,541.75 L244.10,542.64 L244.60,542.16 L245.10,542.04 L245.60,542.03 L246.10,543.11 L246.60,542.55 L247.10,543.19 L247.60,542.96 L248.10,542.56 L248.60,542.55 L249.10,543.44 L249.60,544.29 L250.10,543.47 L250.60,543.43 L251.10,543.70 L251.60,543.68 L252.10,543.88 L252.60,545.50 L253.10,544.77 L253.60,544.89 L254.10,545.34 L254.60,545.21 L255.10,545.43 L255.60,544.95 L256.10,545.43 L256.60,545.50 L257.10,545.40 L257.60,545.35 L258.10,545.50 L258.60,545.46 L258.60,545.80 Z" fill="#5f62b4" stroke="#2f3288" stroke-width="0.6" stroke-linejoin="round"/>
<line x1="218.10" y1="496.20" x2="218.10" y2="545.80" stroke="#4a4a4a" stroke-width="0.8" />
<line x1="218.10" y1="534.20" x2="259.90" y2="534.20" stroke="#4a4a4a" stroke-width="0.8" />
<line x1="185.50" y1="496.20" x2="259.90" y2="496.20" stroke="#7a7a7a" stroke-width="0.9" />
<line x1="185.50" y1="496.20" x2="185.50" y2="545.80" stroke="#555" stroke-width="0.9" />
<line x1="185.50" y1="545.80" x2="259.90" y2="545.80" stroke="#555" stroke-width="0.9" />
<line x1="259.90" y1="495.80" x2="259.90" y2="545.80" stroke="#9a9a9a" stroke-width="2.6" />
<line x1="181.90" y1="545.50" x2="185.50" y2="545.50" stroke="#444" stroke-width="0.6" />
<line x1="183.10" y1="542.34" x2="185.50" y2="542.34" stroke="#444" stroke-width="0.6" />
<line x1="183.10" y1="539.18" x2="185.50" y2="539.18" stroke="#444" stroke-width="0.6" />
<line x1="183.10" y1="536.02" x2="185.50" y2="536.02" stroke="#444" stroke-width="0.6" />
<line x1="183.10" y1="532.86" x2="185.50" y2="532.86" stroke="#444" stroke-width="0.6" />
<line x1="181.90" y1="529.70" x2="185.50" y2="529.70" stroke="#444" stroke-width="0.6" />
<line x1="183.10" y1="526.62" x2="185.50" y2="526.62" stroke="#444" stroke-width="0.6" />
<line x1="183.10" y1="523.54" x2="185.50" y2="523.54" stroke="#444" stroke-width="0.6" />
<line x1="183.10" y1="520.46" x2="185.50" y2="520.46" stroke="#444" stroke-width="0.6" />
<line x1="183.10" y1="517.38" x2="185.50" y2="517.38" stroke="#444" stroke-width="0.6" />
<line x1="181.90" y1="514.30" x2="185.50" y2="514.30" stroke="#444" stroke-width="0.6" />
<line x1="183.10" y1="511.28" x2="185.50" y2="511.28" stroke="#444" stroke-width="0.6" />
<line x1="183.10" y1="508.26" x2="185.50" y2="508.26" stroke="#444" stroke-width="0.6" />
<line x1="183.10" y1="505.24" x2="185.50" y2="505.24" stroke="#444" stroke-width="0.6" />
<line x1="183.10" y1="502.22" x2="185.50" y2="502.22" stroke="#444" stroke-width="0.6" />
<line x1="181.90" y1="499.20" x2="185.50" y2="499.20" stroke="#444" stroke-width="0.6" />
<text x="179.00" y="501.09" font-size="5.4" text-anchor="middle" fill="#111" stroke="#111" stroke-width="0.18" transform="rotate(-90 179.00 499.20)">150</text>
<text x="179.00" y="516.19" font-size="5.4" text-anchor="middle" fill="#111" stroke="#111" stroke-width="0.18" transform="rotate(-90 179.00 514.30)">100</text>
<text x="179.00" y="531.59" font-size="5.4" text-anchor="middle" fill="#111" stroke="#111" stroke-width="0.18" transform="rotate(-90 179.00 529.70)">50</text>
<text x="179.00" y="547.39" font-size="5.4" text-anchor="middle" fill="#111" stroke="#111" stroke-width="0.18" transform="rotate(-90 179.00 545.50)">0</text>
<line x1="186.12" y1="545.80" x2="186.12" y2="547.60" stroke="#444" stroke-width="0.5" />
<line x1="188.48" y1="545.80" x2="188.48" y2="547.60" stroke="#444" stroke-width="0.5" />
<line x1="190.31" y1="545.80" x2="190.31" y2="547.60" stroke="#444" stroke-width="0.5" />
<line x1="191.81" y1="545.80" x2="191.81" y2="547.60" stroke="#444" stroke-width="0.5" />
<line x1="193.07" y1="545.80" x2="193.07" y2="547.60" stroke="#444" stroke-width="0.5" />
<line x1="194.17" y1="545.80" x2="194.17" y2="547.60" stroke="#444" stroke-width="0.5" />
<line x1="195.14" y1="545.80" x2="195.14" y2="547.60" stroke="#444" stroke-width="0.5" />
<line x1="196.00" y1="545.80" x2="196.00" y2="549.00" stroke="#444" stroke-width="0.5" />
<line x1="201.69" y1="545.80" x2="201.69" y2="547.60" stroke="#444" stroke-width="0.5" />
<line x1="205.02" y1="545.80" x2="205.02" y2="547.60" stroke="#444" stroke-width="0.5" />
<line x1="207.38" y1="545.80" x2="207.38" y2="547.60" stroke="#444" stroke-width="0.5" />
<line x1="209.21" y1="545.80" x2="209.21" y2="547.60" stroke="#444" stroke-width="0.5" />
<line x1="210.71" y1="545.80" x2="210.71" y2="547.60" stroke="#444" stroke-width="0.5" />
<line x1="211.97" y1="545.80" x2="211.97" y2="547.60" stroke="#444" stroke-width="0.5" />
<line x1="213.07" y1="545.80" x2="213.07" y2="547.60" stroke="#444" stroke-width="0.5" />
<line x1="214.04" y1="545.80" x2="214.04" y2="547.60" stroke="#444" stroke-width="0.5" />
<line x1="214.90" y1="545.80" x2="214.90" y2="549.00" stroke="#444" stroke-width="0.5" />
<line x1="220.59" y1="545.80" x2="220.59" y2="547.60" stroke="#444" stroke-width="0.5" />
<line x1="223.92" y1="545.80" x2="223.92" y2="547.60" stroke="#444" stroke-width="0.5" />
<line x1="226.28" y1="545.80" x2="226.28" y2="547.60" stroke="#444" stroke-width="0.5" />
<line x1="228.11" y1="545.80" x2="228.11" y2="547.60" stroke="#444" stroke-width="0.5" />
<line x1="229.61" y1="545.80" x2="229.61" y2="547.60" stroke="#444" stroke-width="0.5" />
<line x1="230.87" y1="545.80" x2="230.87" y2="547.60" stroke="#444" stroke-width="0.5" />
<line x1="231.97" y1="545.80" x2="231.97" y2="547.60" stroke="#444" stroke-width="0.5" />
<line x1="232.94" y1="545.80" x2="232.94" y2="547.60" stroke="#444" stroke-width="0.5" />
<line x1="233.80" y1="545.80" x2="233.80" y2="549.00" stroke="#444" stroke-width="0.5" />
<line x1="239.49" y1="545.80" x2="239.49" y2="547.60" stroke="#444" stroke-width="0.5" />
<line x1="242.82" y1="545.80" x2="242.82" y2="547.60" stroke="#444" stroke-width="0.5" />
<line x1="245.18" y1="545.80" x2="245.18" y2="547.60" stroke="#444" stroke-width="0.5" />
<line x1="247.01" y1="545.80" x2="247.01" y2="547.60" stroke="#444" stroke-width="0.5" />
<line x1="248.51" y1="545.80" x2="248.51" y2="547.60" stroke="#444" stroke-width="0.5" />
<line x1="249.77" y1="545.80" x2="249.77" y2="547.60" stroke="#444" stroke-width="0.5" />
<line x1="250.87" y1="545.80" x2="250.87" y2="547.60" stroke="#444" stroke-width="0.5" />
<line x1="251.84" y1="545.80" x2="251.84" y2="547.60" stroke="#444" stroke-width="0.5" />
<line x1="252.70" y1="545.80" x2="252.70" y2="549.00" stroke="#444" stroke-width="0.5" />
<line x1="258.39" y1="545.80" x2="258.39" y2="547.60" stroke="#444" stroke-width="0.5" />
<text x="195.20" y="554.79" font-size="5.4" text-anchor="middle" fill="#111" stroke="#111" stroke-width="0.18">10</text>
<text x="198.60" y="551.16" font-size="3.6" fill="#111" stroke="#111" stroke-width="0.18">2</text>
<text x="213.40" y="554.79" font-size="5.4" text-anchor="middle" fill="#111" stroke="#111" stroke-width="0.18">10</text>
<text x="216.80" y="551.16" font-size="3.6" fill="#111" stroke="#111" stroke-width="0.18">3</text>
<text x="233.60" y="554.79" font-size="5.4" text-anchor="middle" fill="#111" stroke="#111" stroke-width="0.18">10</text>
<text x="237.00" y="551.16" font-size="3.6" fill="#111" stroke="#111" stroke-width="0.18">4</text>
<text x="251.90" y="554.79" font-size="5.4" text-anchor="middle" fill="#111" stroke="#111" stroke-width="0.18">10</text>
<text x="255.30" y="551.16" font-size="3.6" fill="#111" stroke="#111" stroke-width="0.18">5</text>
<text x="216.20" y="484.36" font-size="7.6" font-weight="bold" fill="#111" textLength="27.80" lengthAdjust="spacingAndGlyphs">SplkO.1</text>
<text x="220.40" y="492.96" font-size="7.6" font-weight="bold" fill="#111" textLength="19.20" lengthAdjust="spacingAndGlyphs">CsnB</text>
<text x="229.60" y="512.07" font-size="5.9" fill="#111" stroke="#111" stroke-width="0.18">20.3%</text>
<text x="229.60" y="518.57" font-size="5.9" fill="#111" stroke="#111" stroke-width="0.18">±4.2</text>
<rect x="272.90" y="496.70" width="73.30" height="49.10" fill="#fff"/>
<path d="M273.50,545.80 L273.50,545.08 L274.00,545.13 L274.50,545.07 L275.00,544.72 L275.50,544.41 L276.00,544.06 L276.50,544.32 L277.00,544.25 L277.50,544.78 L278.00,543.99 L278.50,543.29 L279.00,543.75 L279.50,543.11 L280.00,542.98 L280.50,542.97 L281.00,542.69 L281.50,542.07 L282.00,541.98 L282.50,541.91 L283.00,541.24 L283.50,541.73 L284.00,541.35 L284.50,541.11 L285.00,539.25 L285.50,537.68 L286.00,535.81 L286.50,534.94 L287.00,535.13 L287.50,534.88 L288.00,532.77 L288.50,531.21 L289.00,530.21 L289.50,528.65 L290.00,527.10 L290.50,526.07 L291.00,524.65 L291.50,523.40 L292.00,520.30 L292.50,515.50 L293.00,516.83 L293.50,515.45 L294.00,513.78 L294.50,510.52 L295.00,505.87 L295.50,505.25 L296.00,503.54 L296.50,505.21 L297.00,499.88 L297.50,498.23 L298.00,497.10 L298.50,498.67 L299.00,503.09 L299.50,508.46 L300.00,509.24 L300.50,515.60 L301.00,519.00 L301.50,521.83 L302.00,525.46 L302.50,532.02 L303.00,537.53 L303.50,539.29 L304.00,540.40 L304.50,543.21 L305.00,544.54 L305.50,545.26 L306.00,544.95 L306.50,545.24 L307.00,544.86 L307.50,544.86 L308.00,545.49 L308.50,545.26 L309.00,544.89 L309.50,544.79 L310.00,545.14 L310.50,544.94 L311.00,545.40 L311.50,545.03 L312.00,545.04 L312.50,545.02 L313.00,545.18 L313.50,545.21 L314.00,545.06 L314.50,545.16 L315.00,544.95 L315.50,545.32 L316.00,545.21 L316.50,545.13 L317.00,545.09 L317.50,545.23 L318.00,545.22 L318.50,545.28 L319.00,545.38 L319.50,545.06 L320.00,545.27 L320.50,545.09 L321.00,545.15 L321.50,545.45 L322.00,545.14 L322.50,545.34 L323.00,545.23 L323.50,545.50 L324.00,545.35 L324.50,545.37 L325.00,545.30 L325.50,545.39 L326.00,545.48 L326.50,545.44 L327.00,545.48 L327.50,545.50 L328.00,545.42 L328.50,545.50 L329.00,545.45 L329.50,545.50 L330.00,545.42 L330.50,545.49 L331.00,545.50 L331.50,545.50 L332.00,545.50 L332.50,545.50 L333.00,545.50 L333.50,545.50 L334.00,545.50 L334.50,545.50 L335.00,545.50 L335.50,545.50 L336.00,545.50 L336.50,545.50 L337.00,545.50 L337.50,545.50 L338.00,545.50 L338.50,545.50 L339.00,545.50 L339.50,545.50 L340.00,545.50 L340.50,545.50 L341.00,545.50 L341.50,545.50 L342.00,545.50 L342.50,545.50 L343.00,545.50 L343.50,545.50 L344.00,545.50 L344.50,545.50 L345.00,545.50 L345.00,545.80 Z" fill="#5f62b4" stroke="#2f3288" stroke-width="0.6" stroke-linejoin="round"/>
<line x1="305.20" y1="496.70" x2="305.20" y2="545.80" stroke="#4a4a4a" stroke-width="0.8" />
<line x1="272.90" y1="496.70" x2="346.20" y2="496.70" stroke="#7a7a7a" stroke-width="0.9" />
<line x1="272.90" y1="496.70" x2="272.90" y2="545.80" stroke="#555" stroke-width="0.9" />
<line x1="272.90" y1="545.80" x2="346.20" y2="545.80" stroke="#555" stroke-width="0.9" />
<line x1="346.20" y1="496.30" x2="346.20" y2="545.80" stroke="#444" stroke-width="0.9" />
<line x1="269.30" y1="546.00" x2="272.90" y2="546.00" stroke="#444" stroke-width="0.6" />
<line x1="270.50" y1="543.38" x2="272.90" y2="543.38" stroke="#444" stroke-width="0.6" />
<line x1="270.50" y1="540.76" x2="272.90" y2="540.76" stroke="#444" stroke-width="0.6" />
<line x1="270.50" y1="538.14" x2="272.90" y2="538.14" stroke="#444" stroke-width="0.6" />
<line x1="270.50" y1="535.52" x2="272.90" y2="535.52" stroke="#444" stroke-width="0.6" />
<line x1="269.30" y1="532.90" x2="272.90" y2="532.90" stroke="#444" stroke-width="0.6" />
<line x1="270.50" y1="530.12" x2="272.90" y2="530.12" stroke="#444" stroke-width="0.6" />
<line x1="270.50" y1="527.34" x2="272.90" y2="527.34" stroke="#444" stroke-width="0.6" />
<line x1="270.50" y1="524.56" x2="272.90" y2="524.56" stroke="#444" stroke-width="0.6" />
<line x1="270.50" y1="521.78" x2="272.90" y2="521.78" stroke="#444" stroke-width="0.6" />
<line x1="269.30" y1="519.00" x2="272.90" y2="519.00" stroke="#444" stroke-width="0.6" />
<line x1="270.50" y1="516.20" x2="272.90" y2="516.20" stroke="#444" stroke-width="0.6" />
<line x1="270.50" y1="513.40" x2="272.90" y2="513.40" stroke="#444" stroke-width="0.6" />
<line x1="270.50" y1="510.60" x2="272.90" y2="510.60" stroke="#444" stroke-width="0.6" />
<line x1="270.50" y1="507.80" x2="272.90" y2="507.80" stroke="#444" stroke-width="0.6" />
<line x1="269.30" y1="505.00" x2="272.90" y2="505.00" stroke="#444" stroke-width="0.6" />
<line x1="270.50" y1="502.38" x2="272.90" y2="502.38" stroke="#444" stroke-width="0.6" />
<line x1="270.50" y1="499.76" x2="272.90" y2="499.76" stroke="#444" stroke-width="0.6" />
<text x="266.40" y="506.89" font-size="5.4" text-anchor="middle" fill="#111" stroke="#111" stroke-width="0.18" transform="rotate(-90 266.40 505.00)">150</text>
<text x="266.40" y="520.89" font-size="5.4" text-anchor="middle" fill="#111" stroke="#111" stroke-width="0.18" transform="rotate(-90 266.40 519.00)">100</text>
<text x="266.40" y="534.79" font-size="5.4" text-anchor="middle" fill="#111" stroke="#111" stroke-width="0.18" transform="rotate(-90 266.40 532.90)">50</text>
<text x="266.40" y="547.89" font-size="5.4" text-anchor="middle" fill="#111" stroke="#111" stroke-width="0.18" transform="rotate(-90 266.40 546.00)">0</text>
<line x1="274.58" y1="545.80" x2="274.58" y2="547.60" stroke="#444" stroke-width="0.5" />
<line x1="276.41" y1="545.80" x2="276.41" y2="547.60" stroke="#444" stroke-width="0.5" />
<line x1="277.91" y1="545.80" x2="277.91" y2="547.60" stroke="#444" stroke-width="0.5" />
<line x1="279.17" y1="545.80" x2="279.17" y2="547.60" stroke="#444" stroke-width="0.5" />
<line x1="280.27" y1="545.80" x2="280.27" y2="547.60" stroke="#444" stroke-width="0.5" />
<line x1="281.24" y1="545.80" x2="281.24" y2="547.60" stroke="#444" stroke-width="0.5" />
<line x1="282.10" y1="545.80" x2="282.10" y2="549.00" stroke="#444" stroke-width="0.5" />
<line x1="287.79" y1="545.80" x2="287.79" y2="547.60" stroke="#444" stroke-width="0.5" />
<line x1="291.12" y1="545.80" x2="291.12" y2="547.60" stroke="#444" stroke-width="0.5" />
<line x1="293.48" y1="545.80" x2="293.48" y2="547.60" stroke="#444" stroke-width="0.5" />
<line x1="295.31" y1="545.80" x2="295.31" y2="547.60" stroke="#444" stroke-width="0.5" />
<line x1="296.81" y1="545.80" x2="296.81" y2="547.60" stroke="#444" stroke-width="0.5" />
<line x1="298.07" y1="545.80" x2="298.07" y2="547.60" stroke="#444" stroke-width="0.5" />
<line x1="299.17" y1="545.80" x2="299.17" y2="547.60" stroke="#444" stroke-width="0.5" />
<line x1="300.14" y1="545.80" x2="300.14" y2="547.60" stroke="#444" stroke-width="0.5" />
<line x1="301.00" y1="545.80" x2="301.00" y2="549.00" stroke="#444" stroke-width="0.5" />
<line x1="306.69" y1="545.80" x2="306.69" y2="547.60" stroke="#444" stroke-width="0.5" />
<line x1="310.02" y1="545.80" x2="310.02" y2="547.60" stroke="#444" stroke-width="0.5" />
<line x1="312.38" y1="545.80" x2="312.38" y2="547.60" stroke="#444" stroke-width="0.5" />
<line x1="314.21" y1="545.80" x2="314.21" y2="547.60" stroke="#444" stroke-width="0.5" />
<line x1="315.71" y1="545.80" x2="315.71" y2="547.60" stroke="#444" stroke-width="0.5" />
<line x1="316.97" y1="545.80" x2="316.97" y2="547.60" stroke="#444" stroke-width="0.5" />
<line x1="318.07" y1="545.80" x2="318.07" y2="547.60" stroke="#444" stroke-width="0.5" />
<line x1="319.04" y1="545.80" x2="319.04" y2="547.60" stroke="#444" stroke-width="0.5" />
<line x1="319.90" y1="545.80" x2="319.90" y2="549.00" stroke="#444" stroke-width="0.5" />
<line x1="325.59" y1="545.80" x2="325.59" y2="547.60" stroke="#444" stroke-width="0.5" />
<line x1="328.92" y1="545.80" x2="328.92" y2="547.60" stroke="#444" stroke-width="0.5" />
<line x1="331.28" y1="545.80" x2="331.28" y2="547.60" stroke="#444" stroke-width="0.5" />
<line x1="333.11" y1="545.80" x2="333.11" y2="547.60" stroke="#444" stroke-width="0.5" />
<line x1="334.61" y1="545.80" x2="334.61" y2="547.60" stroke="#444" stroke-width="0.5" />
<line x1="335.87" y1="545.80" x2="335.87" y2="547.60" stroke="#444" stroke-width="0.5" />
<line x1="336.97" y1="545.80" x2="336.97" y2="547.60" stroke="#444" stroke-width="0.5" />
<line x1="337.94" y1="545.80" x2="337.94" y2="547.60" stroke="#444" stroke-width="0.5" />
<line x1="338.80" y1="545.80" x2="338.80" y2="549.00" stroke="#444" stroke-width="0.5" />
<line x1="344.49" y1="545.80" x2="344.49" y2="547.60" stroke="#444" stroke-width="0.5" />
<text x="281.30" y="554.79" font-size="5.4" text-anchor="middle" fill="#111" stroke="#111" stroke-width="0.18">10</text>
<text x="284.70" y="551.16" font-size="3.6" fill="#111" stroke="#111" stroke-width="0.18">2</text>
<text x="300.00" y="554.79" font-size="5.4" text-anchor="middle" fill="#111" stroke="#111" stroke-width="0.18">10</text>
<text x="303.40" y="551.16" font-size="3.6" fill="#111" stroke="#111" stroke-width="0.18">3</text>
<text x="319.80" y="554.79" font-size="5.4" text-anchor="middle" fill="#111" stroke="#111" stroke-width="0.18">10</text>
<text x="323.20" y="551.16" font-size="3.6" fill="#111" stroke="#111" stroke-width="0.18">4</text>
<text x="338.00" y="554.79" font-size="5.4" text-anchor="middle" fill="#111" stroke="#111" stroke-width="0.18">10</text>
<text x="341.40" y="551.16" font-size="3.6" fill="#111" stroke="#111" stroke-width="0.18">5</text>
<text x="293.70" y="484.66" font-size="7.6" font-weight="bold" fill="#111" textLength="40.30" lengthAdjust="spacingAndGlyphs">SΔNR4A1-I</text>
<text x="305.20" y="493.96" font-size="7.6" font-weight="bold" fill="#111" textLength="18.30" lengthAdjust="spacingAndGlyphs">CsnB</text>
<text x="315.80" y="512.07" font-size="5.9" fill="#111" stroke="#111" stroke-width="0.18">2.6%</text>
<text x="315.80" y="518.57" font-size="5.9" fill="#111" stroke="#111" stroke-width="0.18">±0.2</text>
<rect x="355.50" y="496.50" width="72.30" height="49.30" fill="#fff"/>
<path d="M356.10,545.80 L356.10,545.50 L356.60,545.50 L357.10,545.50 L357.60,545.50 L358.10,545.50 L358.60,545.42 L359.10,545.35 L359.60,545.43 L360.10,545.32 L360.60,545.16 L361.10,545.18 L361.60,544.77 L362.10,545.23 L362.60,544.54 L363.10,543.85 L363.60,543.75 L364.10,542.98 L364.60,542.93 L365.10,542.53 L365.60,541.45 L366.10,541.03 L366.60,540.79 L367.10,540.04 L367.60,539.59 L368.10,538.71 L368.60,538.58 L369.10,537.92 L369.60,537.47 L370.10,537.14 L370.60,535.31 L371.10,532.53 L371.60,532.62 L372.10,530.67 L372.60,527.64 L373.10,526.70 L373.60,527.59 L374.10,524.84 L374.60,523.43 L375.10,521.78 L375.60,519.88 L376.10,515.47 L376.60,514.55 L377.10,509.98 L377.60,509.11 L378.10,505.49 L378.60,504.34 L379.10,503.05 L379.60,500.45 L380.10,499.32 L380.60,497.82 L381.10,500.81 L381.60,502.78 L382.10,509.59 L382.60,513.77 L383.10,517.37 L383.60,519.92 L384.10,524.02 L384.60,526.63 L385.10,530.08 L385.60,536.02 L386.10,538.79 L386.60,541.87 L387.10,543.13 L387.60,544.63 L388.10,544.98 L388.60,545.26 L389.10,545.24 L389.60,545.45 L390.10,545.09 L390.60,545.19 L391.10,545.00 L391.60,545.20 L392.10,545.27 L392.60,545.24 L393.10,545.04 L393.60,545.10 L394.10,544.80 L394.60,545.40 L395.10,545.28 L395.60,545.30 L396.10,545.14 L396.60,545.11 L397.10,545.24 L397.60,545.28 L398.10,545.19 L398.60,545.08 L399.10,545.34 L399.60,545.13 L400.10,545.04 L400.60,545.13 L401.10,545.28 L401.60,545.29 L402.10,545.14 L402.60,545.24 L403.10,545.50 L403.60,545.31 L404.10,545.25 L404.60,545.07 L405.10,545.18 L405.60,545.41 L406.10,545.30 L406.60,545.50 L407.10,545.50 L407.60,545.39 L408.10,545.47 L408.60,545.42 L409.10,545.50 L409.60,545.41 L410.10,545.17 L410.60,545.50 L411.10,545.47 L411.60,545.50 L412.10,545.50 L412.60,545.50 L413.10,545.50 L413.60,545.50 L414.10,545.50 L414.60,545.50 L415.10,545.48 L415.60,545.50 L416.10,545.50 L416.60,545.50 L417.10,545.50 L417.60,545.50 L418.10,545.50 L418.60,545.50 L419.10,545.50 L419.60,545.50 L420.10,545.50 L420.60,545.50 L421.10,545.50 L421.60,545.50 L422.10,545.50 L422.60,545.50 L423.10,545.50 L423.60,545.50 L424.10,545.50 L424.60,545.50 L425.10,545.50 L425.60,545.50 L426.10,545.50 L426.60,545.50 L426.60,545.80 Z" fill="#5f62b4" stroke="#2f3288" stroke-width="0.6" stroke-linejoin="round"/>
<line x1="387.10" y1="496.50" x2="387.10" y2="545.80" stroke="#4a4a4a" stroke-width="0.8" />
<line x1="387.10" y1="534.60" x2="427.80" y2="534.60" stroke="#4a4a4a" stroke-width="0.8" />
<line x1="355.50" y1="496.50" x2="427.80" y2="496.50" stroke="#7a7a7a" stroke-width="0.9" />
<line x1="355.50" y1="496.50" x2="355.50" y2="545.80" stroke="#555" stroke-width="0.9" />
<line x1="355.50" y1="545.80" x2="427.80" y2="545.80" stroke="#555" stroke-width="0.9" />
<line x1="427.80" y1="496.10" x2="427.80" y2="545.80" stroke="#9a9a9a" stroke-width="2.6" />
<line x1="351.90" y1="545.50" x2="355.50" y2="545.50" stroke="#444" stroke-width="0.6" />
<line x1="353.10" y1="542.90" x2="355.50" y2="542.90" stroke="#444" stroke-width="0.6" />
<line x1="353.10" y1="540.30" x2="355.50" y2="540.30" stroke="#444" stroke-width="0.6" />
<line x1="353.10" y1="537.70" x2="355.50" y2="537.70" stroke="#444" stroke-width="0.6" />
<line x1="353.10" y1="535.10" x2="355.50" y2="535.10" stroke="#444" stroke-width="0.6" />
<line x1="351.90" y1="532.50" x2="355.50" y2="532.50" stroke="#444" stroke-width="0.6" />
<line x1="353.10" y1="530.08" x2="355.50" y2="530.08" stroke="#444" stroke-width="0.6" />
<line x1="353.10" y1="527.66" x2="355.50" y2="527.66" stroke="#444" stroke-width="0.6" />
<line x1="353.10" y1="525.24" x2="355.50" y2="525.24" stroke="#444" stroke-width="0.6" />
<line x1="353.10" y1="522.82" x2="355.50" y2="522.82" stroke="#444" stroke-width="0.6" />
<line x1="351.90" y1="520.40" x2="355.50" y2="520.40" stroke="#444" stroke-width="0.6" />
<line x1="353.10" y1="517.88" x2="355.50" y2="517.88" stroke="#444" stroke-width="0.6" />
<line x1="353.10" y1="515.36" x2="355.50" y2="515.36" stroke="#444" stroke-width="0.6" />
<line x1="353.10" y1="512.84" x2="355.50" y2="512.84" stroke="#444" stroke-width="0.6" />
<line x1="353.10" y1="510.32" x2="355.50" y2="510.32" stroke="#444" stroke-width="0.6" />
<line x1="351.90" y1="507.80" x2="355.50" y2="507.80" stroke="#444" stroke-width="0.6" />
<line x1="353.10" y1="505.20" x2="355.50" y2="505.20" stroke="#444" stroke-width="0.6" />
<line x1="353.10" y1="502.60" x2="355.50" y2="502.60" stroke="#444" stroke-width="0.6" />
<line x1="353.10" y1="500.00" x2="355.50" y2="500.00" stroke="#444" stroke-width="0.6" />
<line x1="353.10" y1="497.40" x2="355.50" y2="497.40" stroke="#444" stroke-width="0.6" />
<text x="349.90" y="509.69" font-size="5.4" text-anchor="middle" fill="#111" stroke="#111" stroke-width="0.18" transform="rotate(-90 349.90 507.80)">150</text>
<text x="349.90" y="522.29" font-size="5.4" text-anchor="middle" fill="#111" stroke="#111" stroke-width="0.18" transform="rotate(-90 349.90 520.40)">100</text>
<text x="349.90" y="534.39" font-size="5.4" text-anchor="middle" fill="#111" stroke="#111" stroke-width="0.18" transform="rotate(-90 349.90 532.50)">50</text>
<text x="349.90" y="547.39" font-size="5.4" text-anchor="middle" fill="#111" stroke="#111" stroke-width="0.18" transform="rotate(-90 349.90 545.50)">0</text>
<line x1="357.65" y1="545.80" x2="357.65" y2="547.60" stroke="#444" stroke-width="0.5" />
<line x1="359.44" y1="545.80" x2="359.44" y2="547.60" stroke="#444" stroke-width="0.5" />
<line x1="360.90" y1="545.80" x2="360.90" y2="547.60" stroke="#444" stroke-width="0.5" />
<line x1="362.14" y1="545.80" x2="362.14" y2="547.60" stroke="#444" stroke-width="0.5" />
<line x1="363.21" y1="545.80" x2="363.21" y2="547.60" stroke="#444" stroke-width="0.5" />
<line x1="364.16" y1="545.80" x2="364.16" y2="547.60" stroke="#444" stroke-width="0.5" />
<line x1="365.00" y1="545.80" x2="365.00" y2="549.00" stroke="#444" stroke-width="0.5" />
<line x1="370.56" y1="545.80" x2="370.56" y2="547.60" stroke="#444" stroke-width="0.5" />
<line x1="373.81" y1="545.80" x2="373.81" y2="547.60" stroke="#444" stroke-width="0.5" />
<line x1="376.12" y1="545.80" x2="376.12" y2="547.60" stroke="#444" stroke-width="0.5" />
<line x1="377.91" y1="545.80" x2="377.91" y2="547.60" stroke="#444" stroke-width="0.5" />
<line x1="379.37" y1="545.80" x2="379.37" y2="547.60" stroke="#444" stroke-width="0.5" />
<line x1="380.61" y1="545.80" x2="380.61" y2="547.60" stroke="#444" stroke-width="0.5" />
<line x1="381.68" y1="545.80" x2="381.68" y2="547.60" stroke="#444" stroke-width="0.5" />
<line x1="382.62" y1="545.80" x2="382.62" y2="547.60" stroke="#444" stroke-width="0.5" />
<line x1="383.47" y1="545.80" x2="383.47" y2="549.00" stroke="#444" stroke-width="0.5" />
<line x1="389.03" y1="545.80" x2="389.03" y2="547.60" stroke="#444" stroke-width="0.5" />
<line x1="392.28" y1="545.80" x2="392.28" y2="547.60" stroke="#444" stroke-width="0.5" />
<line x1="394.58" y1="545.80" x2="394.58" y2="547.60" stroke="#444" stroke-width="0.5" />
<line x1="396.37" y1="545.80" x2="396.37" y2="547.60" stroke="#444" stroke-width="0.5" />
<line x1="397.84" y1="545.80" x2="397.84" y2="547.60" stroke="#444" stroke-width="0.5" />
<line x1="399.07" y1="545.80" x2="399.07" y2="547.60" stroke="#444" stroke-width="0.5" />
<line x1="400.14" y1="545.80" x2="400.14" y2="547.60" stroke="#444" stroke-width="0.5" />
<line x1="401.09" y1="545.80" x2="401.09" y2="547.60" stroke="#444" stroke-width="0.5" />
<line x1="401.93" y1="545.80" x2="401.93" y2="549.00" stroke="#444" stroke-width="0.5" />
<line x1="407.49" y1="545.80" x2="407.49" y2="547.60" stroke="#444" stroke-width="0.5" />
<line x1="410.74" y1="545.80" x2="410.74" y2="547.60" stroke="#444" stroke-width="0.5" />
<line x1="413.05" y1="545.80" x2="413.05" y2="547.60" stroke="#444" stroke-width="0.5" />
<line x1="414.84" y1="545.80" x2="414.84" y2="547.60" stroke="#444" stroke-width="0.5" />
<line x1="416.30" y1="545.80" x2="416.30" y2="547.60" stroke="#444" stroke-width="0.5" />
<line x1="417.54" y1="545.80" x2="417.54" y2="547.60" stroke="#444" stroke-width="0.5" />
<line x1="418.61" y1="545.80" x2="418.61" y2="547.60" stroke="#444" stroke-width="0.5" />
<line x1="419.56" y1="545.80" x2="419.56" y2="547.60" stroke="#444" stroke-width="0.5" />
<line x1="420.40" y1="545.80" x2="420.40" y2="549.00" stroke="#444" stroke-width="0.5" />
<line x1="425.96" y1="545.80" x2="425.96" y2="547.60" stroke="#444" stroke-width="0.5" />
<text x="364.20" y="554.79" font-size="5.4" text-anchor="middle" fill="#111" stroke="#111" stroke-width="0.18">10</text>
<text x="367.60" y="551.16" font-size="3.6" fill="#111" stroke="#111" stroke-width="0.18">2</text>
<text x="383.80" y="554.79" font-size="5.4" text-anchor="middle" fill="#111" stroke="#111" stroke-width="0.18">10</text>
<text x="387.20" y="551.16" font-size="3.6" fill="#111" stroke="#111" stroke-width="0.18">3</text>
<text x="402.20" y="554.79" font-size="5.4" text-anchor="middle" fill="#111" stroke="#111" stroke-width="0.18">10</text>
<text x="405.60" y="551.16" font-size="3.6" fill="#111" stroke="#111" stroke-width="0.18">4</text>
<text x="419.60" y="554.79" font-size="5.4" text-anchor="middle" fill="#111" stroke="#111" stroke-width="0.18">10</text>
<text x="423.00" y="551.16" font-size="3.6" fill="#111" stroke="#111" stroke-width="0.18">5</text>
<text x="368.50" y="484.66" font-size="7.6" font-weight="bold" fill="#111" textLength="39.80" lengthAdjust="spacingAndGlyphs">SΔNR4A1-II</text>
<text x="377.50" y="494.36" font-size="7.6" font-weight="bold" fill="#111" textLength="22.10" lengthAdjust="spacingAndGlyphs">Csn-B</text>
<text x="397.70" y="512.67" font-size="5.9" fill="#111" stroke="#111" stroke-width="0.18">2.2%±</text>
<text x="397.70" y="519.07" font-size="5.9" fill="#111" stroke="#111" stroke-width="0.18">0.3</text>
<rect x="440.30" y="496.30" width="74.70" height="49.50" fill="#fff"/>
<path d="M440.90,545.80 L440.90,545.50 L441.40,545.50 L441.90,545.50 L442.40,545.50 L442.90,545.19 L443.40,545.45 L443.90,544.65 L444.40,543.99 L444.90,542.99 L445.40,543.65 L445.90,541.21 L446.40,541.48 L446.90,542.21 L447.40,541.29 L447.90,538.08 L448.40,541.08 L448.90,539.94 L449.40,537.42 L449.90,539.80 L450.40,537.20 L450.90,537.28 L451.40,536.96 L451.90,534.04 L452.40,534.18 L452.90,534.23 L453.40,531.55 L453.90,531.81 L454.40,530.13 L454.90,525.60 L455.40,525.71 L455.90,525.16 L456.40,522.97 L456.90,519.04 L457.40,513.93 L457.90,510.14 L458.40,508.19 L458.90,504.72 L459.40,505.05 L459.90,502.05 L460.40,503.27 L460.90,498.11 L461.40,500.94 L461.90,502.00 L462.40,499.60 L462.90,500.62 L463.40,503.58 L463.90,505.12 L464.40,511.40 L464.90,504.80 L465.40,507.47 L465.90,511.05 L466.40,516.62 L466.90,515.89 L467.40,515.08 L467.90,515.51 L468.40,523.16 L468.90,519.38 L469.40,525.63 L469.90,525.15 L470.40,523.64 L470.90,525.72 L471.40,526.20 L471.90,526.29 L472.40,528.77 L472.90,527.85 L473.40,526.96 L473.90,529.51 L474.40,530.36 L474.90,531.63 L475.40,532.53 L475.90,530.58 L476.40,530.79 L476.90,532.07 L477.40,532.89 L477.90,530.62 L478.40,536.36 L478.90,538.14 L479.40,534.12 L479.90,537.62 L480.40,535.68 L480.90,538.30 L481.40,537.90 L481.90,537.74 L482.40,538.81 L482.90,536.48 L483.40,537.44 L483.90,537.08 L484.40,540.99 L484.90,536.82 L485.40,539.60 L485.90,536.83 L486.40,534.99 L486.90,535.82 L487.40,535.19 L487.90,535.71 L488.40,533.24 L488.90,535.35 L489.40,534.58 L489.90,532.15 L490.40,532.73 L490.90,534.79 L491.40,535.79 L491.90,531.91 L492.40,533.03 L492.90,532.70 L493.40,533.19 L493.90,532.07 L494.40,532.37 L494.90,533.26 L495.40,531.00 L495.90,530.31 L496.40,528.42 L496.90,528.98 L497.40,529.83 L497.90,531.46 L498.40,531.26 L498.90,533.34 L499.40,533.13 L499.90,534.65 L500.40,536.06 L500.90,536.70 L501.40,536.43 L501.90,538.78 L502.40,540.02 L502.90,539.44 L503.40,540.04 L503.90,541.08 L504.40,541.70 L504.90,541.16 L505.40,542.50 L505.90,543.18 L506.40,544.42 L506.90,544.83 L507.40,544.39 L507.90,545.50 L508.40,545.29 L508.90,545.50 L509.40,545.50 L509.90,545.50 L510.40,545.45 L510.90,545.50 L511.40,545.50 L511.90,545.50 L512.40,545.50 L512.90,545.50 L513.40,545.50 L513.40,545.80 Z" fill="#5f62b4" stroke="#2f3288" stroke-width="0.6" stroke-linejoin="round"/>
<line x1="461.30" y1="496.80" x2="461.30" y2="545.80" stroke="#2f3288" stroke-width="0.7" />
<line x1="473.30" y1="496.30" x2="473.30" y2="545.80" stroke="#4a4a4a" stroke-width="0.8" />
<line x1="440.30" y1="496.30" x2="515.00" y2="496.30" stroke="#7a7a7a" stroke-width="0.9" />
<line x1="440.30" y1="496.30" x2="440.30" y2="545.80" stroke="#555" stroke-width="0.9" />
<line x1="440.30" y1="545.80" x2="515.00" y2="545.80" stroke="#555" stroke-width="0.9" />
<line x1="515.00" y1="495.90" x2="515.00" y2="545.80" stroke="#9a9a9a" stroke-width="2.6" />
<line x1="436.70" y1="545.50" x2="440.30" y2="545.50" stroke="#444" stroke-width="0.6" />
<line x1="436.70" y1="537.60" x2="440.30" y2="537.60" stroke="#444" stroke-width="0.6" />
<line x1="436.70" y1="532.00" x2="440.30" y2="532.00" stroke="#444" stroke-width="0.6" />
<line x1="436.70" y1="526.40" x2="440.30" y2="526.40" stroke="#444" stroke-width="0.6" />
<line x1="436.70" y1="520.80" x2="440.30" y2="520.80" stroke="#444" stroke-width="0.6" />
<line x1="436.70" y1="515.30" x2="440.30" y2="515.30" stroke="#444" stroke-width="0.6" />
<line x1="436.70" y1="509.20" x2="440.30" y2="509.20" stroke="#444" stroke-width="0.6" />
<line x1="436.70" y1="503.20" x2="440.30" y2="503.20" stroke="#444" stroke-width="0.6" />
<line x1="436.70" y1="496.90" x2="440.30" y2="496.90" stroke="#444" stroke-width="0.6" />
<text x="433.80" y="498.37" font-size="4.2" text-anchor="middle" fill="#111" stroke="#111" stroke-width="0.18" transform="rotate(-90 433.80 496.90)">40</text>
<text x="433.80" y="504.67" font-size="4.2" text-anchor="middle" fill="#111" stroke="#111" stroke-width="0.18" transform="rotate(-90 433.80 503.20)">35</text>
<text x="433.80" y="510.67" font-size="4.2" text-anchor="middle" fill="#111" stroke="#111" stroke-width="0.18" transform="rotate(-90 433.80 509.20)">30</text>
<text x="433.80" y="516.77" font-size="4.2" text-anchor="middle" fill="#111" stroke="#111" stroke-width="0.18" transform="rotate(-90 433.80 515.30)">25</text>
<text x="433.80" y="522.27" font-size="4.2" text-anchor="middle" fill="#111" stroke="#111" stroke-width="0.18" transform="rotate(-90 433.80 520.80)">20</text>
<text x="433.80" y="527.87" font-size="4.2" text-anchor="middle" fill="#111" stroke="#111" stroke-width="0.18" transform="rotate(-90 433.80 526.40)">15</text>
<text x="433.80" y="533.47" font-size="4.2" text-anchor="middle" fill="#111" stroke="#111" stroke-width="0.18" transform="rotate(-90 433.80 532.00)">10</text>
<text x="433.80" y="539.07" font-size="4.2" text-anchor="middle" fill="#111" stroke="#111" stroke-width="0.18" transform="rotate(-90 433.80 537.60)">5</text>
<text x="433.80" y="546.97" font-size="4.2" text-anchor="middle" fill="#111" stroke="#111" stroke-width="0.18" transform="rotate(-90 433.80 545.50)">0</text>
<line x1="442.28" y1="545.80" x2="442.28" y2="547.60" stroke="#444" stroke-width="0.5" />
<line x1="444.11" y1="545.80" x2="444.11" y2="547.60" stroke="#444" stroke-width="0.5" />
<line x1="445.61" y1="545.80" x2="445.61" y2="547.60" stroke="#444" stroke-width="0.5" />
<line x1="446.87" y1="545.80" x2="446.87" y2="547.60" stroke="#444" stroke-width="0.5" />
<line x1="447.97" y1="545.80" x2="447.97" y2="547.60" stroke="#444" stroke-width="0.5" />
<line x1="448.94" y1="545.80" x2="448.94" y2="547.60" stroke="#444" stroke-width="0.5" />
<line x1="449.80" y1="545.80" x2="449.80" y2="549.00" stroke="#444" stroke-width="0.5" />
<line x1="455.49" y1="545.80" x2="455.49" y2="547.60" stroke="#444" stroke-width="0.5" />
<line x1="458.82" y1="545.80" x2="458.82" y2="547.60" stroke="#444" stroke-width="0.5" />
<line x1="461.18" y1="545.80" x2="461.18" y2="547.60" stroke="#444" stroke-width="0.5" />
<line x1="463.01" y1="545.80" x2="463.01" y2="547.60" stroke="#444" stroke-width="0.5" />
<line x1="464.51" y1="545.80" x2="464.51" y2="547.60" stroke="#444" stroke-width="0.5" />
<line x1="465.77" y1="545.80" x2="465.77" y2="547.60" stroke="#444" stroke-width="0.5" />
<line x1="466.87" y1="545.80" x2="466.87" y2="547.60" stroke="#444" stroke-width="0.5" />
<line x1="467.84" y1="545.80" x2="467.84" y2="547.60" stroke="#444" stroke-width="0.5" />
<line x1="468.70" y1="545.80" x2="468.70" y2="549.00" stroke="#444" stroke-width="0.5" />
<line x1="474.39" y1="545.80" x2="474.39" y2="547.60" stroke="#444" stroke-width="0.5" />
<line x1="477.72" y1="545.80" x2="477.72" y2="547.60" stroke="#444" stroke-width="0.5" />
<line x1="480.08" y1="545.80" x2="480.08" y2="547.60" stroke="#444" stroke-width="0.5" />
<line x1="481.91" y1="545.80" x2="481.91" y2="547.60" stroke="#444" stroke-width="0.5" />
<line x1="483.41" y1="545.80" x2="483.41" y2="547.60" stroke="#444" stroke-width="0.5" />
<line x1="484.67" y1="545.80" x2="484.67" y2="547.60" stroke="#444" stroke-width="0.5" />
<line x1="485.77" y1="545.80" x2="485.77" y2="547.60" stroke="#444" stroke-width="0.5" />
<line x1="486.74" y1="545.80" x2="486.74" y2="547.60" stroke="#444" stroke-width="0.5" />
<line x1="487.60" y1="545.80" x2="487.60" y2="549.00" stroke="#444" stroke-width="0.5" />
<line x1="493.29" y1="545.80" x2="493.29" y2="547.60" stroke="#444" stroke-width="0.5" />
<line x1="496.62" y1="545.80" x2="496.62" y2="547.60" stroke="#444" stroke-width="0.5" />
<line x1="498.98" y1="545.80" x2="498.98" y2="547.60" stroke="#444" stroke-width="0.5" />
<line x1="500.81" y1="545.80" x2="500.81" y2="547.60" stroke="#444" stroke-width="0.5" />
<line x1="502.31" y1="545.80" x2="502.31" y2="547.60" stroke="#444" stroke-width="0.5" />
<line x1="503.57" y1="545.80" x2="503.57" y2="547.60" stroke="#444" stroke-width="0.5" />
<line x1="504.67" y1="545.80" x2="504.67" y2="547.60" stroke="#444" stroke-width="0.5" />
<line x1="505.64" y1="545.80" x2="505.64" y2="547.60" stroke="#444" stroke-width="0.5" />
<line x1="506.50" y1="545.80" x2="506.50" y2="549.00" stroke="#444" stroke-width="0.5" />
<line x1="512.19" y1="545.80" x2="512.19" y2="547.60" stroke="#444" stroke-width="0.5" />
<text x="449.00" y="554.79" font-size="5.4" text-anchor="middle" fill="#111" stroke="#111" stroke-width="0.18">10</text>
<text x="452.40" y="551.16" font-size="3.6" fill="#111" stroke="#111" stroke-width="0.18">2</text>
<text x="469.60" y="554.79" font-size="5.4" text-anchor="middle" fill="#111" stroke="#111" stroke-width="0.18">10</text>
<text x="473.00" y="551.16" font-size="3.6" fill="#111" stroke="#111" stroke-width="0.18">3</text>
<text x="487.50" y="554.79" font-size="5.4" text-anchor="middle" fill="#111" stroke="#111" stroke-width="0.18">10</text>
<text x="490.90" y="551.16" font-size="3.6" fill="#111" stroke="#111" stroke-width="0.18">4</text>
<text x="505.70" y="554.79" font-size="5.4" text-anchor="middle" fill="#111" stroke="#111" stroke-width="0.18">10</text>
<text x="509.10" y="551.16" font-size="3.6" fill="#111" stroke="#111" stroke-width="0.18">5</text>
<text x="465.20" y="485.16" font-size="7.6" font-weight="bold" fill="#111" textLength="33.60" lengthAdjust="spacingAndGlyphs">SΔNR4A3</text>
<text x="471.50" y="494.36" font-size="7.6" font-weight="bold" fill="#111" textLength="22.50" lengthAdjust="spacingAndGlyphs">Csn-B</text>
<text x="482.50" y="513.57" font-size="5.9" fill="#111" stroke="#111" stroke-width="0.18">29.7%</text>
<text x="482.50" y="520.87" font-size="5.9" fill="#111" stroke="#111" stroke-width="0.18">±2.1</text>
<text x="174.80" y="582.01" font-size="10.75" font-weight="bold">H</text>
<rect x="186.40" y="585.50" width="72.70" height="45.90" fill="#fff"/>
<path d="M187.00,631.40 L187.00,631.10 L187.50,631.10 L188.00,631.05 L188.50,631.10 L189.00,630.97 L189.50,630.89 L190.00,631.10 L190.50,631.04 L191.00,631.10 L191.50,631.05 L192.00,630.75 L192.50,630.71 L193.00,631.10 L193.50,631.10 L194.00,630.62 L194.50,630.32 L195.00,630.10 L195.50,630.24 L196.00,630.99 L196.50,630.41 L197.00,630.41 L197.50,631.05 L198.00,629.97 L198.50,629.24 L199.00,628.87 L199.50,629.72 L200.00,629.88 L200.50,629.07 L201.00,627.87 L201.50,630.08 L202.00,628.02 L202.50,626.04 L203.00,626.52 L203.50,626.85 L204.00,625.97 L204.50,626.34 L205.00,625.27 L205.50,627.19 L206.00,626.55 L206.50,624.56 L207.00,622.39 L207.50,623.88 L208.00,623.40 L208.50,621.04 L209.00,617.68 L209.50,616.69 L210.00,617.05 L210.50,621.20 L211.00,614.22 L211.50,611.84 L212.00,610.03 L212.50,609.73 L213.00,606.56 L213.50,595.77 L214.00,597.20 L214.50,600.01 L215.00,594.43 L215.50,592.75 L216.00,593.88 L216.50,589.19 L217.00,592.86 L217.50,591.61 L218.00,594.03 L218.50,594.49 L219.00,598.65 L219.50,597.60 L220.00,596.79 L220.50,599.15 L221.00,604.08 L221.50,606.26 L222.00,610.26 L222.50,612.31 L223.00,609.69 L223.50,611.81 L224.00,612.48 L224.50,611.79 L225.00,609.32 L225.50,608.85 L226.00,610.98 L226.50,608.44 L227.00,608.80 L227.50,609.47 L228.00,606.61 L228.50,607.68 L229.00,609.01 L229.50,607.77 L230.00,609.69 L230.50,609.15 L231.00,609.52 L231.50,606.25 L232.00,611.70 L232.50,610.48 L233.00,610.18 L233.50,612.31 L234.00,612.18 L234.50,612.34 L235.00,612.79 L235.50,613.31 L236.00,611.66 L236.50,613.50 L237.00,615.71 L237.50,615.39 L238.00,616.45 L238.50,614.17 L239.00,615.38 L239.50,617.80 L240.00,618.44 L240.50,618.42 L241.00,619.93 L241.50,617.59 L242.00,618.41 L242.50,618.16 L243.00,620.67 L243.50,623.39 L244.00,622.47 L244.50,619.94 L245.00,621.60 L245.50,623.43 L246.00,623.77 L246.50,623.97 L247.00,623.69 L247.50,624.68 L248.00,625.18 L248.50,625.98 L249.00,625.33 L249.50,627.73 L250.00,626.37 L250.50,626.17 L251.00,626.51 L251.50,627.13 L252.00,627.25 L252.50,628.49 L253.00,629.01 L253.50,629.55 L254.00,629.50 L254.50,629.52 L255.00,629.68 L255.50,630.47 L256.00,630.60 L256.50,630.45 L257.00,630.08 L257.50,631.01 L257.50,631.40 Z" fill="#5f62b4" stroke="#2f3288" stroke-width="0.6" stroke-linejoin="round"/>
<line x1="217.60" y1="586.80" x2="217.60" y2="631.40" stroke="#2f3288" stroke-width="0.7" />
<line x1="223.50" y1="585.50" x2="223.50" y2="631.40" stroke="#4a4a4a" stroke-width="0.8" />
<line x1="223.50" y1="620.20" x2="259.10" y2="620.20" stroke="#4a4a4a" stroke-width="0.8" />
<line x1="186.40" y1="585.50" x2="259.10" y2="585.50" stroke="#7a7a7a" stroke-width="0.9" />
<line x1="186.40" y1="585.50" x2="186.40" y2="631.40" stroke="#555" stroke-width="0.9" />
<line x1="186.40" y1="631.40" x2="259.10" y2="631.40" stroke="#555" stroke-width="0.9" />
<line x1="259.10" y1="585.10" x2="259.10" y2="631.40" stroke="#444" stroke-width="0.9" />
<line x1="181.80" y1="631.40" x2="186.40" y2="631.40" stroke="#444" stroke-width="0.6" />
<line x1="181.80" y1="626.40" x2="186.40" y2="626.40" stroke="#444" stroke-width="0.6" />
<line x1="181.80" y1="621.50" x2="186.40" y2="621.50" stroke="#444" stroke-width="0.6" />
<line x1="181.80" y1="616.10" x2="186.40" y2="616.10" stroke="#444" stroke-width="0.6" />
<line x1="181.80" y1="611.20" x2="186.40" y2="611.20" stroke="#444" stroke-width="0.6" />
<line x1="181.80" y1="606.20" x2="186.40" y2="606.20" stroke="#444" stroke-width="0.6" />
<line x1="181.80" y1="601.30" x2="186.40" y2="601.30" stroke="#444" stroke-width="0.6" />
<line x1="181.80" y1="596.00" x2="186.40" y2="596.00" stroke="#444" stroke-width="0.6" />
<line x1="181.80" y1="591.00" x2="186.40" y2="591.00" stroke="#444" stroke-width="0.6" />
<line x1="181.80" y1="586.00" x2="186.40" y2="586.00" stroke="#444" stroke-width="0.6" />
<text x="179.80" y="632.66" font-size="3.6" text-anchor="middle" fill="#111" stroke="#111" stroke-width="0.18" transform="rotate(-90 179.80 631.40)">0</text>
<text x="179.80" y="627.66" font-size="3.6" text-anchor="middle" fill="#111" stroke="#111" stroke-width="0.18" transform="rotate(-90 179.80 626.40)">50</text>
<text x="179.80" y="622.76" font-size="3.6" text-anchor="middle" fill="#111" stroke="#111" stroke-width="0.18" transform="rotate(-90 179.80 621.50)">100</text>
<text x="179.80" y="617.36" font-size="3.6" text-anchor="middle" fill="#111" stroke="#111" stroke-width="0.18" transform="rotate(-90 179.80 616.10)">150</text>
<text x="179.80" y="612.46" font-size="3.6" text-anchor="middle" fill="#111" stroke="#111" stroke-width="0.18" transform="rotate(-90 179.80 611.20)">200</text>
<text x="179.80" y="607.46" font-size="3.6" text-anchor="middle" fill="#111" stroke="#111" stroke-width="0.18" transform="rotate(-90 179.80 606.20)">250</text>
<text x="179.80" y="602.56" font-size="3.6" text-anchor="middle" fill="#111" stroke="#111" stroke-width="0.18" transform="rotate(-90 179.80 601.30)">300</text>
<text x="179.80" y="597.26" font-size="3.6" text-anchor="middle" fill="#111" stroke="#111" stroke-width="0.18" transform="rotate(-90 179.80 596.00)">350</text>
<text x="179.80" y="592.26" font-size="3.6" text-anchor="middle" fill="#111" stroke="#111" stroke-width="0.18" transform="rotate(-90 179.80 591.00)">400</text>
<text x="179.80" y="587.26" font-size="3.6" text-anchor="middle" fill="#111" stroke="#111" stroke-width="0.18" transform="rotate(-90 179.80 586.00)">450</text>
<line x1="187.48" y1="631.40" x2="187.48" y2="633.20" stroke="#444" stroke-width="0.5" />
<line x1="189.31" y1="631.40" x2="189.31" y2="633.20" stroke="#444" stroke-width="0.5" />
<line x1="190.81" y1="631.40" x2="190.81" y2="633.20" stroke="#444" stroke-width="0.5" />
<line x1="192.07" y1="631.40" x2="192.07" y2="633.20" stroke="#444" stroke-width="0.5" />
<line x1="193.17" y1="631.40" x2="193.17" y2="633.20" stroke="#444" stroke-width="0.5" />
<line x1="194.14" y1="631.40" x2="194.14" y2="633.20" stroke="#444" stroke-width="0.5" />
<line x1="195.00" y1="631.40" x2="195.00" y2="634.60" stroke="#444" stroke-width="0.5" />
<line x1="200.69" y1="631.40" x2="200.69" y2="633.20" stroke="#444" stroke-width="0.5" />
<line x1="204.02" y1="631.40" x2="204.02" y2="633.20" stroke="#444" stroke-width="0.5" />
<line x1="206.38" y1="631.40" x2="206.38" y2="633.20" stroke="#444" stroke-width="0.5" />
<line x1="208.21" y1="631.40" x2="208.21" y2="633.20" stroke="#444" stroke-width="0.5" />
<line x1="209.71" y1="631.40" x2="209.71" y2="633.20" stroke="#444" stroke-width="0.5" />
<line x1="210.97" y1="631.40" x2="210.97" y2="633.20" stroke="#444" stroke-width="0.5" />
<line x1="212.07" y1="631.40" x2="212.07" y2="633.20" stroke="#444" stroke-width="0.5" />
<line x1="213.04" y1="631.40" x2="213.04" y2="633.20" stroke="#444" stroke-width="0.5" />
<line x1="213.90" y1="631.40" x2="213.90" y2="634.60" stroke="#444" stroke-width="0.5" />
<line x1="219.59" y1="631.40" x2="219.59" y2="633.20" stroke="#444" stroke-width="0.5" />
<line x1="222.92" y1="631.40" x2="222.92" y2="633.20" stroke="#444" stroke-width="0.5" />
<line x1="225.28" y1="631.40" x2="225.28" y2="633.20" stroke="#444" stroke-width="0.5" />
<line x1="227.11" y1="631.40" x2="227.11" y2="633.20" stroke="#444" stroke-width="0.5" />
<line x1="228.61" y1="631.40" x2="228.61" y2="633.20" stroke="#444" stroke-width="0.5" />
<line x1="229.87" y1="631.40" x2="229.87" y2="633.20" stroke="#444" stroke-width="0.5" />
<line x1="230.97" y1="631.40" x2="230.97" y2="633.20" stroke="#444" stroke-width="0.5" />
<line x1="231.94" y1="631.40" x2="231.94" y2="633.20" stroke="#444" stroke-width="0.5" />
<line x1="232.80" y1="631.40" x2="232.80" y2="634.60" stroke="#444" stroke-width="0.5" />
<line x1="238.49" y1="631.40" x2="238.49" y2="633.20" stroke="#444" stroke-width="0.5" />
<line x1="241.82" y1="631.40" x2="241.82" y2="633.20" stroke="#444" stroke-width="0.5" />
<line x1="244.18" y1="631.40" x2="244.18" y2="633.20" stroke="#444" stroke-width="0.5" />
<line x1="246.01" y1="631.40" x2="246.01" y2="633.20" stroke="#444" stroke-width="0.5" />
<line x1="247.51" y1="631.40" x2="247.51" y2="633.20" stroke="#444" stroke-width="0.5" />
<line x1="248.77" y1="631.40" x2="248.77" y2="633.20" stroke="#444" stroke-width="0.5" />
<line x1="249.87" y1="631.40" x2="249.87" y2="633.20" stroke="#444" stroke-width="0.5" />
<line x1="250.84" y1="631.40" x2="250.84" y2="633.20" stroke="#444" stroke-width="0.5" />
<line x1="251.70" y1="631.40" x2="251.70" y2="634.60" stroke="#444" stroke-width="0.5" />
<line x1="257.39" y1="631.40" x2="257.39" y2="633.20" stroke="#444" stroke-width="0.5" />
<text x="194.20" y="643.89" font-size="5.4" text-anchor="middle" fill="#111" stroke="#111" stroke-width="0.18">10</text>
<text x="197.60" y="640.26" font-size="3.6" fill="#111" stroke="#111" stroke-width="0.18">2</text>
<text x="212.50" y="643.89" font-size="5.4" text-anchor="middle" fill="#111" stroke="#111" stroke-width="0.18">10</text>
<text x="215.90" y="640.26" font-size="3.6" fill="#111" stroke="#111" stroke-width="0.18">3</text>
<text x="231.70" y="643.89" font-size="5.4" text-anchor="middle" fill="#111" stroke="#111" stroke-width="0.18">10</text>
<text x="235.10" y="640.26" font-size="3.6" fill="#111" stroke="#111" stroke-width="0.18">4</text>
<text x="250.90" y="643.89" font-size="5.4" text-anchor="middle" fill="#111" stroke="#111" stroke-width="0.18">10</text>
<text x="254.30" y="640.26" font-size="3.6" fill="#111" stroke="#111" stroke-width="0.18">5</text>
<text x="205.60" y="574.66" font-size="7.6" font-weight="bold" fill="#111" textLength="33.60" lengthAdjust="spacingAndGlyphs">UH3 SCR</text>
<text x="212.70" y="584.16" font-size="7.6" font-weight="bold" fill="#111" textLength="19.20" lengthAdjust="spacingAndGlyphs">CsnB</text>
<text x="230.60" y="596.27" font-size="5.9" fill="#111" stroke="#111" stroke-width="0.18">43.2%</text>
<text x="230.60" y="602.67" font-size="5.9" fill="#111" stroke="#111" stroke-width="0.18">±2.2</text>
<rect x="269.80" y="585.30" width="74.30" height="47.50" fill="#fff"/>
<path d="M270.40,632.80 L270.40,632.50 L270.90,632.47 L271.40,632.50 L271.90,632.50 L272.40,632.46 L272.90,632.50 L273.40,632.50 L273.90,632.27 L274.40,632.50 L274.90,632.35 L275.40,632.33 L275.90,632.45 L276.40,632.23 L276.90,631.79 L277.40,632.03 L277.90,632.01 L278.40,632.13 L278.90,631.67 L279.40,632.12 L279.90,632.00 L280.40,632.25 L280.90,631.78 L281.40,631.23 L281.90,631.39 L282.40,630.72 L282.90,630.87 L283.40,630.02 L283.90,629.88 L284.40,630.49 L284.90,629.84 L285.40,628.29 L285.90,629.07 L286.40,628.17 L286.90,628.12 L287.40,627.44 L287.90,627.46 L288.40,627.43 L288.90,627.12 L289.40,625.84 L289.90,624.94 L290.40,623.72 L290.90,620.38 L291.40,619.26 L291.90,618.75 L292.40,617.80 L292.90,615.67 L293.40,613.33 L293.90,612.36 L294.40,608.47 L294.90,605.79 L295.40,603.90 L295.90,602.49 L296.40,598.58 L296.90,595.25 L297.40,592.52 L297.90,591.08 L298.40,591.25 L298.90,589.11 L299.40,586.19 L299.90,589.81 L300.40,592.64 L300.90,596.16 L301.40,597.16 L301.90,601.40 L302.40,606.22 L302.90,612.97 L303.40,618.09 L303.90,619.04 L304.40,620.36 L304.90,622.51 L305.40,626.17 L305.90,626.95 L306.40,627.24 L306.90,626.48 L307.40,627.00 L307.90,627.27 L308.40,627.63 L308.90,627.52 L309.40,628.04 L309.90,627.30 L310.40,628.57 L310.90,628.22 L311.40,629.14 L311.90,629.52 L312.40,629.49 L312.90,628.41 L313.40,629.63 L313.90,628.89 L314.40,629.69 L314.90,629.54 L315.40,628.58 L315.90,629.37 L316.40,629.79 L316.90,629.25 L317.40,630.36 L317.90,629.78 L318.40,629.94 L318.90,629.69 L319.40,630.47 L319.90,629.71 L320.40,630.00 L320.90,629.83 L321.40,630.08 L321.90,629.65 L322.40,630.22 L322.90,631.21 L323.40,630.45 L323.90,630.60 L324.40,630.41 L324.90,630.78 L325.40,630.58 L325.90,630.97 L326.40,630.47 L326.90,630.89 L327.40,631.62 L327.90,631.29 L328.40,631.34 L328.90,631.41 L329.40,632.00 L329.90,631.63 L330.40,631.14 L330.90,631.76 L331.40,631.31 L331.90,631.94 L332.40,631.68 L332.90,631.73 L333.40,631.74 L333.90,631.76 L334.40,632.00 L334.90,632.09 L335.40,631.76 L335.90,632.40 L336.40,631.91 L336.90,631.99 L337.40,632.21 L337.90,632.07 L338.40,632.23 L338.90,632.33 L339.40,632.29 L339.90,632.21 L340.40,632.36 L340.90,632.50 L341.40,632.35 L341.90,632.40 L342.40,632.50 L342.90,632.41 L342.90,632.80 Z" fill="#5f62b4" stroke="#2f3288" stroke-width="0.6" stroke-linejoin="round"/>
<line x1="306.00" y1="585.30" x2="306.00" y2="632.80" stroke="#4a4a4a" stroke-width="0.8" />
<line x1="306.00" y1="613.50" x2="344.10" y2="613.50" stroke="#4a4a4a" stroke-width="0.8" />
<line x1="269.80" y1="585.30" x2="344.10" y2="585.30" stroke="#7a7a7a" stroke-width="0.9" />
<line x1="269.80" y1="585.30" x2="269.80" y2="632.80" stroke="#555" stroke-width="0.9" />
<line x1="269.80" y1="632.80" x2="344.10" y2="632.80" stroke="#555" stroke-width="0.9" />
<line x1="344.10" y1="584.90" x2="344.10" y2="632.80" stroke="#444" stroke-width="0.9" />
<line x1="266.20" y1="632.80" x2="269.80" y2="632.80" stroke="#444" stroke-width="0.6" />
<line x1="267.40" y1="630.52" x2="269.80" y2="630.52" stroke="#444" stroke-width="0.6" />
<line x1="267.40" y1="628.24" x2="269.80" y2="628.24" stroke="#444" stroke-width="0.6" />
<line x1="267.40" y1="625.96" x2="269.80" y2="625.96" stroke="#444" stroke-width="0.6" />
<line x1="267.40" y1="623.68" x2="269.80" y2="623.68" stroke="#444" stroke-width="0.6" />
<line x1="266.20" y1="621.40" x2="269.80" y2="621.40" stroke="#444" stroke-width="0.6" />
<line x1="267.40" y1="619.48" x2="269.80" y2="619.48" stroke="#444" stroke-width="0.6" />
<line x1="267.40" y1="617.56" x2="269.80" y2="617.56" stroke="#444" stroke-width="0.6" />
<line x1="267.40" y1="615.64" x2="269.80" y2="615.64" stroke="#444" stroke-width="0.6" />
<line x1="267.40" y1="613.72" x2="269.80" y2="613.72" stroke="#444" stroke-width="0.6" />
<line x1="266.20" y1="611.80" x2="269.80" y2="611.80" stroke="#444" stroke-width="0.6" />
<line x1="267.40" y1="609.92" x2="269.80" y2="609.92" stroke="#444" stroke-width="0.6" />
<line x1="267.40" y1="608.04" x2="269.80" y2="608.04" stroke="#444" stroke-width="0.6" />
<line x1="267.40" y1="606.16" x2="269.80" y2="606.16" stroke="#444" stroke-width="0.6" />
<line x1="267.40" y1="604.28" x2="269.80" y2="604.28" stroke="#444" stroke-width="0.6" />
<line x1="266.20" y1="602.40" x2="269.80" y2="602.40" stroke="#444" stroke-width="0.6" />
<line x1="267.40" y1="600.52" x2="269.80" y2="600.52" stroke="#444" stroke-width="0.6" />
<line x1="267.40" y1="598.64" x2="269.80" y2="598.64" stroke="#444" stroke-width="0.6" />
<line x1="267.40" y1="596.76" x2="269.80" y2="596.76" stroke="#444" stroke-width="0.6" />
<line x1="267.40" y1="594.88" x2="269.80" y2="594.88" stroke="#444" stroke-width="0.6" />
<line x1="266.20" y1="593.00" x2="269.80" y2="593.00" stroke="#444" stroke-width="0.6" />
<line x1="267.40" y1="590.72" x2="269.80" y2="590.72" stroke="#444" stroke-width="0.6" />
<line x1="267.40" y1="588.44" x2="269.80" y2="588.44" stroke="#444" stroke-width="0.6" />
<line x1="267.40" y1="586.16" x2="269.80" y2="586.16" stroke="#444" stroke-width="0.6" />
<text x="263.30" y="634.34" font-size="4.4" text-anchor="middle" fill="#111" stroke="#111" stroke-width="0.18" transform="rotate(-90 263.30 632.80)">0</text>
<text x="263.30" y="622.94" font-size="4.4" text-anchor="middle" fill="#111" stroke="#111" stroke-width="0.18" transform="rotate(-90 263.30 621.40)">50</text>
<text x="263.30" y="613.34" font-size="4.4" text-anchor="middle" fill="#111" stroke="#111" stroke-width="0.18" transform="rotate(-90 263.30 611.80)">100</text>
<text x="263.30" y="603.94" font-size="4.4" text-anchor="middle" fill="#111" stroke="#111" stroke-width="0.18" transform="rotate(-90 263.30 602.40)">150</text>
<text x="263.30" y="594.54" font-size="4.4" text-anchor="middle" fill="#111" stroke="#111" stroke-width="0.18" transform="rotate(-90 263.30 593.00)">200</text>
<line x1="271.91" y1="632.80" x2="271.91" y2="634.60" stroke="#444" stroke-width="0.5" />
<line x1="273.76" y1="632.80" x2="273.76" y2="634.60" stroke="#444" stroke-width="0.5" />
<line x1="275.27" y1="632.80" x2="275.27" y2="634.60" stroke="#444" stroke-width="0.5" />
<line x1="276.55" y1="632.80" x2="276.55" y2="634.60" stroke="#444" stroke-width="0.5" />
<line x1="277.65" y1="632.80" x2="277.65" y2="634.60" stroke="#444" stroke-width="0.5" />
<line x1="278.63" y1="632.80" x2="278.63" y2="634.60" stroke="#444" stroke-width="0.5" />
<line x1="279.50" y1="632.80" x2="279.50" y2="636.00" stroke="#444" stroke-width="0.5" />
<line x1="285.24" y1="632.80" x2="285.24" y2="634.60" stroke="#444" stroke-width="0.5" />
<line x1="288.60" y1="632.80" x2="288.60" y2="634.60" stroke="#444" stroke-width="0.5" />
<line x1="290.98" y1="632.80" x2="290.98" y2="634.60" stroke="#444" stroke-width="0.5" />
<line x1="292.83" y1="632.80" x2="292.83" y2="634.60" stroke="#444" stroke-width="0.5" />
<line x1="294.34" y1="632.80" x2="294.34" y2="634.60" stroke="#444" stroke-width="0.5" />
<line x1="295.61" y1="632.80" x2="295.61" y2="634.60" stroke="#444" stroke-width="0.5" />
<line x1="296.72" y1="632.80" x2="296.72" y2="634.60" stroke="#444" stroke-width="0.5" />
<line x1="297.69" y1="632.80" x2="297.69" y2="634.60" stroke="#444" stroke-width="0.5" />
<line x1="298.57" y1="632.80" x2="298.57" y2="636.00" stroke="#444" stroke-width="0.5" />
<line x1="304.31" y1="632.80" x2="304.31" y2="634.60" stroke="#444" stroke-width="0.5" />
<line x1="307.66" y1="632.80" x2="307.66" y2="634.60" stroke="#444" stroke-width="0.5" />
<line x1="310.05" y1="632.80" x2="310.05" y2="634.60" stroke="#444" stroke-width="0.5" />
<line x1="311.89" y1="632.80" x2="311.89" y2="634.60" stroke="#444" stroke-width="0.5" />
<line x1="313.40" y1="632.80" x2="313.40" y2="634.60" stroke="#444" stroke-width="0.5" />
<line x1="314.68" y1="632.80" x2="314.68" y2="634.60" stroke="#444" stroke-width="0.5" />
<line x1="315.79" y1="632.80" x2="315.79" y2="634.60" stroke="#444" stroke-width="0.5" />
<line x1="316.76" y1="632.80" x2="316.76" y2="634.60" stroke="#444" stroke-width="0.5" />
<line x1="317.63" y1="632.80" x2="317.63" y2="636.00" stroke="#444" stroke-width="0.5" />
<line x1="323.37" y1="632.80" x2="323.37" y2="634.60" stroke="#444" stroke-width="0.5" />
<line x1="326.73" y1="632.80" x2="326.73" y2="634.60" stroke="#444" stroke-width="0.5" />
<line x1="329.11" y1="632.80" x2="329.11" y2="634.60" stroke="#444" stroke-width="0.5" />
<line x1="330.96" y1="632.80" x2="330.96" y2="634.60" stroke="#444" stroke-width="0.5" />
<line x1="332.47" y1="632.80" x2="332.47" y2="634.60" stroke="#444" stroke-width="0.5" />
<line x1="333.75" y1="632.80" x2="333.75" y2="634.60" stroke="#444" stroke-width="0.5" />
<line x1="334.85" y1="632.80" x2="334.85" y2="634.60" stroke="#444" stroke-width="0.5" />
<line x1="335.83" y1="632.80" x2="335.83" y2="634.60" stroke="#444" stroke-width="0.5" />
<line x1="336.70" y1="632.80" x2="336.70" y2="636.00" stroke="#444" stroke-width="0.5" />
<line x1="342.44" y1="632.80" x2="342.44" y2="634.60" stroke="#444" stroke-width="0.5" />
<text x="278.70" y="644.69" font-size="5.4" text-anchor="middle" fill="#111" stroke="#111" stroke-width="0.18">10</text>
<text x="282.10" y="641.06" font-size="3.6" fill="#111" stroke="#111" stroke-width="0.18">2</text>
<text x="297.50" y="644.69" font-size="5.4" text-anchor="middle" fill="#111" stroke="#111" stroke-width="0.18">10</text>
<text x="300.90" y="641.06" font-size="3.6" fill="#111" stroke="#111" stroke-width="0.18">3</text>
<text x="316.70" y="644.69" font-size="5.4" text-anchor="middle" fill="#111" stroke="#111" stroke-width="0.18">10</text>
<text x="320.10" y="641.06" font-size="3.6" fill="#111" stroke="#111" stroke-width="0.18">4</text>
<text x="335.90" y="644.69" font-size="5.4" text-anchor="middle" fill="#111" stroke="#111" stroke-width="0.18">10</text>
<text x="339.30" y="641.06" font-size="3.6" fill="#111" stroke="#111" stroke-width="0.18">5</text>
<text x="279.60" y="574.66" font-size="7.6" font-weight="bold" fill="#111" textLength="54.20" lengthAdjust="spacingAndGlyphs">UH3 siNR4A1-1</text>
<text x="297.70" y="584.16" font-size="7.6" font-weight="bold" fill="#111" textLength="18.80" lengthAdjust="spacingAndGlyphs">CsnB</text>
<text x="316.50" y="599.57" font-size="5.9" fill="#111" stroke="#111" stroke-width="0.18">14.1%</text>
<text x="316.50" y="607.27" font-size="5.9" fill="#111" stroke="#111" stroke-width="0.18">±1.2</text>
<rect x="355.80" y="585.40" width="73.50" height="47.40" fill="#fff"/>
<path d="M356.40,632.80 L356.40,632.50 L356.90,632.50 L357.40,632.50 L357.90,632.50 L358.40,632.50 L358.90,632.50 L359.40,632.50 L359.90,632.50 L360.40,632.50 L360.90,632.50 L361.40,632.50 L361.90,632.50 L362.40,632.50 L362.90,632.50 L363.40,632.50 L363.90,632.47 L364.40,632.23 L364.90,632.18 L365.40,632.23 L365.90,632.23 L366.40,632.21 L366.90,632.05 L367.40,631.92 L367.90,631.49 L368.40,631.26 L368.90,631.44 L369.40,631.06 L369.90,630.65 L370.40,629.99 L370.90,629.96 L371.40,629.36 L371.90,629.08 L372.40,629.08 L372.90,628.20 L373.40,628.13 L373.90,626.66 L374.40,627.36 L374.90,626.43 L375.40,625.79 L375.90,624.51 L376.40,623.91 L376.90,620.32 L377.40,618.73 L377.90,617.33 L378.40,615.89 L378.90,615.45 L379.40,612.93 L379.90,613.20 L380.40,608.54 L380.90,604.46 L381.40,601.16 L381.90,597.68 L382.40,595.85 L382.90,592.97 L383.40,594.47 L383.90,592.87 L384.40,590.76 L384.90,589.70 L385.40,586.83 L385.90,587.07 L386.40,588.92 L386.90,593.29 L387.40,597.26 L387.90,599.79 L388.40,601.24 L388.90,607.53 L389.40,608.90 L389.90,614.85 L390.40,617.15 L390.90,620.16 L391.40,621.03 L391.90,622.04 L392.40,623.93 L392.90,625.16 L393.40,625.19 L393.90,626.88 L394.40,625.33 L394.90,626.74 L395.40,626.91 L395.90,627.38 L396.40,627.69 L396.90,627.40 L397.40,628.46 L397.90,628.75 L398.40,628.67 L398.90,629.61 L399.40,629.07 L399.90,629.15 L400.40,629.15 L400.90,630.05 L401.40,629.00 L401.90,630.45 L402.40,629.39 L402.90,629.41 L403.40,629.66 L403.90,629.77 L404.40,629.75 L404.90,629.54 L405.40,630.03 L405.90,629.52 L406.40,630.67 L406.90,630.36 L407.40,630.12 L407.90,630.53 L408.40,630.70 L408.90,630.42 L409.40,630.71 L409.90,630.29 L410.40,631.60 L410.90,630.97 L411.40,631.43 L411.90,630.86 L412.40,631.38 L412.90,631.22 L413.40,631.73 L413.90,631.73 L414.40,631.62 L414.90,631.78 L415.40,631.89 L415.90,631.92 L416.40,631.83 L416.90,632.09 L417.40,632.18 L417.90,632.47 L418.40,632.50 L418.90,632.49 L419.40,632.50 L419.90,632.50 L420.40,632.50 L420.90,632.50 L421.40,632.50 L421.90,632.50 L422.40,632.50 L422.90,632.50 L423.40,632.50 L423.90,632.50 L424.40,632.50 L424.90,632.50 L425.40,632.50 L425.90,632.50 L426.40,632.50 L426.90,632.50 L427.40,632.50 L427.90,632.50 L427.90,632.80 Z" fill="#5f62b4" stroke="#2f3288" stroke-width="0.6" stroke-linejoin="round"/>
<line x1="390.40" y1="588.00" x2="390.40" y2="632.80" stroke="#2f3288" stroke-width="0.7" />
<line x1="392.30" y1="585.40" x2="392.30" y2="632.80" stroke="#4a4a4a" stroke-width="0.8" />
<line x1="392.30" y1="616.40" x2="429.30" y2="616.40" stroke="#4a4a4a" stroke-width="0.8" />
<line x1="355.80" y1="585.40" x2="429.30" y2="585.40" stroke="#7a7a7a" stroke-width="0.9" />
<line x1="355.80" y1="585.40" x2="355.80" y2="632.80" stroke="#555" stroke-width="0.9" />
<line x1="355.80" y1="632.80" x2="429.30" y2="632.80" stroke="#555" stroke-width="0.9" />
<line x1="429.30" y1="585.00" x2="429.30" y2="632.80" stroke="#444" stroke-width="0.9" />
<line x1="352.20" y1="632.80" x2="355.80" y2="632.80" stroke="#444" stroke-width="0.6" />
<line x1="353.40" y1="630.52" x2="355.80" y2="630.52" stroke="#444" stroke-width="0.6" />
<line x1="353.40" y1="628.24" x2="355.80" y2="628.24" stroke="#444" stroke-width="0.6" />
<line x1="353.40" y1="625.96" x2="355.80" y2="625.96" stroke="#444" stroke-width="0.6" />
<line x1="353.40" y1="623.68" x2="355.80" y2="623.68" stroke="#444" stroke-width="0.6" />
<line x1="352.20" y1="621.40" x2="355.80" y2="621.40" stroke="#444" stroke-width="0.6" />
<line x1="353.40" y1="619.48" x2="355.80" y2="619.48" stroke="#444" stroke-width="0.6" />
<line x1="353.40" y1="617.56" x2="355.80" y2="617.56" stroke="#444" stroke-width="0.6" />
<line x1="353.40" y1="615.64" x2="355.80" y2="615.64" stroke="#444" stroke-width="0.6" />
<line x1="353.40" y1="613.72" x2="355.80" y2="613.72" stroke="#444" stroke-width="0.6" />
<line x1="352.20" y1="611.80" x2="355.80" y2="611.80" stroke="#444" stroke-width="0.6" />
<line x1="353.40" y1="609.92" x2="355.80" y2="609.92" stroke="#444" stroke-width="0.6" />
<line x1="353.40" y1="608.04" x2="355.80" y2="608.04" stroke="#444" stroke-width="0.6" />
<line x1="353.40" y1="606.16" x2="355.80" y2="606.16" stroke="#444" stroke-width="0.6" />
<line x1="353.40" y1="604.28" x2="355.80" y2="604.28" stroke="#444" stroke-width="0.6" />
<line x1="352.20" y1="602.40" x2="355.80" y2="602.40" stroke="#444" stroke-width="0.6" />
<line x1="353.40" y1="600.52" x2="355.80" y2="600.52" stroke="#444" stroke-width="0.6" />
<line x1="353.40" y1="598.64" x2="355.80" y2="598.64" stroke="#444" stroke-width="0.6" />
<line x1="353.40" y1="596.76" x2="355.80" y2="596.76" stroke="#444" stroke-width="0.6" />
<line x1="353.40" y1="594.88" x2="355.80" y2="594.88" stroke="#444" stroke-width="0.6" />
<line x1="352.20" y1="593.00" x2="355.80" y2="593.00" stroke="#444" stroke-width="0.6" />
<line x1="353.40" y1="590.72" x2="355.80" y2="590.72" stroke="#444" stroke-width="0.6" />
<line x1="353.40" y1="588.44" x2="355.80" y2="588.44" stroke="#444" stroke-width="0.6" />
<line x1="353.40" y1="586.16" x2="355.80" y2="586.16" stroke="#444" stroke-width="0.6" />
<text x="349.50" y="634.34" font-size="4.4" text-anchor="middle" fill="#111" stroke="#111" stroke-width="0.18" transform="rotate(-90 349.50 632.80)">0</text>
<text x="349.50" y="622.94" font-size="4.4" text-anchor="middle" fill="#111" stroke="#111" stroke-width="0.18" transform="rotate(-90 349.50 621.40)">50</text>
<text x="349.50" y="613.34" font-size="4.4" text-anchor="middle" fill="#111" stroke="#111" stroke-width="0.18" transform="rotate(-90 349.50 611.80)">100</text>
<text x="349.50" y="603.94" font-size="4.4" text-anchor="middle" fill="#111" stroke="#111" stroke-width="0.18" transform="rotate(-90 349.50 602.40)">150</text>
<text x="349.50" y="594.54" font-size="4.4" text-anchor="middle" fill="#111" stroke="#111" stroke-width="0.18" transform="rotate(-90 349.50 593.00)">200</text>
<line x1="356.29" y1="632.80" x2="356.29" y2="634.60" stroke="#444" stroke-width="0.5" />
<line x1="358.61" y1="632.80" x2="358.61" y2="634.60" stroke="#444" stroke-width="0.5" />
<line x1="360.41" y1="632.80" x2="360.41" y2="634.60" stroke="#444" stroke-width="0.5" />
<line x1="361.88" y1="632.80" x2="361.88" y2="634.60" stroke="#444" stroke-width="0.5" />
<line x1="363.12" y1="632.80" x2="363.12" y2="634.60" stroke="#444" stroke-width="0.5" />
<line x1="364.20" y1="632.80" x2="364.20" y2="634.60" stroke="#444" stroke-width="0.5" />
<line x1="365.15" y1="632.80" x2="365.15" y2="634.60" stroke="#444" stroke-width="0.5" />
<line x1="366.00" y1="632.80" x2="366.00" y2="636.00" stroke="#444" stroke-width="0.5" />
<line x1="371.59" y1="632.80" x2="371.59" y2="634.60" stroke="#444" stroke-width="0.5" />
<line x1="374.86" y1="632.80" x2="374.86" y2="634.60" stroke="#444" stroke-width="0.5" />
<line x1="377.18" y1="632.80" x2="377.18" y2="634.60" stroke="#444" stroke-width="0.5" />
<line x1="378.98" y1="632.80" x2="378.98" y2="634.60" stroke="#444" stroke-width="0.5" />
<line x1="380.45" y1="632.80" x2="380.45" y2="634.60" stroke="#444" stroke-width="0.5" />
<line x1="381.69" y1="632.80" x2="381.69" y2="634.60" stroke="#444" stroke-width="0.5" />
<line x1="382.77" y1="632.80" x2="382.77" y2="634.60" stroke="#444" stroke-width="0.5" />
<line x1="383.72" y1="632.80" x2="383.72" y2="634.60" stroke="#444" stroke-width="0.5" />
<line x1="384.57" y1="632.80" x2="384.57" y2="636.00" stroke="#444" stroke-width="0.5" />
<line x1="390.16" y1="632.80" x2="390.16" y2="634.60" stroke="#444" stroke-width="0.5" />
<line x1="393.43" y1="632.80" x2="393.43" y2="634.60" stroke="#444" stroke-width="0.5" />
<line x1="395.74" y1="632.80" x2="395.74" y2="634.60" stroke="#444" stroke-width="0.5" />
<line x1="397.54" y1="632.80" x2="397.54" y2="634.60" stroke="#444" stroke-width="0.5" />
<line x1="399.01" y1="632.80" x2="399.01" y2="634.60" stroke="#444" stroke-width="0.5" />
<line x1="400.26" y1="632.80" x2="400.26" y2="634.60" stroke="#444" stroke-width="0.5" />
<line x1="401.33" y1="632.80" x2="401.33" y2="634.60" stroke="#444" stroke-width="0.5" />
<line x1="402.28" y1="632.80" x2="402.28" y2="634.60" stroke="#444" stroke-width="0.5" />
<line x1="403.13" y1="632.80" x2="403.13" y2="636.00" stroke="#444" stroke-width="0.5" />
<line x1="408.72" y1="632.80" x2="408.72" y2="634.60" stroke="#444" stroke-width="0.5" />
<line x1="411.99" y1="632.80" x2="411.99" y2="634.60" stroke="#444" stroke-width="0.5" />
<line x1="414.31" y1="632.80" x2="414.31" y2="634.60" stroke="#444" stroke-width="0.5" />
<line x1="416.11" y1="632.80" x2="416.11" y2="634.60" stroke="#444" stroke-width="0.5" />
<line x1="417.58" y1="632.80" x2="417.58" y2="634.60" stroke="#444" stroke-width="0.5" />
<line x1="418.82" y1="632.80" x2="418.82" y2="634.60" stroke="#444" stroke-width="0.5" />
<line x1="419.90" y1="632.80" x2="419.90" y2="634.60" stroke="#444" stroke-width="0.5" />
<line x1="420.85" y1="632.80" x2="420.85" y2="634.60" stroke="#444" stroke-width="0.5" />
<line x1="421.70" y1="632.80" x2="421.70" y2="636.00" stroke="#444" stroke-width="0.5" />
<line x1="427.29" y1="632.80" x2="427.29" y2="634.60" stroke="#444" stroke-width="0.5" />
<text x="365.20" y="644.89" font-size="5.4" text-anchor="middle" fill="#111" stroke="#111" stroke-width="0.18">10</text>
<text x="368.60" y="641.26" font-size="3.6" fill="#111" stroke="#111" stroke-width="0.18">2</text>
<text x="383.80" y="644.89" font-size="5.4" text-anchor="middle" fill="#111" stroke="#111" stroke-width="0.18">10</text>
<text x="387.20" y="641.26" font-size="3.6" fill="#111" stroke="#111" stroke-width="0.18">3</text>
<text x="402.70" y="644.89" font-size="5.4" text-anchor="middle" fill="#111" stroke="#111" stroke-width="0.18">10</text>
<text x="406.10" y="641.26" font-size="3.6" fill="#111" stroke="#111" stroke-width="0.18">4</text>
<text x="420.90" y="644.89" font-size="5.4" text-anchor="middle" fill="#111" stroke="#111" stroke-width="0.18">10</text>
<text x="424.30" y="641.26" font-size="3.6" fill="#111" stroke="#111" stroke-width="0.18">5</text>
<text x="364.60" y="574.66" font-size="7.6" font-weight="bold" fill="#111" textLength="54.20" lengthAdjust="spacingAndGlyphs">UH3 siNR4A1-9</text>
<text x="382.70" y="584.16" font-size="7.6" font-weight="bold" fill="#111" textLength="18.80" lengthAdjust="spacingAndGlyphs">CsnB</text>
<text x="405.40" y="599.57" font-size="5.9" fill="#111" stroke="#111" stroke-width="0.18">16.3%</text>
<text x="405.40" y="607.27" font-size="5.9" fill="#111" stroke="#111" stroke-width="0.18">±2.0</text>
<rect x="442.50" y="585.40" width="74.00" height="47.40" fill="#fff"/>
<path d="M443.10,632.80 L443.10,632.39 L443.60,632.04 L444.10,632.50 L444.60,632.50 L445.10,632.26 L445.60,631.89 L446.10,632.50 L446.60,631.56 L447.10,632.50 L447.60,632.01 L448.10,632.25 L448.60,632.03 L449.10,632.22 L449.60,632.29 L450.10,631.45 L450.60,632.50 L451.10,632.50 L451.60,631.51 L452.10,632.08 L452.60,629.83 L453.10,631.69 L453.60,629.58 L454.10,631.12 L454.60,631.07 L455.10,630.87 L455.60,630.79 L456.10,629.59 L456.60,629.90 L457.10,628.94 L457.60,628.10 L458.10,627.49 L458.60,628.16 L459.10,627.37 L459.60,627.57 L460.10,627.15 L460.60,626.50 L461.10,625.73 L461.60,624.54 L462.10,623.58 L462.60,620.55 L463.10,620.55 L463.60,621.37 L464.10,618.40 L464.60,621.41 L465.10,617.69 L465.60,614.11 L466.10,609.08 L466.60,610.49 L467.10,604.61 L467.60,608.34 L468.10,604.34 L468.60,607.61 L469.10,602.36 L469.60,595.96 L470.10,599.89 L470.60,600.85 L471.10,595.11 L471.60,591.03 L472.10,593.16 L472.60,592.07 L473.10,594.41 L473.60,591.61 L474.10,588.42 L474.60,591.98 L475.10,585.80 L475.60,593.08 L476.10,588.58 L476.60,591.80 L477.10,595.32 L477.60,596.03 L478.10,596.56 L478.60,598.58 L479.10,597.24 L479.60,598.36 L480.10,602.98 L480.60,601.67 L481.10,598.47 L481.60,600.53 L482.10,600.46 L482.60,601.04 L483.10,600.82 L483.60,599.99 L484.10,600.61 L484.60,599.34 L485.10,603.40 L485.60,608.16 L486.10,602.50 L486.60,605.16 L487.10,600.41 L487.60,602.44 L488.10,601.55 L488.60,601.33 L489.10,600.43 L489.60,604.56 L490.10,605.35 L490.60,605.43 L491.10,602.73 L491.60,607.54 L492.10,602.73 L492.60,604.60 L493.10,603.53 L493.60,604.30 L494.10,605.08 L494.60,601.51 L495.10,605.15 L495.60,606.32 L496.10,606.69 L496.60,608.45 L497.10,605.70 L497.60,607.46 L498.10,600.09 L498.60,606.38 L499.10,605.72 L499.60,605.93 L500.10,609.10 L500.60,609.02 L501.10,608.49 L501.60,604.05 L502.10,605.88 L502.60,614.24 L503.10,612.31 L503.60,613.79 L504.10,610.95 L504.60,615.05 L505.10,614.01 L505.60,615.66 L506.10,616.02 L506.60,615.98 L507.10,616.56 L507.60,617.26 L508.10,620.99 L508.60,618.79 L509.10,622.17 L509.60,619.53 L510.10,623.27 L510.60,624.66 L511.10,624.71 L511.60,624.30 L512.10,626.85 L512.60,624.66 L513.10,626.35 L513.60,625.17 L514.10,625.24 L514.60,626.10 L515.10,627.40 L515.10,632.80 Z" fill="#5f62b4" stroke="#2f3288" stroke-width="0.6" stroke-linejoin="round"/>
<line x1="478.30" y1="585.40" x2="478.30" y2="632.80" stroke="#4a4a4a" stroke-width="0.8" />
<line x1="478.30" y1="614.80" x2="516.50" y2="614.80" stroke="#4a4a4a" stroke-width="0.8" />
<line x1="442.50" y1="585.40" x2="516.50" y2="585.40" stroke="#7a7a7a" stroke-width="0.9" />
<line x1="442.50" y1="585.40" x2="442.50" y2="632.80" stroke="#555" stroke-width="0.9" />
<line x1="442.50" y1="632.80" x2="516.50" y2="632.80" stroke="#555" stroke-width="0.9" />
<line x1="516.50" y1="585.00" x2="516.50" y2="632.80" stroke="#444" stroke-width="0.9" />
<line x1="437.50" y1="632.80" x2="442.50" y2="632.80" stroke="#444" stroke-width="0.6" />
<line x1="437.50" y1="627.40" x2="442.50" y2="627.40" stroke="#444" stroke-width="0.6" />
<line x1="437.50" y1="621.40" x2="442.50" y2="621.40" stroke="#444" stroke-width="0.6" />
<line x1="437.50" y1="616.40" x2="442.50" y2="616.40" stroke="#444" stroke-width="0.6" />
<line x1="437.50" y1="610.70" x2="442.50" y2="610.70" stroke="#444" stroke-width="0.6" />
<line x1="437.50" y1="605.00" x2="442.50" y2="605.00" stroke="#444" stroke-width="0.6" />
<line x1="437.50" y1="600.00" x2="442.50" y2="600.00" stroke="#444" stroke-width="0.6" />
<line x1="437.50" y1="594.50" x2="442.50" y2="594.50" stroke="#444" stroke-width="0.6" />
<line x1="437.50" y1="589.00" x2="442.50" y2="589.00" stroke="#444" stroke-width="0.6" />
<text x="435.30" y="633.99" font-size="3.4" text-anchor="middle" fill="#111" stroke="#111" stroke-width="0.18" transform="rotate(-90 435.30 632.80)">0</text>
<text x="435.30" y="628.59" font-size="3.4" text-anchor="middle" fill="#111" stroke="#111" stroke-width="0.18" transform="rotate(-90 435.30 627.40)">500</text>
<text x="435.30" y="622.59" font-size="3.4" text-anchor="middle" fill="#111" stroke="#111" stroke-width="0.18" transform="rotate(-90 435.30 621.40)">1000</text>
<text x="435.30" y="617.59" font-size="3.4" text-anchor="middle" fill="#111" stroke="#111" stroke-width="0.18" transform="rotate(-90 435.30 616.40)">1500</text>
<text x="435.30" y="611.89" font-size="3.4" text-anchor="middle" fill="#111" stroke="#111" stroke-width="0.18" transform="rotate(-90 435.30 610.70)">2000</text>
<text x="435.30" y="606.19" font-size="3.4" text-anchor="middle" fill="#111" stroke="#111" stroke-width="0.18" transform="rotate(-90 435.30 605.00)">2500</text>
<text x="435.30" y="601.19" font-size="3.4" text-anchor="middle" fill="#111" stroke="#111" stroke-width="0.18" transform="rotate(-90 435.30 600.00)">3000</text>
<text x="435.30" y="595.69" font-size="3.4" text-anchor="middle" fill="#111" stroke="#111" stroke-width="0.18" transform="rotate(-90 435.30 594.50)">3500</text>
<text x="435.30" y="590.19" font-size="3.4" text-anchor="middle" fill="#111" stroke="#111" stroke-width="0.18" transform="rotate(-90 435.30 589.00)">4000</text>
<line x1="443.15" y1="632.80" x2="443.15" y2="634.60" stroke="#444" stroke-width="0.5" />
<line x1="445.01" y1="632.80" x2="445.01" y2="634.60" stroke="#444" stroke-width="0.5" />
<line x1="446.53" y1="632.80" x2="446.53" y2="634.60" stroke="#444" stroke-width="0.5" />
<line x1="447.82" y1="632.80" x2="447.82" y2="634.60" stroke="#444" stroke-width="0.5" />
<line x1="448.94" y1="632.80" x2="448.94" y2="634.60" stroke="#444" stroke-width="0.5" />
<line x1="449.92" y1="632.80" x2="449.92" y2="634.60" stroke="#444" stroke-width="0.5" />
<line x1="450.80" y1="632.80" x2="450.80" y2="636.00" stroke="#444" stroke-width="0.5" />
<line x1="456.59" y1="632.80" x2="456.59" y2="634.60" stroke="#444" stroke-width="0.5" />
<line x1="459.98" y1="632.80" x2="459.98" y2="634.60" stroke="#444" stroke-width="0.5" />
<line x1="462.38" y1="632.80" x2="462.38" y2="634.60" stroke="#444" stroke-width="0.5" />
<line x1="464.24" y1="632.80" x2="464.24" y2="634.60" stroke="#444" stroke-width="0.5" />
<line x1="465.77" y1="632.80" x2="465.77" y2="634.60" stroke="#444" stroke-width="0.5" />
<line x1="467.05" y1="632.80" x2="467.05" y2="634.60" stroke="#444" stroke-width="0.5" />
<line x1="468.17" y1="632.80" x2="468.17" y2="634.60" stroke="#444" stroke-width="0.5" />
<line x1="469.15" y1="632.80" x2="469.15" y2="634.60" stroke="#444" stroke-width="0.5" />
<line x1="470.03" y1="632.80" x2="470.03" y2="636.00" stroke="#444" stroke-width="0.5" />
<line x1="475.82" y1="632.80" x2="475.82" y2="634.60" stroke="#444" stroke-width="0.5" />
<line x1="479.21" y1="632.80" x2="479.21" y2="634.60" stroke="#444" stroke-width="0.5" />
<line x1="481.61" y1="632.80" x2="481.61" y2="634.60" stroke="#444" stroke-width="0.5" />
<line x1="483.48" y1="632.80" x2="483.48" y2="634.60" stroke="#444" stroke-width="0.5" />
<line x1="485.00" y1="632.80" x2="485.00" y2="634.60" stroke="#444" stroke-width="0.5" />
<line x1="486.29" y1="632.80" x2="486.29" y2="634.60" stroke="#444" stroke-width="0.5" />
<line x1="487.40" y1="632.80" x2="487.40" y2="634.60" stroke="#444" stroke-width="0.5" />
<line x1="488.39" y1="632.80" x2="488.39" y2="634.60" stroke="#444" stroke-width="0.5" />
<line x1="489.27" y1="632.80" x2="489.27" y2="636.00" stroke="#444" stroke-width="0.5" />
<line x1="495.06" y1="632.80" x2="495.06" y2="634.60" stroke="#444" stroke-width="0.5" />
<line x1="498.44" y1="632.80" x2="498.44" y2="634.60" stroke="#444" stroke-width="0.5" />
<line x1="500.85" y1="632.80" x2="500.85" y2="634.60" stroke="#444" stroke-width="0.5" />
<line x1="502.71" y1="632.80" x2="502.71" y2="634.60" stroke="#444" stroke-width="0.5" />
<line x1="504.23" y1="632.80" x2="504.23" y2="634.60" stroke="#444" stroke-width="0.5" />
<line x1="505.52" y1="632.80" x2="505.52" y2="634.60" stroke="#444" stroke-width="0.5" />
<line x1="506.64" y1="632.80" x2="506.64" y2="634.60" stroke="#444" stroke-width="0.5" />
<line x1="507.62" y1="632.80" x2="507.62" y2="634.60" stroke="#444" stroke-width="0.5" />
<line x1="508.50" y1="632.80" x2="508.50" y2="636.00" stroke="#444" stroke-width="0.5" />
<line x1="514.29" y1="632.80" x2="514.29" y2="634.60" stroke="#444" stroke-width="0.5" />
<text x="450.00" y="644.59" font-size="5.4" text-anchor="middle" fill="#111" stroke="#111" stroke-width="0.18">10</text>
<text x="453.40" y="640.96" font-size="3.6" fill="#111" stroke="#111" stroke-width="0.18">2</text>
<text x="469.60" y="644.59" font-size="5.4" text-anchor="middle" fill="#111" stroke="#111" stroke-width="0.18">10</text>
<text x="473.00" y="640.96" font-size="3.6" fill="#111" stroke="#111" stroke-width="0.18">3</text>
<text x="488.40" y="644.59" font-size="5.4" text-anchor="middle" fill="#111" stroke="#111" stroke-width="0.18">10</text>
<text x="491.80" y="640.96" font-size="3.6" fill="#111" stroke="#111" stroke-width="0.18">4</text>
<text x="507.70" y="644.59" font-size="5.4" text-anchor="middle" fill="#111" stroke="#111" stroke-width="0.18">10</text>
<text x="511.10" y="640.96" font-size="3.6" fill="#111" stroke="#111" stroke-width="0.18">5</text>
<text x="448.80" y="574.66" font-size="7.6" font-weight="bold" fill="#111" textLength="54.90" lengthAdjust="spacingAndGlyphs">UH3 siNR4A3-2</text>
<text x="467.10" y="584.16" font-size="7.6" font-weight="bold" fill="#111" textLength="19.20" lengthAdjust="spacingAndGlyphs">CsnB</text>
<text x="495.40" y="595.07" font-size="5.9" fill="#111" stroke="#111" stroke-width="0.18">58.4%</text>
<text x="495.40" y="602.47" font-size="5.9" fill="#111" stroke="#111" stroke-width="0.18">±5.6</text>
<text x="497.00" y="612.75" font-size="5.0" fill="#111" stroke="#111" stroke-width="0.18">P4</text>
</svg></body></html>
